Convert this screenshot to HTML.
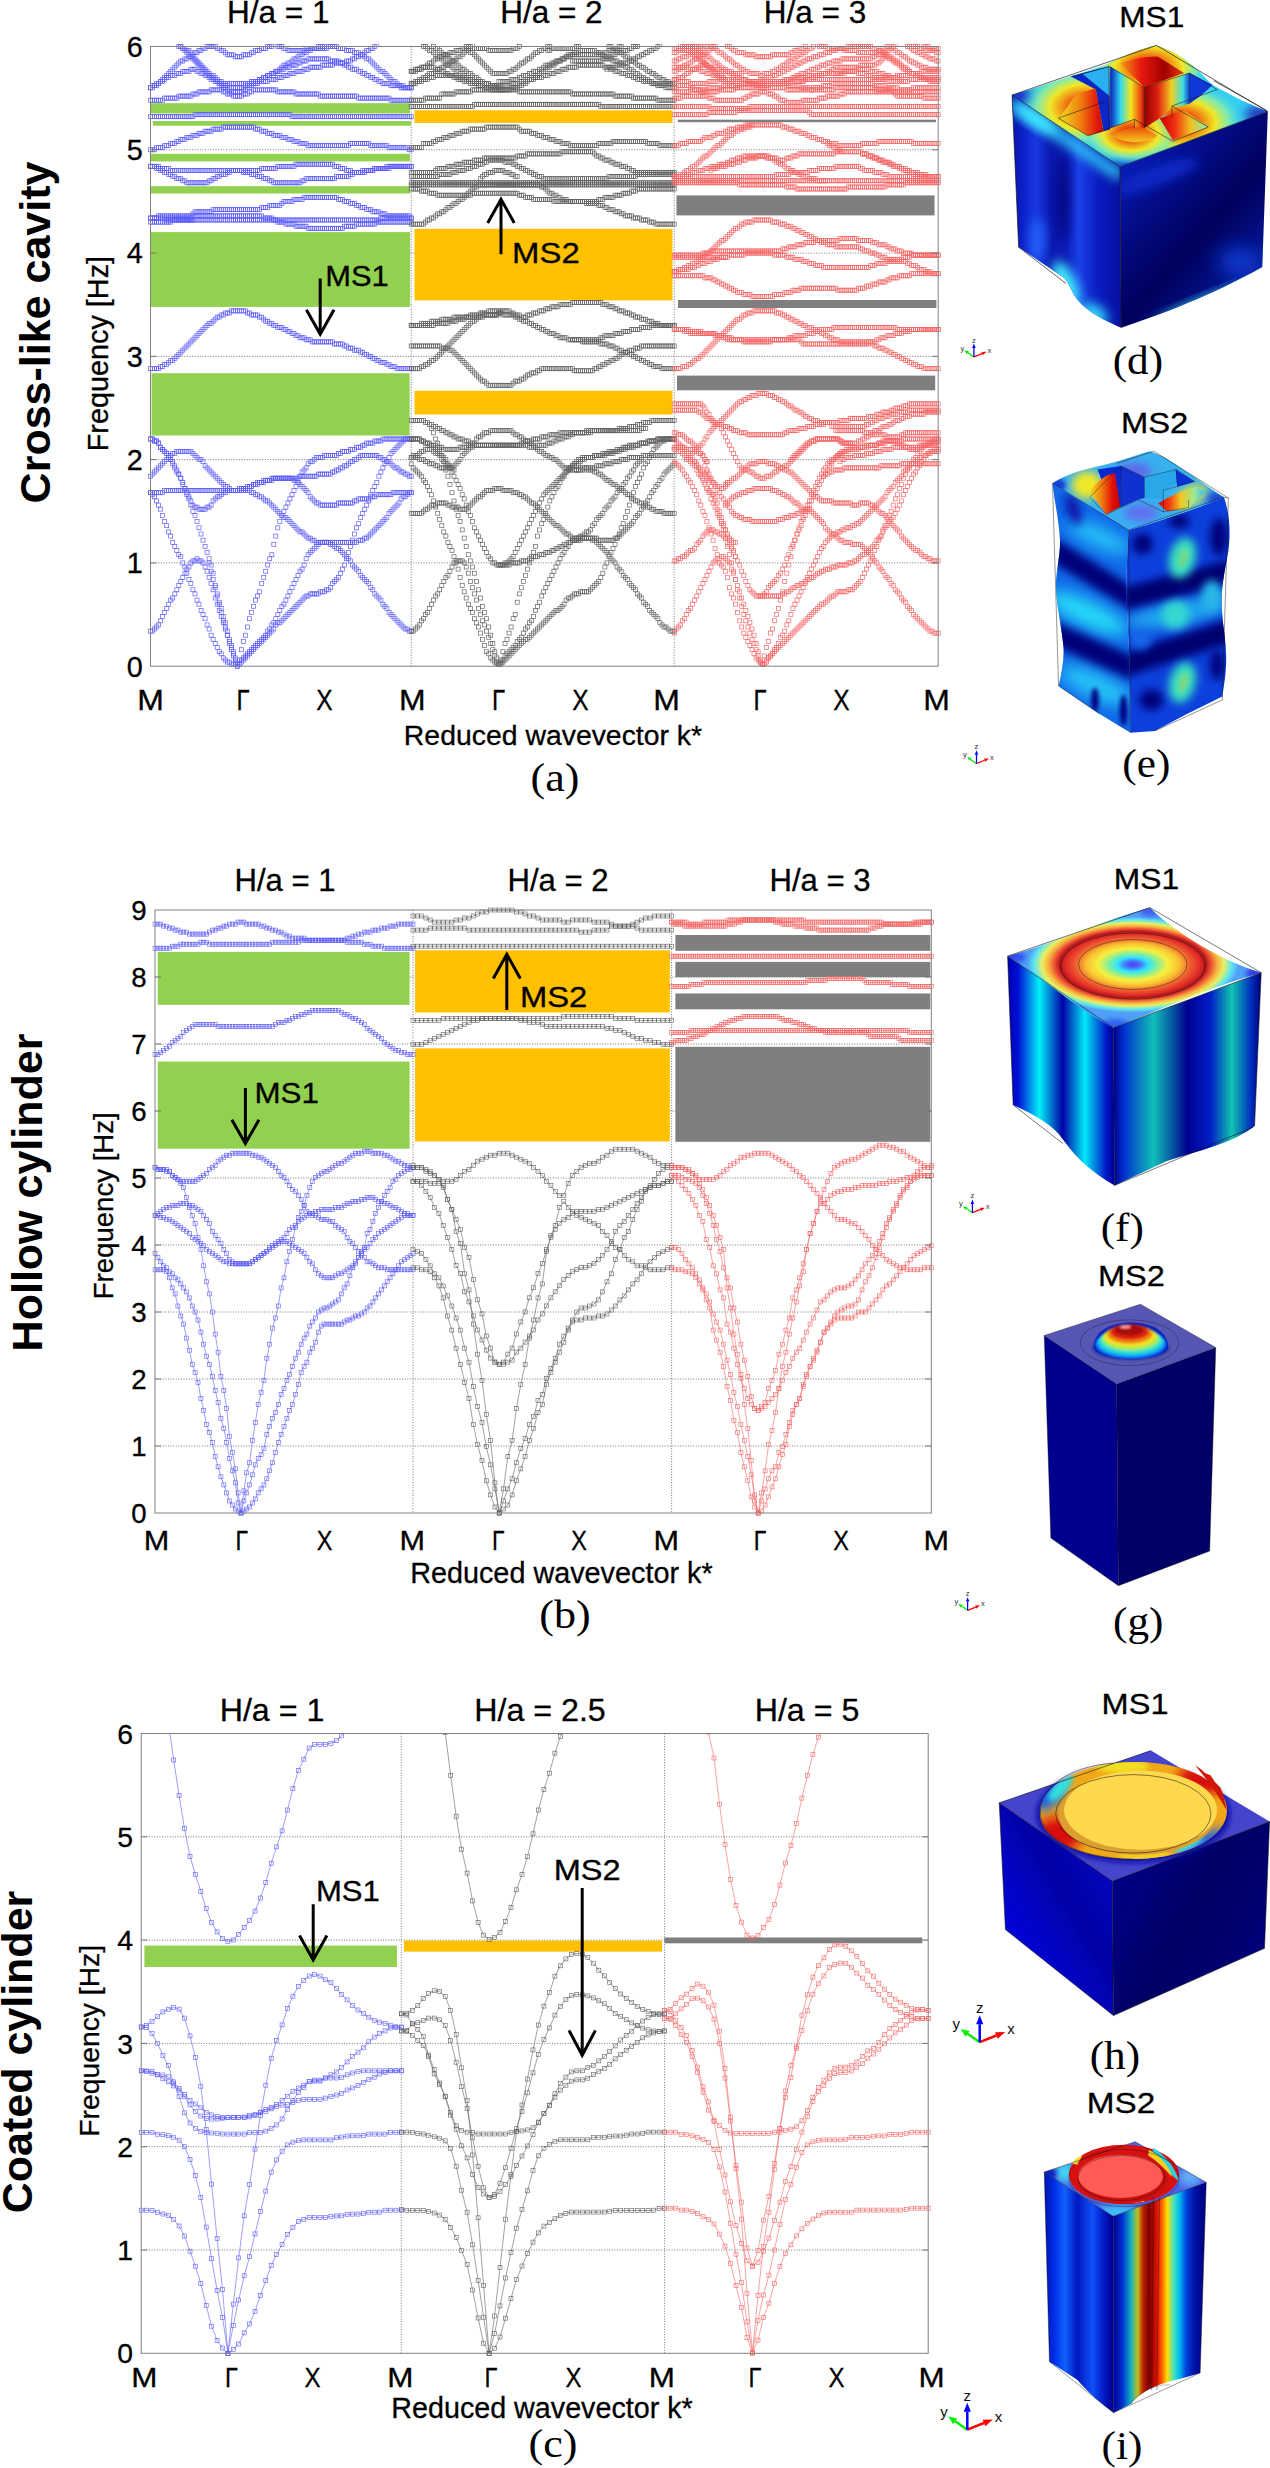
<!DOCTYPE html>
<html lang="en"><head><meta charset="utf-8"><title>Band structures and mode shapes</title>
<style>
html,body{margin:0;padding:0;background:#fff}
body{width:1270px;height:2468px;overflow:hidden}
svg{display:block}
text{font-family:"Liberation Sans", sans-serif;fill:#000}
.tta,.ttb,.ttc,.tka,.tkb,.tkc,.an{stroke:#000;stroke-width:0.3px}
.tka{font-size:28.8px}
.tkb{font-size:27.6px}
.tkc{font-size:28.3px}
.tta{font-size:31.5px}
.ttb{font-size:31.1px}
.ttc{font-size:32.2px}
.an{font-size:30px}
.nm{font-size:43px;font-weight:bold}
.tg{font-family:"Liberation Serif", serif;font-size:40px}
.ax{font-size:7.6px;fill:#333}
.ax2{font-size:15px;fill:#111}
.grid{stroke:#555;stroke-width:0.8;stroke-dasharray:1 1.6;fill:none}
.box{fill:none;stroke:#808080;stroke-width:1}
path.m0,path.m1,path.m2,path.l0,path.l1,path.l2{fill:none}
path.m0{stroke:none;marker-start:url(#s0);marker-mid:url(#s0);marker-end:url(#s0)}
path.l0{stroke:#5c5cfa;stroke-width:0.6;marker-start:url(#t0);marker-mid:url(#t0);marker-end:url(#t0)}
path.m1{stroke:none;marker-start:url(#s1);marker-mid:url(#s1);marker-end:url(#s1)}
path.l1{stroke:#626262;stroke-width:0.6;marker-start:url(#t1);marker-mid:url(#t1);marker-end:url(#t1)}
path.m2{stroke:none;marker-start:url(#s2);marker-mid:url(#s2);marker-end:url(#s2)}
path.l2{stroke:#f56666;stroke-width:0.6;marker-start:url(#t2);marker-mid:url(#t2);marker-end:url(#t2)}
.arr{stroke:#000;stroke-width:2.6;fill:none;stroke-linecap:butt;stroke-linejoin:miter}
</style></head><body>
<svg width="1270" height="2468" viewBox="0 0 1270 2468">
<defs>
<marker id="s0" markerUnits="userSpaceOnUse" markerWidth="6" markerHeight="6" refX="3" refY="3" orient="0"><rect x="1.0" y="1.0" width="4" height="4" fill="none" stroke="#5c5cfa" stroke-width="0.68"/></marker>
<marker id="t0" markerUnits="userSpaceOnUse" markerWidth="6" markerHeight="6" refX="3" refY="3" orient="0"><rect x="1.0" y="1.0" width="4" height="4" fill="none" stroke="#5c5cfa" stroke-width="0.6"/></marker>
<marker id="s1" markerUnits="userSpaceOnUse" markerWidth="6" markerHeight="6" refX="3" refY="3" orient="0"><rect x="1.0" y="1.0" width="4" height="4" fill="none" stroke="#626262" stroke-width="0.68"/></marker>
<marker id="t1" markerUnits="userSpaceOnUse" markerWidth="6" markerHeight="6" refX="3" refY="3" orient="0"><rect x="1.0" y="1.0" width="4" height="4" fill="none" stroke="#626262" stroke-width="0.6"/></marker>
<marker id="s2" markerUnits="userSpaceOnUse" markerWidth="6" markerHeight="6" refX="3" refY="3" orient="0"><rect x="1.0" y="1.0" width="4" height="4" fill="none" stroke="#f56666" stroke-width="0.68"/></marker>
<marker id="t2" markerUnits="userSpaceOnUse" markerWidth="6" markerHeight="6" refX="3" refY="3" orient="0"><rect x="1.0" y="1.0" width="4" height="4" fill="none" stroke="#f56666" stroke-width="0.6"/></marker>
<clipPath id="cpa"><rect x="147.8" y="43.7" width="793.1" height="626.0"/></clipPath>
<clipPath id="cpb"><rect x="152.3" y="907.2" width="781.7" height="609.3"/></clipPath>
<clipPath id="cpc"><rect x="138.5" y="1733.0" width="792.4" height="623.8"/></clipPath>
<filter id="f6" x="-50%" y="-50%" width="200%" height="200%"><feGaussianBlur stdDeviation="6"/></filter>
<filter id="f12" x="-50%" y="-50%" width="200%" height="200%"><feGaussianBlur stdDeviation="12"/></filter>
<filter id="f25" x="-50%" y="-50%" width="200%" height="200%"><feGaussianBlur stdDeviation="25"/></filter>
<filter id="f45" x="-60%" y="-60%" width="220%" height="220%"><feGaussianBlur stdDeviation="45"/></filter>
<clipPath id="dcl"><path d="M100,295 L590,620 L595,1350 C480,1300 400,1250 370,1180 C350,1140 340,1125 330,1120 L130,985 Z"/></clipPath>
<clipPath id="dcr"><path d="M590,620 L1260,370 L1235,1075 C1100,1150 900,1250 595,1350 Z"/></clipPath>
<clipPath id="dct"><path d="M100,295 C250,250 400,200 520,160 C620,110 700,80 755,70 C900,120 960,200 1010,250 C1100,300 1180,340 1260,370 L590,620 Z"/></clipPath>
<linearGradient id="dgl" gradientUnits="userSpaceOnUse" x1="100" y1="0" x2="590" y2="0"><stop offset="0" stop-color="#0a14b0"/><stop offset="0.1" stop-color="#0c20c8"/><stop offset="0.22" stop-color="#1838e0"/><stop offset="0.36" stop-color="#0a18b0"/><stop offset="0.5" stop-color="#0c1cb8"/><stop offset="0.62" stop-color="#1a40e8"/><stop offset="0.8" stop-color="#0a1cc0"/><stop offset="1" stop-color="#0610a0"/></linearGradient>
<linearGradient id="dgr" gradientUnits="userSpaceOnUse" x1="590" y1="620" x2="1240" y2="1200"><stop offset="0" stop-color="#0a1cb8"/><stop offset="0.25" stop-color="#040c88"/><stop offset="0.55" stop-color="#00005c"/><stop offset="0.8" stop-color="#041088"/><stop offset="1" stop-color="#0c30c0"/></linearGradient>
<radialGradient id="dh1" gradientUnits="userSpaceOnUse" cx="440" cy="350" r="340" gradientTransform="translate(0,350) scale(1,0.62) translate(0,-350)"><stop offset="0" stop-color="#e01008" stop-opacity="1"/><stop offset="0.22" stop-color="#f05010" stop-opacity="1"/><stop offset="0.36" stop-color="#f0a018" stop-opacity="1"/><stop offset="0.5" stop-color="#f0e828" stop-opacity="1"/><stop offset="0.68" stop-color="#90f0a0" stop-opacity="0.8"/><stop offset="0.9" stop-color="#34d0f0" stop-opacity="0"/></radialGradient>
<radialGradient id="dh2" gradientUnits="userSpaceOnUse" cx="720" cy="170" r="310" gradientTransform="translate(0,170) scale(1,0.62) translate(0,-170)"><stop offset="0" stop-color="#e01008" stop-opacity="1"/><stop offset="0.22" stop-color="#f05010" stop-opacity="1"/><stop offset="0.36" stop-color="#f0a018" stop-opacity="1"/><stop offset="0.5" stop-color="#f0e828" stop-opacity="1"/><stop offset="0.68" stop-color="#90f0a0" stop-opacity="0.8"/><stop offset="0.9" stop-color="#34d0f0" stop-opacity="0"/></radialGradient>
<radialGradient id="dh3" gradientUnits="userSpaceOnUse" cx="860" cy="420" r="330" gradientTransform="translate(0,420) scale(1,0.62) translate(0,-420)"><stop offset="0" stop-color="#e01008" stop-opacity="1"/><stop offset="0.22" stop-color="#f05010" stop-opacity="1"/><stop offset="0.36" stop-color="#f0a018" stop-opacity="1"/><stop offset="0.5" stop-color="#f0e828" stop-opacity="1"/><stop offset="0.68" stop-color="#90f0a0" stop-opacity="0.8"/><stop offset="0.9" stop-color="#34d0f0" stop-opacity="0"/></radialGradient>
<radialGradient id="dh4" gradientUnits="userSpaceOnUse" cx="640" cy="470" r="250" gradientTransform="translate(0,470) scale(1,0.62) translate(0,-470)"><stop offset="0" stop-color="#e01008" stop-opacity="1"/><stop offset="0.22" stop-color="#f05010" stop-opacity="1"/><stop offset="0.36" stop-color="#f0a018" stop-opacity="1"/><stop offset="0.5" stop-color="#f0e828" stop-opacity="1"/><stop offset="0.68" stop-color="#90f0a0" stop-opacity="0.8"/><stop offset="0.9" stop-color="#34d0f0" stop-opacity="0"/></radialGradient>
<linearGradient id="dgw" gradientUnits="userSpaceOnUse" x1="545" y1="0" x2="700" y2="0"><stop offset="0" stop-color="#0820c0"/><stop offset="0.3" stop-color="#30d8f0"/><stop offset="0.6" stop-color="#f0e820"/><stop offset="0.85" stop-color="#f06010"/><stop offset="1" stop-color="#c01008"/></linearGradient>
<linearGradient id="dgw2" gradientUnits="userSpaceOnUse" x1="700" y1="0" x2="905" y2="0"><stop offset="0" stop-color="#900000"/><stop offset="0.3" stop-color="#e02010"/><stop offset="0.6" stop-color="#f0d020"/><stop offset="0.85" stop-color="#40e0e0"/><stop offset="1" stop-color="#1040e0"/></linearGradient>
<linearGradient id="dgw3" gradientUnits="userSpaceOnUse" x1="590" y1="0" x2="860" y2="0"><stop offset="0" stop-color="#f0a010"/><stop offset="0.35" stop-color="#e81810"/><stop offset="0.75" stop-color="#a00000"/><stop offset="1" stop-color="#d83010"/></linearGradient>
<linearGradient id="dgw4" gradientUnits="userSpaceOnUse" x1="310" y1="0" x2="530" y2="0"><stop offset="0" stop-color="#f0e020"/><stop offset="0.45" stop-color="#f08010"/><stop offset="0.8" stop-color="#e01808"/><stop offset="1" stop-color="#b80000"/></linearGradient>
<linearGradient id="dgw5" gradientUnits="userSpaceOnUse" x1="770" y1="0" x2="1000" y2="0"><stop offset="0" stop-color="#c80000"/><stop offset="0.3" stop-color="#f03010"/><stop offset="0.6" stop-color="#f0c020"/><stop offset="1" stop-color="#80f0c0"/></linearGradient>
<linearGradient id="dgw6" gradientUnits="userSpaceOnUse" x1="0" y1="400" x2="0" y2="520"><stop offset="0" stop-color="#d81008"/><stop offset="0.5" stop-color="#f07010"/><stop offset="1" stop-color="#f0e020"/></linearGradient>
<clipPath id="ecl"><path d="M130,250 C250,330 420,420 570,520 C555,700 555,900 565,1100 C580,1300 578,1500 580,1690 L400,1580 L165,1420 C185,1340 200,1250 192,1180 C180,1060 150,950 150,830 C152,740 180,650 172,560 C165,450 140,350 130,250 Z"/></clipPath>
<clipPath id="ecr"><path d="M570,520 C750,470 950,400 1120,330 C1150,420 1160,520 1145,640 C1125,760 1100,850 1108,980 C1115,1100 1140,1200 1130,1320 C1125,1400 1115,1440 1110,1480 L900,1585 L720,1680 L580,1690 C578,1500 580,1300 565,1100 C555,900 555,700 570,520 Z"/></clipPath>
<clipPath id="ect"><path d="M130,250 C220,190 320,170 400,150 C500,130 600,90 690,65 C780,90 850,150 900,180 C980,230 1050,290 1120,330 C950,400 750,470 570,520 C420,420 250,330 130,250 Z"/></clipPath>
<linearGradient id="egw1" gradientUnits="userSpaceOnUse" x1="340" y1="0" x2="520" y2="0"><stop offset="0" stop-color="#f0e020"/><stop offset="0.4" stop-color="#f08010"/><stop offset="0.75" stop-color="#e01008"/><stop offset="1" stop-color="#c00000"/></linearGradient>
<linearGradient id="egw2" gradientUnits="userSpaceOnUse" x1="740" y1="0" x2="1000" y2="0"><stop offset="0" stop-color="#e00000"/><stop offset="0.25" stop-color="#f04010"/><stop offset="0.5" stop-color="#f0c820"/><stop offset="0.8" stop-color="#a0e890"/><stop offset="1" stop-color="#40c8f0"/></linearGradient>
<clipPath id="fct"><path d="M80,300 C300,240 500,140 725,80 C850,200 1050,320 1230,375 C1000,440 780,540 560,625 C400,540 240,400 80,300 Z"/></clipPath>
<linearGradient id="fgl" gradientUnits="userSpaceOnUse" x1="80" y1="0" x2="560" y2="0"><stop offset="0" stop-color="#0000b0"/><stop offset="0.1" stop-color="#0010d8"/><stop offset="0.3" stop-color="#00f0f8"/><stop offset="0.52" stop-color="#0000a8"/><stop offset="0.73" stop-color="#00e8f8"/><stop offset="0.93" stop-color="#0018c8"/><stop offset="1" stop-color="#000098"/></linearGradient>
<linearGradient id="fgr" gradientUnits="userSpaceOnUse" x1="560" y1="0" x2="1230" y2="0"><stop offset="0" stop-color="#000088"/><stop offset="0.07" stop-color="#0030d0"/><stop offset="0.27" stop-color="#10c0b8"/><stop offset="0.5" stop-color="#000090"/><stop offset="0.66" stop-color="#0020c8"/><stop offset="0.8" stop-color="#10c4b0"/><stop offset="0.93" stop-color="#0030c0"/><stop offset="1" stop-color="#000078"/></linearGradient>
<radialGradient id="fgt" gradientUnits="userSpaceOnUse" cx="648" cy="338" r="480" gradientTransform="translate(0,338) scale(1,0.455) translate(0,-338)"><stop offset="0" stop-color="#5040e8"/><stop offset="0.07" stop-color="#4870ff"/><stop offset="0.15" stop-color="#30e8f8"/><stop offset="0.24" stop-color="#90f090"/><stop offset="0.33" stop-color="#f8f040"/><stop offset="0.44" stop-color="#f8c030"/><stop offset="0.54" stop-color="#f06030"/><stop offset="0.64" stop-color="#e02828"/><stop offset="0.69" stop-color="#b01818"/><stop offset="0.73" stop-color="#e84030"/><stop offset="0.8" stop-color="#f8b040"/><stop offset="0.86" stop-color="#e8f060"/><stop offset="0.93" stop-color="#60e8f0"/><stop offset="1" stop-color="#50a0f8"/></radialGradient>
<clipPath id="gcd"><path d="M425,385 C425,300 520,245 640,245 C760,245 855,300 855,385 C855,425 760,458 640,458 C520,458 425,425 425,385 Z"/></clipPath>
<linearGradient id="hgl" gradientUnits="userSpaceOnUse" x1="42" y1="900" x2="560" y2="600"><stop offset="0" stop-color="#0000e0"/><stop offset="0.45" stop-color="#0404b8"/><stop offset="0.6" stop-color="#0000a4"/><stop offset="1" stop-color="#0606c0"/></linearGradient>
<linearGradient id="hgr" gradientUnits="userSpaceOnUse" x1="555" y1="640" x2="1260" y2="1000"><stop offset="0" stop-color="#000088"/><stop offset="0.5" stop-color="#000064"/><stop offset="1" stop-color="#00007c"/></linearGradient>
<clipPath id="hcr"><path d="M225,330 C225,210 410,100 660,100 C900,100 1075,200 1075,320 C1075,440 890,540 650,540 C410,540 225,450 225,330 Z"/></clipPath>
<linearGradient id="igl" gradientUnits="userSpaceOnUse" x1="140" y1="0" x2="538" y2="0"><stop offset="0" stop-color="#0010b0"/><stop offset="0.15" stop-color="#0030e8"/><stop offset="0.3" stop-color="#1060ff"/><stop offset="0.48" stop-color="#0018c0"/><stop offset="0.7" stop-color="#1050f8"/><stop offset="0.9" stop-color="#0010b8"/><stop offset="1" stop-color="#000090"/></linearGradient>
<linearGradient id="igr" gradientUnits="userSpaceOnUse" x1="538" y1="0" x2="1075" y2="0"><stop offset="0" stop-color="#000090"/><stop offset="0.1" stop-color="#0030d0"/><stop offset="0.19" stop-color="#10b0c0"/><stop offset="0.265" stop-color="#c0c020"/><stop offset="0.32" stop-color="#c02000"/><stop offset="0.385" stop-color="#780000"/><stop offset="0.47" stop-color="#e01000"/><stop offset="0.525" stop-color="#ff6000"/><stop offset="0.58" stop-color="#ffe000"/><stop offset="0.655" stop-color="#40e0c0"/><stop offset="0.71" stop-color="#00c0f0"/><stop offset="0.785" stop-color="#0040e0"/><stop offset="0.88" stop-color="#0010a0"/><stop offset="1" stop-color="#000080"/></linearGradient>
<clipPath id="ict"><path d="M140,300 C300,250 500,180 665,125 C800,200 950,290 1075,360 L538,555 Z"/></clipPath>
</defs>
<rect width="1270" height="2468" fill="#fff"/>
<g id="panel-a">
<line class="grid" x1="150.5" x2="938.2" y1="562.9" y2="562.9"/>
<line class="grid" x1="150.5" x2="938.2" y1="459.6" y2="459.6"/>
<line class="grid" x1="150.5" x2="938.2" y1="356.4" y2="356.4"/>
<line class="grid" x1="150.5" x2="938.2" y1="253.1" y2="253.1"/>
<line class="grid" x1="150.5" x2="938.2" y1="149.8" y2="149.8"/>
<line class="grid" x1="411.2" x2="411.2" y1="46.5" y2="666.2"/>
<line class="grid" x1="674.2" x2="674.2" y1="46.5" y2="666.2"/>
<rect x="151.0" y="103.2" width="259.0" height="10.2" fill="#92d050"/>
<rect x="152.8" y="121.0" width="258.2" height="4.7" fill="#92d050"/>
<rect x="151.0" y="153.8" width="259.0" height="7.6" fill="#92d050"/>
<rect x="151.0" y="186.2" width="259.0" height="7.3" fill="#92d050"/>
<rect x="151.0" y="232.1" width="259.0" height="74.8" fill="#92d050"/>
<rect x="151.6" y="373.2" width="258.0" height="62.3" fill="#92d050"/>
<rect x="414.5" y="110.3" width="258.0" height="12.6" fill="#ffc000"/>
<rect x="414.5" y="228.8" width="258.0" height="71.6" fill="#ffc000"/>
<rect x="414.5" y="390.8" width="258.0" height="23.7" fill="#ffc000"/>
<rect x="677.8" y="119.7" width="258.2" height="2.5" fill="#7f7f7f"/>
<rect x="676.5" y="195.4" width="258.0" height="20.0" fill="#7f7f7f"/>
<rect x="678.0" y="300.0" width="258.4" height="8.0" fill="#7f7f7f"/>
<rect x="677.0" y="375.6" width="258.2" height="14.7" fill="#7f7f7f"/>
<g class="m0" clip-path="url(#cpa)">
<path class="m0" d="M178.8,46.5l2,0l2,2.1l2.1,0l2,2l2,0l2,2.1l2,4.1l2.1,2.1l2,2.1l2,2l2,2.1l2,2.1l2.1,2l2,2.1l2,2.1l2,2l2,0l2.1,2.1l2,2.1l2,2l2,0l2.1,2.1l2,0l2,0l2,0l2,0l2.1,0l2,0l2,0l2,0l2,0l2.1,0l2,0l2,0l2,0l2,-2.1l2.1,0l2,0l2,0l2,-2l2.1,0l2,-2.1l2,0l2,-2.1l2,0l2.1,-2l2,0l2,-2.1l2,0l2,-2.1l2.1,-2l2,-2.1l2,0l2,-2.1l2,0l2.1,-2l2,-2.1l2,0l2,-2.1l2,-2l2.1,0l2,-2.1l2,0l2,-2.1l2.1,0l2,-2l2,0l2,0l2,0l2.1,0l2,0l2,0l2,0l2,-2.1l2.1,0l2,0l2,0l2,0l2,2.1l2.1,0l2,0l2,0l2,2l2.1,0l2,0l2,0l2,2.1l2,0l2.1,0l2,2.1l2,0l2,2l2,2.1l2.1,0l2,2.1l2,2l2,2.1l2,2.1l2.1,2l2,2.1l2,0l2,2.1l2,2l2.1,2.1l2,2.1l2,2l2,0l2.1,2.1l2,2l2,0l2,0l2,2.1l2.1,0l2,0l2,0"/>
<path class="m0" d="M150.5,87.8l2,0l2,-2.1l2.1,0l2,-2l2,-2.1l2,-2l2,-2.1l2.1,-2.1l2,-2l2,-2.1l2,-2.1l2.1,-2l2,-2.1l2,-2.1l2,-2l2,0l2.1,-2.1l2,0l2,-2.1l2,0l2,-2l2.1,-2.1l2,0l2,-2.1l2,0l2,-2l2.1,0l2,-2.1l2,0l2,0l2,0l2.1,0l2,2.1l2,0l2,2l2.1,0l2,2.1l2,2.1l2,0l2,0l2.1,0l2,2l2,0l2,0l2,0l2.1,-2l2,0l2,0l2,0l2,-2.1l2.1,0l2,-2.1l2,0l2,0l2.1,-2l2,0l2,0l2,-2.1l2,0l2.1,0"/>
<path class="m0" d="M277.8,46.5l2,0l2.1,0l2,2.1l2,0l2,2l2,0l2.1,0l2,0l2,0l2,0l2,0l2.1,0l2,0l2,-2l2,0l2.1,0l2,0l2,0l2,0l2,-2.1l2.1,0l2,0l2,0"/>
<path class="m0" d="M150.5,87.8l2,-2.1l2,0l2.1,-2l2,0l2,-2.1l2,0l2,-2l2.1,-2.1l2,0l2,-2.1l2,0l2.1,0l2,-2l2,0l2,0l2,-2.1l2.1,0l2,0l2,0l2,-2.1l2,0l2.1,0l2,2.1l2,0l2,2.1l2,0l2.1,2l2,0l2,2.1l2,2.1l2,0l2.1,2l2,0l2,2.1l2,0l2.1,2l2,0l2,0l2,2.1l2,0l2.1,0l2,0l2,0l2,0l2,0l2.1,0l2,-2.1l2,0l2,0l2,-2l2.1,0l2,-2.1l2,0l2,-2l2.1,0l2,-2.1l2,0l2,-2.1l2,0l2.1,-2l2,0l2,-2.1l2,0l2,0l2.1,-2.1l2,0l2,-2l2,0l2,0l2.1,-2.1l2,0l2,0l2,-2.1l2,0l2.1,-2l2,0l2,0l2,-2.1l2.1,0l2,0l2,0l2,0l2,0l2.1,0l2,0l2,0l2,0l2,0l2.1,2.1l2,0l2,0l2,0l2,0l2.1,2l2,0l2,2.1l2,0l2.1,2.1l2,0l2,2l2,0l2,0l2.1,2.1l2,0l2,2.1l2,0l2,2l2.1,0l2,2.1l2,0l2,2.1l2,0l2.1,2l2,0l2,2.1l2,0l2,0l2.1,0l2,2l2,0l2,0l2.1,0l2,0l2,2.1l2,0l2,0l2.1,0l2,0l2,0"/>
<path class="m0" d="M180.8,46.5l2,2.1l2.1,2l2,2.1l2,2.1l2,2l2,2.1l2.1,2.1l2,2l2,2.1l2,2.1l2,2l2.1,2.1l2,2.1l2,2l2,2.1l2,0l2.1,2.1l2,2l2,2.1l2,2l2.1,2.1l2,0l2,2.1l2,2l2,0l2.1,0l2,0l2,0l2,0l2,0l2.1,-2l2,0l2,-2.1l2,-2.1l2,0l2.1,-2l2,0l2,0l2,-2.1l2.1,0l2,0l2,0l2,0l2,-2l2.1,0l2,0l2,0l2,-2.1l2,0l2.1,0l2,-2.1l2,0l2,0l2,-2l2.1,0l2,0l2,-2.1l2,0l2,0l2.1,0l2,-2.1l2,0l2,0l2.1,-2l2,0l2,0l2,0l2,0l2.1,0l2,-2.1l2,0l2,0l2,0l2.1,0l2,0l2,-2.1l2,0l2,0l2.1,0l2,0l2,0l2,-2l2.1,0l2,0l2,-2.1l2,0l2,-2.1l2.1,0l2,-2l2,0l2,-2.1l2,-2.1l2.1,0l2,-2l2,0l2,-2.1l2,-2.1"/>
<path class="m0" d="M150.5,100.2l2,0l2,0l2.1,0l2,0l2,0l2,0l2,-2.1l2.1,0l2,0l2,0l2,0l2.1,0l2,0l2,-2l2,0l2,0l2.1,0l2,0l2,0l2,0l2,-2.1l2.1,0l2,0l2,-2.1l2,0l2,0l2.1,0l2,0l2,0l2,-2l2,0l2.1,0l2,0l2,0l2,0l2.1,2l2,0l2,2.1l2,0l2,0l2.1,2.1l2,0l2,0l2,0l2,0l2.1,-2.1l2,0l2,0l2,-2.1l2,0l2.1,-2l2,0l2,0l2,0l2.1,0l2,0l2,0l2,0l2,0l2.1,0l2,0l2,0l2,2l2,0l2.1,0l2,0l2,0l2,0l2,0l2.1,0l2,0l2,2.1l2,0l2,0l2.1,0l2,0l2,0l2,0l2.1,0l2,0l2,0l2,0l2,0l2.1,2.1l2,0l2,0l2,0l2,0l2.1,0l2,0l2,0l2,0l2,0l2.1,0l2,0l2,0l2,0l2.1,0l2,0l2,0l2,0l2,0l2.1,2l2,0l2,0l2,0l2,0l2.1,0l2,0l2,0l2,0l2,0l2.1,0l2,0l2,0l2,0l2,0l2.1,0l2,2.1l2,0l2,0l2.1,0l2,0l2,0l2,0l2,0l2.1,0l2,0l2,0"/>
<path class="m0" d="M150.5,116.7l2,0l2,0l2.1,0l2,0l2,0l2,0l2,0l2.1,0l2,0l2,0l2,0l2.1,0l2,0l2,0l2,0l2,0l2.1,0l2,0l2,0l2,0l2,0l2.1,-2l2,0l2,0l2,0l2,0l2.1,0l2,0l2,0l2,0l2,0l2.1,0l2,0l2,0l2,0l2.1,0l2,0l2,0l2,0l2,0l2.1,0l2,0l2,0l2,0l2,0l2.1,0l2,0l2,0l2,0l2,0l2.1,0l2,0l2,0l2,0l2.1,0l2,0l2,0l2,0l2,0l2.1,0l2,0l2,0l2,0l2,0l2.1,0l2,0l2,0l2,0l2,0l2.1,2l2,0l2,0l2,0l2,0l2.1,0l2,0l2,0l2,0l2.1,0l2,0l2,0l2,0l2,0l2.1,0l2,0l2,0l2,0l2,0l2.1,0l2,0l2,0l2,0l2,0l2.1,0l2,0l2,0l2,0l2.1,0l2,0l2,0l2,0l2,0l2.1,0l2,0l2,0l2,0l2,0l2.1,0l2,0l2,0l2,0l2,0l2.1,0l2,0l2,0l2,0l2,0l2.1,0l2,0l2,0l2,0l2.1,0l2,0l2,0l2,0l2,0l2.1,0l2,0l2,0"/>
<path class="m0" d="M150.5,149.8l2,0l2,0l2.1,-2.1l2,0l2,0l2,0l2,-2l2.1,0l2,0l2,-2.1l2,0l2.1,0l2,-2.1l2,0l2,-2l2,0l2.1,0l2,-2.1l2,0l2,0l2,-2.1l2.1,0l2,0l2,-2l2,0l2,0l2.1,-2.1l2,0l2,0l2,0l2,-2.1l2.1,0l2,0l2,0l2,0l2.1,-2l2,0l2,0l2,0l2,0l2.1,0l2,0l2,0l2,0l2,0l2.1,0l2,0l2,0l2,0l2,0l2.1,0l2,2l2,0l2,0l2.1,2.1l2,0l2,0l2,2.1l2,0l2.1,0l2,2l2,0l2,0l2,0l2.1,2.1l2,0l2,0l2,2.1l2,0l2.1,0l2,2l2,0l2,0l2,2.1l2.1,0l2,0l2,0l2,2.1l2.1,0l2,0l2,0l2,0l2,0l2.1,0l2,0l2,0l2,0l2,0l2.1,0l2,0l2,0l2,0l2,0l2.1,0l2,0l2,0l2,0l2.1,0l2,-2.1l2,0l2,0l2,0l2.1,0l2,0l2,0l2,0l2,0l2.1,0l2,2.1l2,0l2,0l2,0l2.1,0l2,0l2,0l2,0l2,0l2.1,2l2,0l2,0l2,0l2.1,0l2,0l2,0l2,0l2,0l2.1,0l2,2.1l2,0"/>
<path class="m0" d="M150.5,166.3l2,0l2,0l2.1,0l2,0l2,2.1l2,0l2,0l2.1,0l2,0l2,2l2,0l2.1,0l2,0l2,0l2,0l2,0l2.1,0l2,0l2,0l2,0l2,0l2.1,0l2,0l2,0l2,0l2,0l2.1,0l2,0l2,0l2,0l2,0l2.1,0l2,0l2,0l2,0l2.1,0l2,0l2,0l2,0l2,0l2.1,0l2,0l2,0l2,0l2,0l2.1,0l2,0l2,0l2,0l2,0l2.1,0l2,0l2,0l2,0l2.1,-2l2,0l2,0l2,0l2,0l2.1,0l2,0l2,0l2,-2.1l2,0l2.1,0l2,0l2,0l2,0l2,0l2.1,0l2,0l2,-2.1l2,0l2,0l2.1,0l2,0l2,0l2,0l2.1,0l2,0l2,0l2,0l2,0l2.1,0l2,0l2,0l2,0l2,0l2.1,0l2,0l2,2.1l2,0l2,0l2.1,2.1l2,0l2,0l2,2l2.1,0l2,0l2,2.1l2,0l2,0l2.1,0l2,0l2,0l2,0l2,-2.1l2.1,0l2,0l2,0l2,-2l2,0l2.1,0l2,0l2,0l2,0l2,-2.1l2.1,0l2,0l2,0l2,0l2.1,0l2,0l2,0l2,0l2,0l2.1,0l2,0l2,0"/>
<path class="m0" d="M150.5,166.3l2,0l2,0l2.1,2.1l2,0l2,2l2,0l2,2.1l2.1,0l2,2.1l2,0l2,2l2.1,0l2,2.1l2,0l2,0l2,2.1l2.1,0l2,2l2,0l2,0l2,0l2.1,0l2,0l2,0l2,0l2,0l2.1,0l2,0l2,-2l2,0l2,-2.1l2.1,0l2,-2.1l2,0l2,-2l2.1,0l2,0l2,-2.1l2,0l2,-2.1l2.1,0l2,0l2,0l2,0l2,0l2.1,2.1l2,0l2,0l2,0l2,2.1l2.1,0l2,0l2,2l2,0l2.1,0l2,2.1l2,0l2,0l2,2.1l2.1,0l2,2l2,0l2,0l2,0l2.1,0l2,0l2,0l2,0l2,0l2.1,0l2,0l2,0l2,0l2,0l2.1,-2l2,0l2,-2.1l2,0l2.1,0l2,0l2,0l2,0l2,0l2.1,0l2,0l2,0l2,0l2,0l2.1,0l2,0l2,0l2,-2.1l2,0l2.1,0l2,0l2,0l2,0l2.1,0l2,-2l2,0l2,-2.1l2,0l2.1,0l2,0l2,-2.1l2,0l2,0l2.1,0l2,0l2,0l2,-2l2,0l2.1,0l2,0l2,0l2,0l2,0l2.1,0l2,-2.1l2,0l2,0l2.1,0l2,0l2,0l2,0l2,0l2.1,0l2,0l2,0"/>
<path class="m0" d="M150.5,218.0l2,0l2,0l2.1,0l2,-2.1l2,0l2,0l2,0l2.1,0l2,0l2,0l2,0l2.1,0l2,0l2,0l2,0l2,0l2.1,0l2,0l2,0l2,0l2,-2.1l2.1,-2l2,0l2,0l2,0l2,0l2.1,0l2,0l2,0l2,0l2,-2.1l2.1,0l2,0l2,0l2,0l2.1,0l2,0l2,0l2,0l2,0l2.1,0l2,0l2,0l2,0l2,0l2.1,0l2,0l2,0l2,0l2,0l2.1,0l2,0l2,0l2,0l2.1,-2.1l2,0l2,0l2,0l2,-2l2.1,0l2,0l2,0l2,0l2,0l2.1,-2.1l2,-2.1l2,0l2,0l2,0l2.1,0l2,-2l2,0l2,0l2,0l2.1,0l2,-2.1l2,0l2,0l2.1,0l2,0l2,0l2,0l2,0l2.1,0l2,0l2,0l2,0l2,0l2.1,0l2,0l2,0l2,0l2,2.1l2.1,0l2,0l2,2l2,0l2.1,0l2,2.1l2,0l2,0l2,2.1l2.1,0l2,2l2,0l2,0l2,2.1l2.1,0l2,0l2,2.1l2,0l2,0l2.1,0l2,2l2,0l2,0l2,2.1l2.1,0l2,0l2,0l2,0l2.1,0l2,0l2,0l2,0l2,0l2.1,0l2,0l2,2.1"/>
<path class="m0" d="M150.5,218.0l2,0l2,0l2.1,0l2,0l2,0l2,0l2,0l2.1,0l2,0l2,0l2,0l2.1,0l2,0l2,0l2,0l2,0l2.1,0l2,0l2,0l2,0l2,-2.1l2.1,0l2,0l2,0l2,0l2,0l2.1,0l2,0l2,0l2,0l2,0l2.1,0l2,0l2,0l2,0l2.1,0l2,0l2,0l2,0l2,0l2.1,0l2,0l2,0l2,0l2,0l2.1,0l2,0l2,0l2,0l2,0l2.1,0l2,0l2,0l2,0l2.1,0l2,2.1l2,0l2,0l2,0l2.1,0l2,2l2,0l2,0l2,0l2.1,0l2,0l2,0l2,0l2,0l2.1,0l2,0l2,0l2,0l2,0l2.1,0l2,0l2,0l2,0l2.1,0l2,0l2,0l2,0l2,0l2.1,0l2,0l2,0l2,0l2,0l2.1,0l2,0l2,0l2,0l2,0l2.1,0l2,0l2,0l2,0l2.1,0l2,0l2,0l2,0l2,0l2.1,0l2,0l2,0l2,0l2,0l2.1,0l2,0l2,0l2,0l2,0l2.1,0l2,-2l2,0l2,0l2,0l2.1,0l2,0l2,0l2,0l2.1,0l2,0l2,0l2,0l2,0l2.1,0l2,0l2,0"/>
<path class="m0" d="M150.5,222.1l2,0l2,0l2.1,0l2,0l2,0l2,0l2,0l2.1,0l2,0l2,0l2,-2.1l2.1,0l2,0l2,0l2,0l2,0l2.1,0l2,0l2,0l2,0l2,0l2.1,0l2,0l2,0l2,0l2,0l2.1,0l2,0l2,0l2,0l2,0l2.1,0l2,0l2,0l2,0l2.1,0l2,0l2,0l2,0l2,0l2.1,0l2,0l2,0l2,0l2,0l2.1,0l2,0l2,0l2,0l2,0l2.1,0l2,0l2,0l2,0l2.1,0l2,0l2,0l2,0l2,0l2.1,0l2,0l2,0l2,2.1l2,0l2.1,0l2,0l2,2l2,0l2,0l2.1,0l2,0l2,2.1l2,0l2,0l2.1,0l2,0l2,0l2,2.1l2.1,0l2,0l2,0l2,0l2,0l2.1,0l2,0l2,0l2,0l2,0l2.1,0l2,0l2,0l2,0l2,0l2.1,0l2,0l2,-2.1l2,0l2.1,0l2,0l2,0l2,0l2,-2.1l2.1,0l2,0l2,0l2,0l2,0l2.1,0l2,0l2,0l2,0l2,-2l2.1,0l2,0l2,0l2,0l2,0l2.1,0l2,0l2,0l2,0l2.1,0l2,0l2,0l2,0l2,0l2.1,0l2,0l2,0"/>
<path class="m0" d="M164.6,220.0l2.1,0l2,0l2,0l2,0l2.1,0l2,0l2,0l2,0l2,0l2.1,0l2,0l2,0l2,0l2,0"/>
<path class="m0" d="M150.5,368.7l2,0l2,0l2.1,0l2,0l2,-2l2,0l2,-2.1l2.1,0l2,-2.1l2,-2l2,0l2.1,-2.1l2,-2l2,-2.1l2,-2.1l2,-2l2.1,-2.1l2,-2.1l2,-2l2,-2.1l2,-2.1l2.1,-2l2,-2.1l2,-2.1l2,-2l2,-2.1l2.1,-2.1l2,-2l2,-2.1l2,0l2,-2.1l2.1,-2l2,-2.1l2,0l2,-2.1l2.1,0l2,-2l2,0l2,0l2,-2.1l2.1,0l2,0l2,0l2,0l2,0l2.1,0l2,0l2,2.1l2,0l2,2l2.1,0l2,0l2,0l2,2.1l2.1,0l2,2.1l2,2l2,0l2,2.1l2.1,0l2,2.1l2,0l2,2l2,0l2.1,0l2,2.1l2,0l2,2.1l2,0l2.1,2l2,0l2,2.1l2,0l2,2.1l2.1,0l2,0l2,2l2,0l2.1,0l2,2.1l2,0l2,0l2,0l2.1,0l2,0l2,0l2,0l2,0l2.1,0l2,0l2,2.1l2,0l2,0l2.1,0l2,0l2,2l2,0l2.1,2.1l2,0l2,0l2,2.1l2,0l2.1,0l2,2l2,0l2,2.1l2,0l2.1,2.1l2,0l2,2l2,0l2,2.1l2.1,0l2,2l2,0l2,0l2,2.1l2.1,0l2,2.1l2,0l2,0l2.1,2l2,0l2,0l2,0l2,0l2.1,0l2,0l2,0"/>
<path class="m0" d="M150.5,631.1l2,0l2,-2.1l2.1,-2l2,-2.1l2,-4.1l2,-4.2l2,-4.1l2.1,-4.1l2,-4.2l2,-4.1l2,-2.1l2.1,-4.1l2,-4.1l2,-4.2l2,-4.1l2,-4.1l2.1,-4.2l2,-4.1l2,-2.1l2,-4.1l2,-2l2.1,0l2,-2.1l2,2.1l2,0l2,2l2.1,4.1l2,4.2l2,6.2l2,6.2l2,6.2l2.1,8.2l2,6.2l2,6.2l2,6.2l2.1,6.2l2,6.2l2,6.2l2,8.3l2,6.2l2.1,6.2l2,6.2l2,4.1l2,-2.1l2,-4.1l2.1,-2.1l2,-2l2,-2.1l2,-2.1l2,-2l2.1,-2.1l2,-2.1l2,-2l2,-2.1l2.1,-2.1l2,-2l2,-2.1l2,-4.1l2,-2.1l2.1,-4.1l2,-2.1l2,-4.1l2,-4.1l2,-4.2l2.1,-4.1l2,-2.1l2,-4.1l2,-4.1l2,-4.2l2.1,-4.1l2,-4.1l2,-4.2l2,-4.1l2,-4.1l2.1,-2.1l2,-4.1l2,-6.2l2,-4.1l2.1,-2.1l2,-2.1l2,-2l2,-2.1l2,-2.1l2.1,-2l2,0l2,0l2,0l2,0l2.1,0l2,0l2,0l2,0l2,0l2.1,0l2,0l2,0l2,0l2.1,0l2,0l2,0l2,0l2,0l2.1,-2.1l2,0l2,0l2,-2.1l2,0l2.1,-2l2,-2.1l2,-2.1l2,-2l2,-2.1l2.1,-2.1l2,-2l2,-2.1l2,-2.1l2,-2l2.1,-4.2l2,-2l2,-2.1l2,-2.1l2.1,-2l2,-2.1l2,-4.1l2,-2.1l2,0l2.1,-2.1l2,-2l2,0"/>
<path class="m0" d="M150.5,492.7l2,2l2,2.1l2.1,4.1l2,4.2l2,4.1l2,6.2l2,6.2l2.1,4.1l2,6.2l2,4.2l2,6.2l2.1,4.1l2,4.1l2,4.2l2,2l2,6.2l2.1,4.1l2,6.2l2,6.2l2,4.2l2,6.2l2.1,4.1l2,6.2l2,4.1l2,6.2l2,4.2l2.1,4.1l2,6.2l2,4.1l2,6.2l2,4.1l2.1,4.2l2,4.1l2,4.1l2,2.1l2.1,4.1l2,2.1l2,2.1l2,0l2,2l2.1,0l2,0l2,2.1l2,-2.1l2,-2l2.1,-2.1l2,-2.1l2,-2l2,-2.1l2,-2.1l2.1,-2l2,-2.1l2,-2.1l2,-2l2.1,-2.1l2,-2.1l2,-2l2,-2.1l2,-2.1l2.1,-2l2,-2.1l2,-4.1l2,-2.1l2,0l2.1,-2l2,-2.1l2,-2.1l2,-2l2,-2.1l2.1,-2.1l2,-2l2,-2.1l2,-2.1l2,-2l2.1,-2.1l2,-2.1l2,-2l2,0l2.1,-2.1l2,0l2,0l2,0l2,0l2.1,-2.1l2,0l2,0l2,-2l2,0l2.1,-2.1l2,-4.1l2,-2.1l2,-2.1l2,-2l2.1,-4.2l2,-4.1l2,-4.1l2,-6.2l2.1,-6.2l2,-6.2l2,-6.2l2,-6.2l2,-6.2l2.1,-4.1l2,-6.2l2,-4.2l2,-4.1l2,-4.1l2.1,-4.2l2,-6.2l2,-4.1l2,-4.1l2,-4.1l2.1,-6.2l2,-4.2l2,-4.1l2,-4.1l2,-2.1l2.1,-4.1l2,-4.2l2,-2l2,-2.1l2.1,-2.1l2,-2l2,-2.1l2,-2.1l2,-2l2.1,0l2,0l2,0"/>
<path class="m0" d="M150.5,439.0l2,0l2,2l2.1,0l2,2.1l2,4.1l2,2.1l2,2.1l2.1,2l2,4.2l2,2l2,4.2l2.1,4.1l2,4.1l2,2.1l2,4.1l2,6.2l2.1,4.2l2,6.1l2,4.2l2,6.2l2,6.2l2.1,4.1l2,6.2l2,6.2l2,6.2l2,6.2l2.1,6.2l2,6.2l2,6.2l2,6.2l2,8.2l2.1,12.4l2,8.3l2,8.3l2,6.2l2.1,8.2l2,6.2l2,8.3l2,8.2l2,6.2l2.1,6.2l2,6.2l2,6.2l2,-4.1l2,-10.3l2.1,-8.3l2,-6.2l2,-8.2l2,-8.3l2,-6.2l2.1,-6.2l2,-6.2l2,-4.1l2,-4.2l2.1,-8.2l2,-6.2l2,-6.2l2,-6.2l2,-6.2l2.1,-4.1l2,-10.4l2,-8.2l2,-8.3l2,-6.2l2.1,-6.2l2,-4.1l2,-4.2l2,-4.1l2,-4.1l2.1,-4.2l2,-4.1l2,-4.1l2,-4.1l2,-6.2l2.1,-4.2l2,-2l2,-2.1l2,-4.1l2.1,-2.1l2,0l2,-2.1l2,-2l2,0l2.1,0l2,0l2,-2.1l2,0l2,0l2.1,0l2,0l2,0l2,0l2,-2.1l2.1,0l2,-2l2,0l2,0l2.1,0l2,-2.1l2,0l2,0l2,-2.1l2.1,0l2,0l2,-2l2,0l2,-2.1l2.1,0l2,0l2,0l2,-2.1l2,0l2.1,0l2,0l2,-2l2,0l2,0l2.1,0l2,0l2,0l2,0l2.1,0l2,0l2,0l2,0l2,0l2.1,0l2,0l2,0"/>
<path class="m0" d="M209.1,562.9l2,8.3l2,8.2l2.1,8.3l2,8.3l2,8.2l2,8.3l2.1,8.3l2,6.2l2,8.2l2,6.2l2,6.2l2.1,6.2l2,6.2l2,4.1"/>
<path class="m0" d="M324.3,542.3l2,0l2,0l2.1,2l2,0l2,2.1l2,2.1l2,0l2.1,2l2,2.1l2,2.1l2,2l2.1,2.1l2,2.1l2,4.1l2,2l2,2.1l2.1,2.1l2,4.1l2,2.1l2,2l2,2.1l2.1,2.1l2,4.1l2,2.1l2,4.1l2,2.1l2.1,2l2,2.1l2,4.1l2,2.1l2,2.1l2.1,4.1l2,2.1l2,2l2,2.1l2.1,2.1l2,2l2,2.1l2,2.1l2,2l2.1,0l2,2.1l2,0"/>
<path class="m0" d="M150.5,492.7l2,0l2,0l2.1,0l2,0l2,0l2,0l2,-2.1l2.1,0l2,0l2,0l2,0l2.1,0l2,0l2,0l2,0l2,0l2.1,0l2,0l2,0l2,0l2,0l2.1,0l2,0l2,0l2,0l2,0l2.1,0l2,0l2,0l2,0l2,0l2.1,0l2,0l2,0l2,0l2.1,0l2,0l2,0l2,0l2,0l2.1,0l2,0l2,0l2,0l2,0l2.1,0l2,0l2,0l2,0l2,2.1l2.1,0l2,2l2,0l2,2.1l2.1,0l2,2.1l2,2l2,0l2,2.1l2.1,2.1l2,2l2,2.1l2,2.1l2,2l2.1,2.1l2,2.1l2,0l2,2l2,2.1l2.1,2.1l2,2l2,2.1l2,2.1l2,2l2.1,0l2,2.1l2,2.1l2,2l2.1,0l2,2.1l2,0l2,2.1l2,0l2.1,0l2,0l2,0l2,0"/>
<path class="m0" d="M150.5,476.2l2,-2.1l2,-2.1l2.1,-2l2,-2.1l2,-2.1l2,-2l2,-2.1l2.1,-2.1l2,-2l2,-2.1l2,-2.1l2.1,0l2,-2l2,0l2,0l2,0l2.1,0l2,0l2,0l2,0l2,2l2.1,2.1l2,2.1l2,2l2,0l2,2.1l2.1,4.1l2,2.1l2,2.1l2,2l2,2.1l2.1,2.1l2,2l2,2.1l2,2.1l2.1,2l2,2.1l2,0l2,2.1l2,2l2.1,0l2,0l2,0l2,0l2,-2l2.1,0l2,0l2,0l2,-2.1l2,0l2.1,-2.1l2,0l2,0l2,-2l2.1,0l2,0l2,-2.1l2,0l2,0l2.1,-2.1l2,0l2,0l2,0l2,0l2.1,0l2,0l2,0l2,0l2,0l2.1,0l2,2.1l2,0l2,2.1l2,2l2.1,2.1l2,2.1l2,2l2,2.1l2.1,4.1l2,2.1l2,2l2,2.1l2,0l2.1,2.1l2,0l2,0l2,0l2,0l2.1,0l2,0l2,0l2,0l2,-2.1l2.1,0l2,0l2,0l2,0l2.1,0l2,0l2,0l2,-2.1l2,0l2.1,-2l2,0l2,0l2,0l2,0l2.1,0l2,-2.1l2,0l2,0l2,-2.1l2.1,0l2,0l2,0l2,0l2,0l2.1,0l2,0l2,-2l2,0l2.1,0l2,0l2,0l2,0l2,0l2.1,0l2,0l2,0"/>
<path class="m0" d="M150.5,439.0l2,0l2,2l2.1,0l2,2.1l2,4.1l2,2.1l2,2.1l2.1,2l2,2.1l2,4.1l2,2.1l2.1,4.1l2,4.2l2,4.1l2,4.1l2,4.2l2.1,6.2l2,4.1l2,4.1l2,4.1l2,4.2l2.1,2l2,0l2,2.1l2,0l2,0l2.1,0l2,-2.1l2,0l2,-2l2,-4.2l2.1,-2l2,-2.1l2,0l2,-2.1l2.1,-2l2,0l2,-2.1l2,0l2,0l2.1,0l2,0l2,0l2,-2l2,0l2.1,0l2,0l2,-2.1l2,0l2,0l2.1,-2.1l2,0l2,-2l2,0l2.1,0l2,-2.1l2,0l2,0l2,0l2.1,0l2,-2.1l2,0l2,0l2,0l2.1,0l2,0l2,0l2,0l2,0l2.1,0l2,0l2,0l2,0l2,-2l2.1,0l2,0l2,0l2,0l2.1,0l2,0l2,0l2,0l2,-2.1l2.1,0l2,0l2,0l2,0l2,0l2.1,0l2,-2.1l2,0l2,-2l2,0l2.1,-2.1l2,0l2,-2.1l2,0l2.1,-2l2,-2.1l2,0l2,-2.1l2,0l2.1,-2l2,-2.1l2,0l2,0l2,0l2.1,0l2,0l2,0l2,0l2,0l2.1,2.1l2,0l2,2l2,0l2,2.1l2.1,0l2,2.1l2,2l2,2.1l2.1,0l2,2.1l2,2l2,0l2,2.1l2.1,0l2,2.1l2,0"/>
</g>
<g class="m1" clip-path="url(#cpa)">
<path class="m1" d="M423.4,46.5l2.1,0l2,2.1l2,2l2.1,0l2,2.1l2.1,2.1l2,2l2,0l2.1,2.1l2,2.1l2.1,2l2,2.1l2,0l2.1,2.1l2,2l2.1,2.1l2,0l2,2.1l2.1,2l2,0l2,2.1l2.1,2.1l2,0l2.1,2l2,0l2,2.1l2.1,0l2,2l2.1,0l2,2.1l2,0l2.1,0l2,2.1l2.1,0l2,0l2,0l2.1,0l2,0l2,0l2.1,0l2,0l2.1,0l2,-2.1l2,0l2.1,0l2,0l2.1,-2.1l2,0l2,-2l2.1,0l2,-2.1l2,-2l2.1,0l2,-2.1l2.1,0l2,-2.1l2,-2l2.1,-2.1l2,0l2.1,-2.1l2,-2l2,0l2.1,-2.1l2,0l2.1,-2.1l2,-2l2,0l2.1,-2.1l2,0l2,-2.1l2.1,-2l2,0l2.1,0l2,-2.1l2,0l2.1,0l2,-2.1l2.1,0l2,0l2,0l2.1,0l2,0l2,0l2.1,0l2,2.1l2.1,0l2,0l2,2.1l2.1,2l2,0l2.1,2.1l2,0l2,2.1l2.1,0l2,0l2.1,2l2,0l2,2.1l2.1,2.1l2,0l2,2l2.1,0l2,2.1l2.1,2.1l2,0l2,2l2.1,2.1l2,0l2.1,2.1l2,0l2,2l2.1,2.1l2,0l2.1,0l2,2l2,0l2.1,0l2,0l2,2.1l2.1,0l2,0l2.1,0l2,0"/>
<path class="m1" d="M433.6,46.5l2.1,2.1l2,0l2,2l2.1,2.1l2,2.1l2.1,0l2,2l2,2.1l2.1,2.1l2,0l2.1,2l2,2.1l2,2.1l2.1,2l2,0l2,2.1l2.1,2.1l2,0l2.1,2l2,2.1l2,0l2.1,2.1l2,2l2.1,0l2,2.1l2,0l2.1,0l2,2l2.1,0l2,0l2,0l2.1,0l2,0l2,0l2.1,0l2,0l2.1,0l2,-2l2,0l2.1,0l2,0l2.1,0l2,-2.1l2,0l2.1,0l2,-2l2,0l2.1,0l2,0l2.1,-2.1l2,0l2,0l2.1,0l2,-2.1l2.1,0l2,0l2,-2l2.1,0l2,0l2.1,-2.1l2,0l2,0l2.1,-2.1l2,0l2,0l2.1,-2l2,0l2.1,0l2,0l2,0l2.1,-2.1l2,0l2.1,0l2,0l2,0l2.1,0l2,0l2,0l2.1,0l2,0l2.1,0l2,0l2,0l2.1,2.1l2,0l2.1,0l2,2l2,0l2.1,2.1l2,0l2.1,0l2,2.1l2,0l2.1,0l2,2l2,0l2.1,0l2,2.1l2.1,0l2,2.1l2,0l2.1,0l2,2l2.1,0l2,0l2,0l2.1,0l2,2.1l2.1,0l2,0l2,0l2.1,0l2,0l2,0l2.1,0l2,0l2.1,0l2,0"/>
<path class="m1" d="M466.2,48.6l2.1,2l2,2.1l2.1,0l2,2.1l2,2l2.1,2.1l2,2.1l2.1,2l2,2.1l2,2.1l2.1,2l2,2.1l2.1,2.1l2,0l2,0l2.1,0l2,0l2,0l2.1,0l2,0l2.1,-2.1l2,0l2,-2.1l2.1,0l2,-2l2.1,-2.1l2,-2.1l2,0l2.1,-2l2,-2.1l2,0l2.1,-2.1l2,-2l2.1,-2.1l2,0l2,-2.1l2.1,0l2,-2l2.1,0l2,-2.1l2,0"/>
<path class="m1" d="M411.2,71.3l2,0l2.1,0l2,-2.1l2.1,0l2,0l2,-2l2.1,0l2,-2.1l2,-2.1l2.1,0l2,-2l2.1,-2.1l2,0l2,-2.1l2.1,0l2,-2l2.1,0l2,0l2,-2.1l2.1,0l2,0l2.1,-2.1l2,0l2,0l2.1,-2l2,0l2,-2.1l2.1,0l2,2.1l2.1,0l2,0l2,0l2.1,0l2,0l2.1,0l2,0l2,0l2.1,2l2,0l2.1,0l2,0l2,0l2.1,0l2,0l2,0l2.1,0l2,0l2.1,0l2,0l2,-2l2.1,0l2,0l2.1,-2.1"/>
<path class="m1" d="M411.2,83.7l2,0l2.1,-2.1l2,0l2.1,-2l2,0l2,-2.1l2.1,0l2,-2.1l2,-2l2.1,0l2,0l2.1,-2.1l2,-2.1l2,0l2.1,-2l2,0l2.1,-2.1l2,0l2,-2.1l2.1,-2l2,0l2.1,-2.1l2,-2.1l2,0l2.1,-2l2,-2.1l2,-2.1l2.1,-2l2,-2.1l2.1,-2.1"/>
<path class="m1" d="M411.2,71.3l2,0l2.1,-2.1l2,0l2.1,0l2,-2l2,0l2.1,0l2,0l2,0l2.1,0l2,0l2.1,2l2,0l2,0l2.1,2.1l2,0l2.1,2.1l2,0l2,2l2.1,0l2,2.1l2.1,0l2,2.1l2,0l2.1,0l2,2l2,0l2.1,0l2,2.1l2.1,0l2,0l2,0l2.1,2l2,0l2.1,0l2,2.1l2,0l2.1,0l2,0l2.1,0l2,0l2,0l2.1,0l2,2.1"/>
<path class="m1" d="M411.2,83.7l2,0l2.1,0l2,-2.1l2.1,0l2,0l2,-2l2.1,0l2,0l2,-2.1l2.1,0l2,0l2.1,-2.1l2,0l2,0l2.1,0l2,0l2.1,0l2,0l2,0l2.1,0l2,0l2.1,0l2,2.1l2,0l2.1,0l2,0l2,2.1l2.1,0l2,0l2.1,0l2,2l2,0l2.1,0l2,0l2.1,2.1l2,0l2,0l2.1,0l2,2l2.1,0l2,0l2,0l2.1,0l2,0"/>
<path class="m1" d="M498.9,81.6l2,0l2,0l2.1,0l2,0l2.1,0l2,-2l2,0l2.1,0l2,0l2.1,-2.1l2,0l2,-2.1l2.1,0l2,0l2,-2l2.1,0l2,-2.1l2.1,0l2,0l2,-2.1l2.1,0l2,-2l2.1,-2.1l2,0l2,0l2.1,-2.1l2,0l2.1,-2l2,0l2,0l2.1,-2.1l2,0l2,-2.1l2.1,0l2,0l2.1,-2l2,0l2,0l2.1,0l2,0l2.1,0l2,0l2,0l2.1,0l2,0l2,0l2.1,0l2,0l2.1,0l2,0l2,0l2.1,-2.1l2,0l2.1,-2.1l2,0l2,0l2.1,-2l2,0l2.1,-2.1l2,0"/>
<path class="m1" d="M547.8,50.6l2,0l2.1,-2l2,0l2.1,0l2,0l2,0l2.1,0l2,0l2,0l2.1,0l2,0l2.1,0l2,0l2,-2.1l2.1,0"/>
<path class="m1" d="M572.3,61.0l2,0l2,0l2.1,0l2,0l2.1,0l2,0l2,0l2.1,0l2,0l2,0l2.1,0l2,0l2.1,0l2,0l2,-2.1l2.1,0l2,0l2.1,-2.1l2,0l2,-2l2.1,0l2,-2.1l2.1,0l2,0l2,-2.1l2.1,0l2,0l2,-2l2.1,0l2,-2.1l2.1,0l2,0"/>
<path class="m1" d="M609.0,46.5l2,0l2,2.1l2.1,0l2,2l2.1,0l2,2.1l2,2.1l2.1,2l2,0l2,2.1l2.1,2.1l2,0l2.1,2l2,2.1l2,0l2.1,2.1l2,0l2.1,2l2,2.1l2,0l2.1,2.1l2,0l2.1,2l2,2.1l2,0l2.1,2.1l2,0l2,2l2.1,0l2,2.1l2.1,0l2,0"/>
<path class="m1" d="M606.9,69.2l2.1,-2l2,0l2,0l2.1,0l2,-2.1l2.1,0l2,0l2,-2.1l2.1,0l2,0l2,-2l2.1,0l2,-2.1l2.1,0l2,-2.1l2,0l2.1,-2l2,0l2.1,-2.1l2,0l2,-2.1l2.1,0l2,-2l2.1,0l2,-2.1l2,-2.1"/>
<path class="m1" d="M411.2,100.2l2,0l2.1,0l2,0l2.1,0l2,0l2,0l2.1,-2.1l2,0l2,0l2.1,0l2,0l2.1,0l2,0l2,0l2.1,-4.1l2,0l2.1,0l2,0l2,0l2.1,0l2,0l2.1,-2.1l2,0l2,0l2.1,0l2,0l2,0l2.1,0l2,0l2.1,-2l2,0l2,0l2.1,0l2,0l2.1,0l2,0l2,0l2.1,0l2,0l2.1,0l2,0l2,0l2.1,0l2,0l2,0l2.1,0l2,0l2.1,0l2,0l2,0l2.1,0l2,0l2.1,2l2,0l2,0l2.1,0l2,0l2,0l2.1,0l2,0l2.1,0l2,0l2,0l2.1,0l2,0l2.1,0l2,0l2,0l2.1,0l2,0l2.1,0l2,0l2,0l2.1,0l2,0l2,0l2.1,0l2,0l2.1,2.1l2,0l2,0l2.1,0l2,0l2.1,0l2,0l2,0l2.1,0l2,0l2,0l2.1,0l2,0l2.1,0l2,0l2,0l2.1,0l2,0l2.1,0l2,0l2,0l2.1,2.1l2,0l2.1,0l2,0l2,0l2.1,0l2,0l2,0l2.1,0l2,2l2.1,0l2,0l2,0l2.1,0l2,0l2.1,0l2,0l2,0l2.1,0l2,0l2.1,0l2,2.1l2,0l2.1,0l2,0l2,0l2.1,0l2,0l2.1,0l2,0"/>
<path class="m1" d="M411.2,106.4l2,0l2.1,0l2,0l2.1,0l2,0l2,0l2.1,0l2,0l2,0l2.1,0l2,0l2.1,0l2,0l2,0l2.1,0l2,0l2.1,0l2,0l2,0l2.1,0l2,0l2.1,0l2,0l2,0l2.1,0l2,0l2,0l2.1,0l2,0l2.1,0l2,-2.1l2,0l2.1,0l2,0l2.1,0l2,0l2,0l2.1,0l2,0l2.1,0l2,0l2,0l2.1,0l2,0l2,0l2.1,0l2,0l2.1,0l2,0l2,0l2.1,0l2,0l2.1,0l2,0l2,0l2.1,0l2,0l2,0l2.1,0l2,0l2.1,0l2,0l2,0l2.1,0l2,0l2.1,0l2,0l2,0l2.1,0l2,0l2.1,0l2,0l2,0l2.1,0l2,0l2,0l2.1,0l2,0l2.1,0l2,0l2,0l2.1,0l2,0l2.1,0l2,0l2,0l2.1,0l2,0l2,0l2.1,0l2,0l2.1,0l2,2.1l2,0l2.1,0l2,0l2.1,0l2,0l2,0l2.1,0l2,0l2.1,0l2,0l2,0l2.1,0l2,0l2,0l2.1,0l2,0l2.1,0l2,0l2,0l2.1,0l2,0l2.1,0l2,0l2,0l2.1,0l2,0l2.1,0l2,0l2,0l2.1,0l2,0l2,0l2.1,0l2,0l2.1,0l2,0"/>
<path class="m1" d="M411.2,147.7l2,0l2.1,0l2,0l2.1,0l2,0l2,-4.1l2.1,0l2,0l2,0l2.1,0l2,-2.1l2.1,0l2,-2l2,0l2.1,0l2,-2.1l2.1,0l2,0l2,-2.1l2.1,0l2,0l2.1,-2l2,0l2,0l2.1,-2.1l2,0l2,0l2.1,0l2,-2.1l2.1,0l2,0l2,0l2.1,0l2,0l2.1,0l2,0l2,-2l2.1,0l2,0l2.1,0l2,0l2,0l2.1,0l2,0l2,0l2.1,0l2,0l2.1,0l2,0l2,0l2.1,0l2,0l2.1,2l2,2.1l2,0l2.1,0l2,0l2,0l2.1,2.1l2,0l2.1,0l2,2l2,0l2.1,0l2,2.1l2.1,0l2,0l2,2.1l2.1,0l2,0l2.1,2l2,0l2,0l2.1,2.1l2,0l2,0l2.1,0l2,2.1l2.1,0l2,0l2,0l2.1,0l2,0l2.1,0l2,0l2,0l2.1,0l2,0l2,0l2.1,0l2,0l2.1,-2.1l2,0l2,0l2.1,0l2,0l2.1,0l2,0l2,-2.1l2.1,0l2,0l2.1,0l2,0l2,0l2.1,0l2,0l2,0l2.1,0l2,0l2.1,0l2,0l2,0l2.1,0l2,0l2.1,0l2,2.1l2,0l2.1,0l2,0l2.1,0l2,0l2,2.1l2.1,0l2,0l2,0l2.1,0l2,0l2.1,0l2,0"/>
<path class="m1" d="M411.2,172.5l2,0l2.1,0l2,0l2.1,0l2,0l2,0l2.1,0l2,0l2,0l2.1,0l2,0l2.1,-2.1l2,-2l2,0l2.1,0l2,0l2.1,0l2,-2.1l2,0l2.1,0l2,0l2.1,-2.1l2,0l2,0l2.1,0l2,-2l2,0l2.1,0l2,0l2.1,0l2,-2.1l2,0l2.1,0l2,0l2.1,0l2,-2.1l2,0l2.1,0l2,0l2.1,0l2,0l2,0l2.1,0l2,0l2,0l2.1,0l2,0l2.1,0l2,0l2,0l2.1,0l2,-2l2.1,0l2,0l2,0l2.1,0l2,-2.1l2,0l2.1,0l2,0l2.1,0l2,0l2,0l2.1,0l2,0l2.1,0l2,0l2,0l2.1,0l2,0l2.1,0l2,0l2,0l2.1,-2.1l2,0l2,0l2.1,0l2,0l2.1,0l2,0l2,0l2.1,0l2,0l2.1,0l2,0l2,0l2.1,0l2,0l2,0l2.1,2.1l2,2.1l2.1,0l2,2l2,0l2.1,2.1l2,0l2.1,0l2,2.1l2,0l2.1,2l2,0l2.1,0l2,2.1l2,0l2.1,0l2,2.1l2,0l2.1,2l2,0l2.1,2.1l2,0l2,0l2.1,0l2,0l2.1,0l2,0l2,0l2.1,0l2,0l2.1,0l2,0l2,0l2.1,0l2,0l2,0l2.1,0l2,0l2.1,0l2,0"/>
<path class="m1" d="M411.2,176.6l2,0l2.1,0l2,0l2.1,0l2,0l2,0l2.1,0l2,0l2,0l2.1,0l2,0l2.1,0l2,0l2,-2l2.1,0l2,0l2.1,0l2,0l2,0l2.1,-2.1l2,0l2.1,0l2,-2.1l2,0l2.1,0l2,0l2,-2l2.1,0l2,0l2.1,-2.1l2,0l2,0l2.1,-2.1l2,0l2.1,0l2,-2l2,0l2.1,-2.1l2,0l2.1,0l2,0l2,0l2.1,0l2,0l2,0l2.1,2.1l2,0l2.1,0l2,0l2,2l2.1,0l2,2.1l2.1,0l2,2.1l2,0l2.1,2l2,0l2,2.1l2.1,0l2,2.1l2.1,0l2,2l2,0l2.1,0l2,2.1l2.1,0l2,0l2,0l2.1,0l2,0l2.1,0l2,0l2,0l2.1,0l2,0l2,0l2.1,0l2,0l2.1,0l2,0l2,0l2.1,0l2,0l2.1,0l2,0l2,0l2.1,0l2,0l2,0l2.1,0l2,0l2.1,0l2,0l2,0l2.1,0l2,0l2.1,-2.1l2,0l2,0l2.1,0l2,0l2.1,0l2,0l2,0l2.1,0l2,0l2,0l2.1,0l2,0l2.1,0l2,-2l2,0l2.1,0l2,0l2.1,0l2,0l2,0l2.1,0l2,0l2.1,0l2,0l2,0l2.1,0l2,0l2,0l2.1,0l2,0l2.1,0l2,0"/>
<path class="m1" d="M480.5,178.7l2.1,-2.1l2,-2l2,0l2.1,-2.1l2,0l2.1,0l2,-2.1l2,0l2.1,0l2,0l2,0l2.1,2.1l2,0l2.1,0l2,2.1l2,0l2.1,2l2,0"/>
<path class="m1" d="M411.2,182.8l2,0l2.1,0l2,0l2.1,0l2,0l2,0l2.1,0l2,0l2,0l2.1,0l2,0l2.1,0l2,0l2,0l2.1,0l2,0l2.1,0l2,0l2,0l2.1,0l2,0l2.1,0l2,0l2,0l2.1,0l2,0l2,0l2.1,0l2,0l2.1,0l2,0l2,0l2.1,0l2,0l2.1,0l2,0l2,0l2.1,0l2,0l2.1,0l2,0l2,0l2.1,0l2,0l2,0l2.1,0l2,0l2.1,0l2,0l2,0l2.1,0l2,0l2.1,0l2,0l2,0l2.1,0l2,0l2,0l2.1,0l2,0l2.1,0l2,0l2,0l2.1,0l2,0l2.1,0l2,0l2,0l2.1,0l2,0l2.1,0l2,0l2,0l2.1,0l2,0l2,0l2.1,0l2,0l2.1,0l2,0l2,0l2.1,0l2,0l2.1,0l2,0l2,0l2.1,0l2,0l2,0l2.1,0l2,0l2.1,0l2,0l2,0l2.1,0l2,0l2.1,0l2,0l2,0l2.1,0l2,0l2.1,0l2,0l2,0l2.1,0l2,0l2,0l2.1,0l2,0l2.1,0l2,0l2,0l2.1,0l2,0l2.1,0l2,0l2,0l2.1,0l2,0l2.1,0l2,0l2,0l2.1,0l2,0l2,0l2.1,0l2,0l2.1,0l2,0"/>
<path class="m1" d="M411.2,184.9l2,0l2.1,0l2,0l2.1,0l2,0l2,0l2.1,0l2,0l2,0l2.1,0l2,0l2.1,0l2,0l2,0l2.1,0l2,0l2.1,0l2,0l2,0l2.1,0l2,0l2.1,0l2,0l2,0l2.1,0l2,0l2,0l2.1,0l2,0l2.1,0l2,0l2,0l2.1,0l2,0l2.1,0l2,0l2,0l2.1,0l2,0l2.1,0l2,0l2,0l2.1,0l2,0l2,0l2.1,0l2,0l2.1,0l2,0l2,0l2.1,0l2,0l2.1,0l2,0l2,0l2.1,0l2,0l2,0l2.1,0l2,0l2.1,0l2,0l2,0l2.1,0l2,0l2.1,0l2,0l2,0l2.1,0l2,0l2.1,0l2,0l2,0l2.1,0l2,0l2,0l2.1,0l2,0l2.1,0l2,0l2,0l2.1,0l2,0l2.1,0l2,0l2,0l2.1,0l2,0l2,0l2.1,0l2,0l2.1,0l2,0l2,0l2.1,0l2,0l2.1,0l2,0l2,0l2.1,0l2,0l2.1,0l2,0l2,0l2.1,0l2,0l2,0l2.1,0l2,0l2.1,0l2,0l2,0l2.1,0l2,0l2.1,0l2,0l2,0l2.1,0l2,0l2.1,0l2,0l2,0l2.1,0l2,0l2,0l2.1,0l2,0l2.1,0l2,0"/>
<path class="m1" d="M411.2,189.0l2,0l2.1,0l2,0l2.1,0l2,2.1l2,0l2.1,0l2,0l2,2.1l2.1,0l2,0l2.1,0l2,2l2,0l2.1,0l2,0l2.1,0l2,0l2,0l2.1,0l2,0l2.1,0l2,0l2,0l2.1,0l2,0l2,0l2.1,0l2,0l2.1,-2l2,0l2,0l2.1,0l2,0l2.1,0l2,0l2,0l2.1,0l2,0l2.1,0l2,0l2,0l2.1,0l2,0l2,0l2.1,0l2,0l2.1,0l2,0l2,0l2.1,0l2,0l2.1,2l2,0l2,0l2.1,2.1l2,0l2,0l2.1,0l2,2.1l2.1,0l2,0l2,0l2.1,0l2,0l2.1,0l2,0l2,0l2.1,0l2,2l2.1,0l2,0l2,0l2.1,0l2,0l2,0l2.1,0l2,0l2.1,0l2,0l2,0l2.1,0l2,0l2.1,0l2,0l2,0l2.1,0l2,0l2,0l2.1,0l2,0l2.1,-2l2,0l2,0l2.1,-2.1l2,0l2.1,0l2,0l2,0l2.1,-2.1l2,0l2.1,0l2,0l2,-2l2.1,0l2,0l2,0l2.1,-2.1l2,0l2.1,0l2,-2.1l2,0l2.1,0l2,0l2.1,0l2,0l2,0l2.1,0l2,0l2.1,0l2,0l2,0l2.1,0l2,0l2,0l2.1,0l2,0l2.1,0l2,0"/>
<path class="m1" d="M411.2,224.1l2,0l2.1,0l2,0l2.1,0l2,0l2,0l2.1,-2l2,-2.1l2,0l2.1,-2l2,0l2.1,-2.1l2,-2.1l2,0l2.1,-2l2,0l2.1,-2.1l2,-2.1l2,0l2.1,-2l2,-2.1l2.1,0l2,-2.1l2,-2l2.1,0l2,-2.1l2,-2.1l2.1,-2l2,-2.1l2.1,-2.1l2,-2l2,0l2.1,-2.1l2,0l2.1,0l2,0l2,0l2.1,0l2,0l2.1,0l2,0l2,0l2.1,0l2,0l2,0l2.1,0l2,0l2.1,0l2,0l2,0l2.1,0l2,0l2.1,0l2,0l2,0l2.1,0l2,0l2,0l2.1,0l2,0l2.1,0l2,0l2,0l2.1,2.1l2,0l2.1,2l2,2.1l2,2.1l2.1,0l2,2l2.1,0l2,2.1l2,0l2.1,2.1l2,0l2,0l2.1,2l2,0l2.1,0l2,0l2,0l2.1,0l2,0l2.1,0l2,0l2,2.1l2.1,0l2,0l2,0l2.1,0l2,0l2.1,2.1l2,0l2,0l2.1,2l2,0l2.1,2.1l2,0l2,0l2.1,2.1l2,0l2.1,0l2,2l2,0l2.1,2.1l2,0l2,0l2.1,0l2,2.1l2.1,0l2,0l2,0l2.1,2l2,0l2.1,0l2,0l2,2.1l2.1,0l2,0l2.1,2l2,0l2,0l2.1,0l2,0l2,0l2.1,0l2,0l2.1,0l2,0"/>
<path class="m1" d="M411.2,325.4l2,0l2.1,0l2,0l2.1,0l2,-2.1l2,0l2.1,0l2,0l2,0l2.1,-2.1l2,0l2.1,0l2,0l2,0l2.1,-2l2,0l2.1,0l2,0l2,0l2.1,0l2,-2.1l2.1,0l2,0l2,0l2.1,0l2,0l2,0l2.1,0l2,-2.1l2.1,0l2,0l2,0l2.1,0l2,-2l2.1,0l2,0l2,0l2.1,-2.1l2,0l2.1,0l2,0l2,0l2.1,0l2,0l2,0l2.1,0l2,0l2.1,0l2,2.1l2,0l2.1,2l2,0l2.1,0l2,2.1l2,0l2.1,0l2,-2.1l2,0l2.1,0l2,-2l2.1,0l2,0l2,-2.1l2.1,0l2,0l2.1,-2.1l2,0l2,0l2.1,-2l2,0l2.1,0l2,0l2,-2.1l2.1,0l2,0l2,0l2.1,0l2,0l2.1,-2.1l2,0l2,0l2.1,0l2,0l2.1,0l2,0l2,0l2.1,0l2,0l2,0l2.1,0l2,0l2.1,0l2,0l2,2.1l2.1,0l2,0l2.1,2.1l2,0l2,0l2.1,2l2,0l2.1,2.1l2,0l2,0l2.1,2.1l2,0l2,0l2.1,2l2,0l2.1,2.1l2,0l2,0l2.1,2.1l2,0l2.1,0l2,2l2,0l2.1,0l2,2.1l2.1,0l2,0l2,2.1l2.1,0l2,0l2,0l2.1,0l2,0l2.1,0l2,0"/>
<path class="m1" d="M411.2,325.4l2,0l2.1,0l2,0l2.1,0l2,0l2,0l2.1,0l2,0l2,0l2.1,0l2,0l2.1,-2.1l2,0l2,0l2.1,0l2,0l2.1,0l2,0l2,-2.1l2.1,0l2,0l2.1,0l2,-2l2,0l2.1,0l2,0l2,-2.1l2.1,0l2,0l2.1,0l2,0l2,0l2.1,0l2,-2.1l2.1,0l2,0l2,0l2.1,0l2,0l2.1,0l2,0l2,0l2.1,-2l2,0l2,2l2.1,0l2,0l2.1,0l2,0l2,0l2.1,2.1l2,0l2.1,2.1l2,0l2,2l2.1,0l2,0l2,2.1l2.1,0l2,2.1l2.1,0l2,2l2,0l2.1,2.1l2,0l2.1,2.1l2,0l2,2l2.1,0l2,0l2.1,2.1l2,0l2,2.1l2.1,0l2,0l2,0l2.1,2l2,0l2.1,0l2,0l2,0l2.1,0l2,0l2.1,0l2,0l2,0l2.1,0l2,0l2,0l2.1,0l2,0l2.1,0l2,-2l2,0l2.1,-2.1l2,0l2.1,0l2,0l2,0l2.1,-2.1l2,0l2.1,0l2,0l2,-2l2.1,0l2,0l2,0l2.1,-2.1l2,0l2.1,0l2,0l2,0l2.1,-2.1l2,0l2.1,0l2,0l2,0l2.1,-2l2,0l2.1,0l2,0l2,0l2.1,0l2,0l2,0l2.1,0l2,0l2.1,0l2,0"/>
<path class="m1" d="M411.2,346.0l2,0l2.1,0l2,0l2.1,0l2,0l2,0l2.1,0l2,0l2,0l2.1,0l2,0l2.1,0l2,0l2,0l2.1,2.1l2,0l2.1,0l2,0l2,2.1l2.1,0l2,2l2.1,2.1l2,2.1l2,2l2.1,2.1l2,2l2,2.1l2.1,2.1l2,2l2.1,2.1l2,2.1l2,2l2.1,2.1l2,2.1l2.1,2l2,0l2,2.1l2.1,2.1l2,0l2.1,0l2,0l2,0l2.1,0l2,0l2,0l2.1,0l2,0l2.1,0l2,0l2,-2.1l2.1,-2.1l2,0l2.1,0l2,-2l2,0l2.1,-2.1l2,-2.1l2,0l2.1,-2l2,0l2.1,0l2,-2.1l2,0l2.1,-2.1l2,0l2.1,0l2,0l2,0l2.1,0l2,0l2.1,0l2,0l2,0l2.1,0l2,0l2,0l2.1,0l2,0l2.1,0l2,2.1l2,0l2.1,0l2,0l2.1,0l2,0l2,0l2.1,0l2,0l2,0l2.1,-2.1l2,0l2.1,-2l2,0l2,-2.1l2.1,0l2,-2.1l2.1,0l2,-2l2,0l2.1,-2.1l2,0l2.1,-2l2,-2.1l2,0l2.1,-2.1l2,0l2,-2l2.1,0l2,0l2.1,-2.1l2,0l2,0l2.1,-2.1l2,0l2.1,0l2,0l2,0l2.1,0l2,0l2.1,0l2,0l2,0l2.1,0l2,0l2,0l2.1,0l2,0l2.1,0l2,0"/>
<path class="m1" d="M411.2,368.7l2,0l2.1,0l2,0l2.1,0l2,-2l2,0l2.1,-2.1l2,0l2,-2.1l2.1,-2l2,0l2.1,-2.1l2,-2l2,-2.1l2.1,-2.1l2,-2l2.1,-2.1l2,-2.1l2,-2l2.1,-2.1l2,-2.1l2.1,-2l2,-2.1l2,-2.1l2.1,-2l2,-2.1l2,-2.1l2.1,-2l2,-2.1l2.1,-2.1l2,0l2,-2l2.1,-2.1l2,0l2.1,0l2,-2.1l2,0l2.1,0l2,0l2.1,0l2,0l2,0l2.1,-2l2,0"/>
<path class="m1" d="M572.3,339.8l2,0l2,0l2.1,0l2,0l2.1,2.1l2,0l2,0l2.1,0l2,0l2,0l2.1,0l2,0l2.1,0l2,2.1l2,0l2.1,0l2,0l2.1,2l2,0l2,0l2.1,2.1l2,0l2.1,2.1l2,0l2,2l2.1,0l2,0l2,2.1l2.1,0l2,2.1l2.1,0l2,2l2,0l2.1,2.1l2,0l2.1,2l2,0l2,2.1l2.1,0l2,2.1l2.1,0l2,0l2,0l2.1,2l2,0l2,0l2.1,0l2,0l2.1,0l2,0"/>
<path class="m1" d="M411.2,420.4l2,0l2.1,0l2,0l2.1,0l2,0l2,0l2.1,2.1l2,0l2,2l2.1,0l2,2.1l2.1,0l2,2l2,0l2.1,2.1l2,0l2.1,2.1l2,0l2,2l2.1,0l2,2.1l2.1,0l2,2.1l2,0l2.1,0l2,2l2,0l2.1,0l2,2.1l2.1,0l2,0l2,2.1l2.1,0l2,0l2.1,0l2,0l2,0l2.1,0l2,0l2.1,0l2,0l2,0l2.1,0l2,0l2,0l2.1,0l2,0l2.1,0l2,0l2,0l2.1,0l2,0l2.1,0l2,-2.1l2,0l2.1,-2.1l2,0l2,0l2.1,0l2,-2l2.1,0l2,0l2,0l2.1,-2.1l2,0l2.1,0l2,0l2,-2.1l2.1,0l2,0l2.1,0l2,0l2,-2l2.1,0l2,0l2,0l2.1,0l2,0l2.1,0l2,0l2,0l2.1,0l2,0l2.1,0l2,0l2,-2.1l2.1,0l2,0l2,0l2.1,0l2,0l2.1,0l2,0l2,0l2.1,0l2,0l2.1,0l2,0l2,0l2.1,0l2,0l2.1,-2.1l2,0l2,0l2.1,0l2,0l2,-2l2.1,0l2,0l2.1,0l2,-2.1l2,0l2.1,0l2,-2l2.1,0l2,0l2,0l2.1,-2.1l2,0l2.1,0l2,0l2,0l2.1,0l2,0l2,0l2.1,0l2,0l2.1,0l2,0"/>
<path class="m1" d="M476.4,439.0l2.1,-2.1l2,0l2.1,-2.1l2,-2l2,0l2.1,0l2,-2.1l2.1,0l2,0l2,0l2.1,0l2,0l2,0l2.1,0l2,0l2.1,0l2,0l2,2.1l2.1,2l2,0l2.1,2.1l2,0l2,2.1l2.1,2l2,0l2,2.1l2.1,0l2,2.1l2.1,2l2,2.1l2,2.1l2.1,0l2,2l2.1,2.1l2,0l2,2.1l2.1,0l2,2l2.1,0l2,2.1l2,2.1l2.1,2l2,2.1l2,0l2.1,0l2,2.1l2.1,0l2,0l2,0l2.1,0l2,-2.1l2.1,0l2,0l2,0l2.1,2.1l2,0l2,0l2.1,2l2,0l2.1,2.1l2,0l2,2.1l2.1,2l2,2.1l2.1,0l2,2.1l2,2l2.1,0l2,2.1l2.1,2.1l2,0l2,2l2.1,2.1l2,2l2,0l2.1,2.1l2,2.1l2.1,2l2,0l2,2.1l2.1,0l2,2.1l2.1,0l2,2l2,0l2.1,2.1l2,0l2.1,2.1l2,0l2,0l2.1,0l2,2l2,0l2.1,0l2,0l2.1,0l2,0"/>
<path class="m1" d="M411.2,439.0l2,0l2.1,0l2,0l2.1,0l2,2l2,0l2.1,2.1l2,0l2,0l2.1,2.1l2,0l2.1,0l2,2l2,0l2.1,0l2,2.1l2.1,0l2,0l2,0l2.1,0l2,0l2.1,0l2,0l2,-2.1l2.1,0l2,0l2,0l2.1,-2l2,0l2.1,0l2,0l2,0l2.1,0l2,0l2.1,0l2,0l2,0l2.1,0l2,0l2.1,0l2,0l2,0l2.1,0l2,0l2,0l2.1,0l2,0l2.1,0l2,0l2,0l2.1,0l2,0l2.1,0l2,0l2,0l2.1,0l2,0l2,2l2.1,0l2,0l2.1,0l2,-2l2,0l2.1,0l2,0l2.1,0l2,-2.1l2,0l2.1,0l2,-2.1l2.1,0l2,-2l2,0l2.1,0l2,-2.1l2,0l2.1,0l2,-2.1l2.1,0l2,-2l2,0l2.1,0l2,0l2.1,0l2,0l2,0l2.1,0l2,0l2,-2.1l2.1,0l2,0l2.1,0l2,0l2,0l2.1,0l2,0l2.1,0l2,0l2,0l2.1,0l2,0l2.1,0l2,0l2,0l2.1,0l2,0l2,0l2.1,0l2,0l2.1,0l2,0l2,0l2.1,-2.1l2,0l2.1,0"/>
<path class="m1" d="M411.2,457.6l2,-2.1l2.1,0l2,0l2.1,-2.1l2,-2l2,0l2.1,-2.1l2,0l2,0l2.1,0l2,2.1l2.1,2l2,0l2,2.1l2.1,4.1l2,2.1l2.1,2.1l2,2l2,0l2.1,2.1l2,2.1"/>
<path class="m1" d="M411.2,457.6l2,0l2.1,0l2,0l2.1,2l2,0l2,0l2.1,2.1l2,0l2,2.1l2.1,0l2,0l2.1,2l2,0l2,2.1l2.1,0l2,0l2.1,0l2,0l2,0l2.1,0l2,-2.1l2.1,-2l2,-2.1l2,-2.1l2.1,-4.1l2,-2.1l2,-2l2.1,-2.1l2,-2.1l2.1,0l2,-2"/>
<path class="m1" d="M568.2,470.0l2,-2.1l2.1,0l2,-2.1l2,0l2.1,-2l2,-2.1l2.1,-2.1l2,0l2,-2l2.1,0l2,0l2,0l2.1,-2.1l2,0l2.1,0l2,0l2,-2.1l2.1,0l2,0l2.1,-2l2,0l2,0l2.1,0l2,-2.1l2.1,0l2,0l2,-2.1l2.1,0l2,0l2,-2l2.1,0l2,0l2.1,0l2,0l2,-2.1l2.1,0l2,0l2.1,0l2,0l2,-2.1l2.1,0l2,0l2.1,0l2,-2l2,0l2.1,0l2,0l2,0l2.1,0l2,0l2.1,0l2,0"/>
<path class="m1" d="M576.3,470.0l2.1,0l2,0l2.1,0l2,0l2,-2.1l2.1,0l2,0l2,0l2.1,0l2,-2.1l2.1,0l2,0l2,0l2.1,-2l2,0l2.1,0l2,0l2,-2.1l2.1,0l2,0l2.1,0l2,-2.1l2,0l2.1,0l2,0l2,-2l2.1,0l2,0l2.1,0l2,0l2,0l2.1,0l2,-2.1l2.1,0l2,0l2,0l2.1,0l2,0l2.1,0l2,0l2,0l2.1,0l2,0l2,0l2.1,0l2,0l2.1,0l2,0"/>
<path class="m1" d="M411.2,631.1l2,0l2.1,-2.1l2,-2l2.1,-2.1l2,-4.1l2,-2.1l2.1,-4.1l2,-2.1l2,-4.1l2.1,-4.2l2,-4.1l2.1,-4.1l2,-2.1l2,-4.1l2.1,-4.2l2,-4.1l2.1,-4.1l2,-2.1l2,-4.1l2.1,-4.2l2,-4.1l2.1,-2l2,0l2,0l2.1,0l2,2l2,4.1l2.1,6.2l2,8.3l2.1,6.2l2,6.2l2,6.2l2.1,8.3l2,6.2l2.1,6.2l2,4.1l2,6.2l2.1,6.2l2,6.2l2.1,6.2l2,6.2l2,6.2l2.1,2l2,0l2,-2l2.1,-2.1l2,-2.1l2.1,-2l2,-2.1l2,-2.1l2.1,-2l2,-2.1l2.1,-2.1l2,-2l2,-2.1l2.1,-2.1l2,0l2,-2l2.1,-2.1l2,-2.1l2.1,-2l2,-2.1l2,-2l2.1,-2.1l2,-2.1l2.1,-2l2,-2.1l2,-2.1l2.1,-2l2,-2.1l2.1,-2.1l2,0l2,-2l2.1,-2.1l2,-2.1l2,-4.1l2.1,-2.1l2,0l2.1,-2l2,-2.1l2,0l2.1,0l2,-2.1l2.1,0l2,0l2,0l2.1,0l2,-2l2,-2.1l2.1,-2.1l2,-2l2.1,-2.1l2,-4.1l2,-4.2l2.1,-6.2l2,-4.1l2.1,-6.2l2,-4.1l2,-4.1l2.1,-4.2l2,-6.2l2.1,-4.1l2,-6.2l2,-4.1l2.1,-6.2l2,-6.2l2,-6.2l2.1,-6.2l2,-6.2l2.1,-6.2l2,-4.1l2,-4.2l2.1,-4.1l2,-6.2l2.1,-4.1l2,-2.1l2,-4.1l2.1,-4.2l2,-4.1l2.1,-2.1l2,-2l2,-2.1l2.1,-2.1l2,0l2,-2l2.1,0l2,0l2.1,0l2,0"/>
<path class="m1" d="M411.2,463.8l2,4.1l2.1,2.1l2,2l2.1,2.1l2,2.1l2,4.1l2.1,2.1l2,4.1l2,4.1l2.1,4.1l2,6.2l2.1,6.2l2,6.2l2,6.2l2.1,6.2l2,6.2l2.1,4.2l2,6.2l2,4.1l2.1,4.1l2,6.2l2.1,6.2l2,6.2l2,8.3l2.1,8.2l2,6.2l2,6.2l2.1,6.2l2,4.2l2.1,4.1l2,6.2l2,4.1l2.1,4.2l2,6.1l2.1,6.2l2,6.2l2,6.2l2.1,2.1l2,4.1l2.1,2.1l2,2.1l2,2l2.1,0l2,-2l2,-2.1l2.1,-4.1l2,-2.1l2.1,-2.1l2,-2l2,-2.1l2.1,-2.1l2,-4.1l2.1,-2.1l2,-2l2,-4.2l2.1,-4.1l2,-2l2,-4.2l2.1,-2l2,-4.2l2.1,-6.2l2,-4.1l2,-4.1l2.1,-6.2l2,-4.2l2.1,-4.1l2,-4.1l2,-4.2l2.1,-4.1l2,-4.1l2.1,-4.2l2,-4.1l2,-4.1l2.1,-4.1l2,-2.1l2,-4.1l2.1,-2.1l2,-4.1l2.1,-2.1l2,0l2,-2.1l2.1,0l2,0l2.1,0l2,0l2,0l2.1,0l2,0l2,0l2.1,0l2,0l2.1,2.1l2,0l2,0l2.1,0l2,0l2.1,0l2,0l2,0l2.1,-2.1l2,0l2.1,-2l2,-2.1l2,-2.1l2.1,-2l2,-2.1l2,-2.1l2.1,-2l2,-2.1l2.1,-4.1l2,-2.1l2,-2.1l2.1,-4.1l2,-2.1l2.1,-4.1l2,-2.1l2,-4.1l2.1,-4.1l2,-2.1l2.1,-4.1l2,-2.1l2,-4.1l2.1,-2.1l2,-4.1l2,-2.1l2.1,-2l2,-2.1l2.1,-2.1l2,-2"/>
<path class="m1" d="M431.6,428.6l2,4.2l2.1,6.2l2,4.1l2,6.2l2.1,6.2l2,6.2l2.1,8.3l2,6.2l2,8.2l2.1,8.3l2,8.2l2.1,8.3l2,6.2l2,6.2l2.1,8.3l2,8.2l2,8.3l2.1,8.3l2,6.2l2.1,6.1l2,6.2l2,8.3l2.1,8.3l2,8.2l2.1,8.3l2,6.2l2,6.2l2.1,8.3l2,8.2l2.1,8.3l2,8.2l2,6.2l2.1,6.2l2,-4.1l2,-8.3l2.1,-8.2l2,-4.2l2.1,-6.2l2,-6.1l2,-8.3l2.1,-4.1l2,-12.4l2.1,-8.3l2,-6.2l2,-6.2l2.1,-6.2l2,-6.2l2,-6.2l2.1,-6.2l2,-4.1l2.1,-6.2l2,-10.3l2,-6.2l2.1,-6.2l2,-4.2l2.1,-6.2l2,-6.2l2,-6.2l2.1,-4.1l2,-4.1l2.1,-4.1l2,-2.1l2,-4.1l2.1,-4.2l2,-2l2,-4.2l2.1,-2l2,-2.1l2.1,-2.1l2,-2"/>
<path class="m1" d="M411.2,439.0l2,0l2.1,0l2,0l2.1,0l2,2l2,0l2.1,2.1l2,0l2,2.1l2.1,0l2,2l2.1,2.1l2,2.1l2,2l2.1,2.1l2,2.1l2.1,2l2,4.2l2,4.1l2.1,4.1l2,4.2l2.1,4.1l2,4.1l2,4.2l2.1,6.1l2,4.2l2,6.2l2.1,6.2l2,4.1l2.1,6.2l2,6.2l2,4.1l2.1,4.2l2,4.1l2.1,4.1l2,4.2l2,4.1l2.1,4.1l2,2.1l2.1,4.1l2,0l2,2.1l2.1,0l2,0l2,0l2.1,-2.1l2,0l2.1,-2l2,-2.1l2,-2.1l2.1,-4.1l2,-4.1l2.1,-4.2l2,-4.1l2,-4.1l2.1,-4.2l2,-4.1l2,-4.1l2.1,-4.2l2,-4.1l2.1,-4.1l2,-4.2l2,-4.1l2.1,-4.1l2,-4.2l2.1,-2l2,-2.1l2,-2l2.1,-2.1l2,-2.1l2.1,-2l2,-2.1l2,-2.1l2.1,-2l2,-2.1l2,-2.1l2.1,-2l2,-2.1l2.1,-2.1l2,-2l2,-2.1l2.1,-2.1l2,0l2.1,-2l2,0l2,0l2.1,0l2,0l2,0l2.1,-2.1l2,0l2.1,0l2,0l2,0l2.1,0l2,-2.1l2.1,0l2,0l2,0l2.1,-2l2,0l2.1,0l2,-2.1l2,0l2.1,0l2,-2.1l2,0l2.1,0l2,0l2.1,-2l2,0l2,0l2.1,-2.1l2,0l2.1,0l2,-2.1l2,0l2.1,0l2,0l2.1,0l2,-2l2,0l2.1,0l2,0l2,0l2.1,0l2,0l2.1,0l2,0"/>
<path class="m1" d="M498.9,565.0l2,0l2,0l2.1,0l2,0l2.1,0l2,-2.1l2,0l2.1,0l2,0l2.1,0l2,-2l2,0l2.1,0l2,0l2,-2.1l2.1,0l2,-2.1l2.1,0l2,0l2,-2l2.1,0l2,0l2.1,-2.1l2,0l2,0l2.1,-2.1l2,0l2.1,-2l2,0l2,-2.1l2.1,0l2,-2.1l2,0l2.1,-2l2,0l2.1,-2.1l2,0l2,0l2.1,-2.1l2,0l2.1,0l2,0l2,0l2.1,0l2,0l2,2.1l2.1,0l2,2.1l2.1,2l2,2.1l2,2.1l2.1,2l2,2.1l2.1,2.1l2,4.1l2,2.1l2.1,2l2,4.1l2.1,2.1l2,2.1l2,4.1l2.1,2.1l2,2l2,4.2l2.1,2l2,2.1l2.1,2.1l2,4.1l2,2.1l2.1,2l2,4.2l2.1,2l2,2.1l2,4.1l2.1,2.1l2,2.1l2.1,2l2,2.1l2,4.1l2.1,2.1l2,2.1l2,0l2.1,2l2,2.1l2.1,0l2,0"/>
<path class="m1" d="M411.2,513.3l2,0l2.1,0l2,0l2.1,0l2,0l2,-2l2.1,-2.1l2,0l2,-2.1l2.1,-2l2,0l2.1,0l2,-2.1l2,0l2.1,0l2,0l2.1,0l2,2.1l2,0l2.1,2l2,0l2.1,0l2,0l2,2.1l2.1,0l2,0l2,0l2.1,-2.1l2,-2l2.1,-2.1l2,-2.1l2,-2l2.1,-2.1l2,0l2.1,-2.1l2,-2l2,-2.1l2.1,0l2,0l2.1,0l2,-2l2,0l2.1,0l2,0l2,2l2.1,0l2,0l2.1,0l2,0l2,2.1l2.1,0l2,0l2.1,2l2,0l2,2.1l2.1,0l2,2.1l2,2l2.1,2.1l2,0l2.1,2.1l2,2l2,2.1l2.1,2.1l2,2l2.1,2.1l2,2.1l2,2l2.1,2.1l2,2.1l2.1,2l2,0l2,2.1l2.1,2.1l2,2l2,2.1l2.1,0l2,2.1l2.1,2l2,0l2,2.1l2.1,0l2,0"/>
<path class="m1" d="M576.3,538.1l2.1,0l2,-2l2.1,0l2,-2.1l2,-2.1l2.1,0l2,-2l2,-4.2l2.1,-2l2,-4.2l2.1,-2l2,-2.1l2,-2.1l2.1,-4.1l2,-2.1l2.1,-2l2,-4.2l2,-2l2.1,-2.1l2,-4.1l2.1,-2.1l2,-2l2,-4.2l2.1,-2l2,-4.2l2,-2l2.1,-4.2l2,-2l2.1,-4.2l2,-2l2,-2.1l2.1,-2.1"/>
</g>
<g class="m2" clip-path="url(#cpa)">
<path class="m2" d="M674.2,114.7l2,0l2.1,0l2,0l2.1,0l2,0l2.1,0l2,0l2.1,0l2,0l2.1,0l2,0l2.1,0l2,0l2.1,0l2,0l2,0l2.1,-2.1l2,0l2.1,0l2,0l2.1,0l2,0l2.1,0l2,0l2.1,0l2,0l2.1,0l2,0l2,0l2.1,0l2,-2.1l2.1,0l2,0l2.1,0l2,0l2.1,0l2,0l2.1,0l2,0l2.1,0l2,0l2.1,0l2,0l2,0l2.1,0l2,0l2.1,0l2,0l2.1,0l2,0l2.1,0l2,0l2.1,0l2,0l2.1,0l2,0l2.1,0l2,0l2,0l2.1,0l2,0l2.1,0l2,0l2.1,0l2,0l2.1,2.1l2,2.1l2.1,0l2,0l2.1,0l2,0l2,0l2.1,0l2,0l2.1,0l2,0l2.1,0l2,0l2.1,0l2,0l2.1,0l2,0l2.1,0l2,0l2.1,0l2,0l2,0l2.1,0l2,0l2.1,0l2,0l2.1,0l2,0l2.1,0l2,0l2.1,0l2,0l2.1,0l2,0l2.1,0l2,0l2,0l2.1,0l2,0l2.1,0l2,0l2.1,0l2,0l2.1,0l2,0l2.1,0l2,0l2.1,0l2,0l2,0l2.1,0l2,0l2.1,0l2,0l2.1,0l2,0l2.1,0l2,0l2.1,0l2,0l2.1,0l2,0l2.1,0l2,0"/>
<path class="m2" d="M674.2,106.4l2,0l2.1,0l2,0l2.1,0l2,0l2.1,0l2,0l2.1,0l2,0l2.1,0l2,0l2.1,0l2,0l2.1,0l2,0l2,0l2.1,0l2,2.1l2.1,0l2,0l2.1,0l2,0l2.1,0l2,0l2.1,0l2,0l2.1,0l2,0l2,0l2.1,0l2,0l2.1,0l2,0l2.1,0l2,0l2.1,0l2,-2.1l2.1,0l2,0l2.1,0l2,0l2.1,0l2,0l2,0l2.1,0l2,0l2.1,0l2,0l2.1,0l2,0l2.1,0l2,0l2.1,0l2,0l2.1,0l2,0l2.1,0l2,0l2,0l2.1,0l2,0l2.1,0l2,0l2.1,0l2,0l2.1,0l2,0l2.1,0l2,0l2.1,0l2,0l2,0l2.1,0l2,0l2.1,0l2,0l2.1,0l2,0l2.1,0l2,0l2.1,0l2,0l2.1,0l2,0l2.1,0l2,0l2,0l2.1,0l2,0l2.1,0l2,0l2.1,0l2,0l2.1,0l2,0l2.1,0l2,0l2.1,0l2,0l2.1,0l2,0l2,0l2.1,0l2,0l2.1,0l2,0l2.1,0l2,0l2.1,0l2,0l2.1,0l2,0l2.1,0l2,0l2,0l2.1,0l2,0l2.1,0l2,0l2.1,0l2,0l2.1,0l2,0l2.1,0l2,0l2.1,0l2,0l2.1,0l2,0"/>
<path class="m2" d="M674.2,98.1l2,0l2.1,0l2,0l2.1,-2l2,0l2.1,0l2,0l2.1,0l2,0l2.1,0l2,0l2.1,0l2,0l2.1,0l2,0l2,0l2.1,2l2,0l2.1,0l2,2.1l2.1,0l2,0l2.1,0l2,0l2.1,0l2,0l2.1,0l2,0l2,0l2.1,0l2,0l2.1,0l2,0l2.1,-2.1l2,0l2.1,-2l2,0l2.1,-2.1l2,0l2.1,0l2,0l2.1,-2.1l2,0l2,0l2.1,0l2,2.1l2.1,0l2,0l2.1,2.1l2,0l2.1,2l2,2.1l2.1,0l2,0l2.1,2.1l2,0l2.1,0l2,0l2,0l2.1,0l2,0l2.1,0l2,-2.1l2.1,0l2,0l2.1,0l2,0l2.1,0l2,0l2.1,0l2,-2.1l2,0l2.1,0l2,0l2.1,-2l2,0l2.1,0l2,0l2.1,0l2,0l2.1,-2.1l2,0l2.1,0l2,-2.1l2.1,0l2,0l2,0l2.1,0l2,0l2.1,0l2,0l2.1,0l2,0l2.1,0l2,0l2.1,0l2,0l2.1,0l2,0l2.1,0l2,0l2,0l2.1,0l2,0l2.1,0l2,0l2.1,0l2,2.1l2.1,2.1l2,0l2.1,0l2,0l2.1,0l2,0l2,0l2.1,0l2,0l2.1,0l2,0l2.1,0l2,0l2.1,2l2,0l2.1,0l2,0l2.1,0l2,0l2.1,0l2,0"/>
<path class="m2" d="M674.2,87.8l2,0l2.1,-2.1l2,0l2.1,0l2,0l2.1,0l2,0l2.1,2.1l2,0l2.1,2.1l2,0l2.1,0l2,2l2.1,0l2,0l2,0l2.1,0l2,0l2.1,0l2,0l2.1,0l2,-2l2.1,0l2,0l2.1,0l2,0l2.1,0l2,0l2,0l2.1,-2.1l2,0l2.1,0l2,0l2.1,0l2,0l2.1,0l2,0l2.1,0l2,0l2.1,0l2,0l2.1,0l2,0l2,0l2.1,0l2,0l2.1,0l2,0l2.1,0l2,0l2.1,0l2,0l2.1,0l2,0l2.1,2.1l2,0l2.1,0l2,0l2,0l2.1,0l2,0l2.1,0l2,0l2.1,0l2,0l2.1,0l2,0l2.1,-2.1l2,0l2.1,0l2,0l2,0l2.1,-2.1l2,0l2.1,0l2,0l2.1,-2l2,0l2.1,0l2,0l2.1,0l2,0l2.1,0l2,0l2.1,0l2,0l2,0l2.1,0l2,0l2.1,0l2,0l2.1,0l2,0l2.1,0l2,0l2.1,0l2,0l2.1,2l2,0l2.1,0l2,0l2,0l2.1,0l2,2.1l2.1,0l2,0l2.1,0l2,0l2.1,0l2,2.1l2.1,0l2,0l2.1,0l2,0l2,0l2.1,0l2,-2.1l2.1,0l2,0l2.1,0l2,0l2.1,0l2,0l2.1,0l2,0l2.1,0l2,0l2.1,0l2,0"/>
<path class="m2" d="M674.2,79.6l2,0l2.1,0l2,2l2.1,0l2,0l2.1,0l2,0l2.1,2.1l2,0l2.1,0l2,0l2.1,0l2,0l2.1,0l2,0l2,0l2.1,-2.1l2,0l2.1,0l2,0l2.1,0l2,-2l2.1,0l2,0l2.1,0l2,0l2.1,0l2,0l2,0l2.1,0l2,0l2.1,0l2,0l2.1,0l2,0l2.1,2l2,0l2.1,0l2,0l2.1,0l2,0l2.1,0l2,0l2,0l2.1,0l2,0l2.1,0l2,0l2.1,0l2,0l2.1,0l2,0l2.1,0l2,-2l2.1,0l2,0l2.1,0l2,0l2,-2.1l2.1,0l2,0l2.1,0l2,0l2.1,0l2,-2.1l2.1,0l2,0l2.1,0l2,0l2.1,0l2,-2l2,0l2.1,0l2,0l2.1,0l2,0l2.1,0l2,0l2.1,0l2,0l2.1,-2.1l2,0l2.1,0l2,0l2.1,0l2,0l2,0l2.1,0l2,0l2.1,2.1l2,0l2.1,0l2,0l2.1,2l2,0l2.1,0l2,2.1l2.1,0l2,0l2.1,2.1l2,0l2,0l2.1,0l2,2l2.1,0l2,0l2.1,0l2,0l2.1,0l2,0l2.1,0l2,0l2.1,0l2,0l2,-2l2.1,0l2,0l2.1,0l2,0l2.1,0l2,-2.1l2.1,0l2,0l2.1,0l2,0l2.1,0l2,0l2.1,0l2,0"/>
<path class="m2" d="M711.0,46.5l2.1,0l2,2.1l2.1,2l2,2.1l2.1,0l2,2.1l2.1,2l2,2.1l2.1,0l2,2.1l2,2l2.1,2.1l2,0l2.1,2.1l2,2l2.1,0l2,2.1l2.1,0l2,2.1l2.1,0l2,0l2.1,0l2,0l2.1,2l2,0l2,-2l2.1,0l2,0l2.1,0l2,-2.1l2.1,0l2,-2.1l2.1,0l2,-2l2.1,-2.1l2,0l2.1,-2.1l2,-2l2.1,0l2,-2.1l2,0l2.1,-2.1l2,-2l2.1,0l2,-2.1l2.1,0l2,-2.1l2.1,-2l2,0l2.1,-2.1"/>
<path class="m2" d="M727.4,46.5l2.1,0l2,2.1l2,2l2.1,0l2,2.1l2.1,0l2,0l2.1,0l2,2.1l2.1,0l2,0l2.1,0l2,0l2.1,2l2,0l2.1,0l2,0l2,0l2.1,0l2,0l2.1,0l2,-2l2.1,0l2,0l2.1,0l2,0l2.1,0l2,0l2.1,0l2,0l2.1,-2.1l2,0l2,-2.1l2.1,0l2,-2l2.1,0l2,0l2.1,-2.1"/>
<path class="m2" d="M674.2,71.3l2,0l2.1,-2.1l2,0l2.1,-2l2,-2.1l2.1,0l2,-2.1l2.1,0l2,-2l2.1,-2.1l2,0l2.1,-2.1l2,-2l2.1,0l2,-2.1l2,0l2.1,-2.1l2,-2l2.1,0l2,-2.1"/>
<path class="m2" d="M674.2,61.0l2,0l2.1,-2.1l2,0l2.1,-2.1l2,0l2.1,0l2,-2l2.1,-2.1l2,0l2.1,-2.1l2,0l2.1,0l2,-2l2.1,0l2,-2.1l2,0"/>
<path class="m2" d="M674.2,52.7l2,0l2.1,-2.1l2,0l2.1,0l2,0l2.1,0l2,0l2.1,0l2,0l2.1,0l2,2.1l2.1,0l2,0l2.1,2.1l2,0l2,2l2.1,0l2,2.1l2.1,2.1l2,2l2.1,0l2,2.1l2.1,2.1l2,2l2.1,0l2,2.1l2.1,2.1l2,0l2,2l2.1,0l2,2.1l2.1,0l2,2.1l2.1,0l2,0l2.1,2l2,0"/>
<path class="m2" d="M686.5,46.5l2,2.1l2.1,0l2,2l2.1,2.1l2,2.1l2.1,2l2,2.1l2.1,2.1l2,2l2,2.1l2.1,2.1l2,2l2.1,2.1l2,2.1l2.1,2l2,2.1l2.1,2.1l2,2l2.1,0l2,2.1l2.1,0l2,2l2,0l2.1,2.1l2,0"/>
<path class="m2" d="M674.2,79.6l2,0l2.1,-2.1l2,0l2.1,0l2,-2.1l2.1,-2l2,0l2.1,-2.1l2,-2.1l2.1,0l2,-2l2.1,0l2,-2.1l2.1,0l2,0l2,0l2.1,2.1l2,0l2.1,2l2,2.1l2.1,2.1l2,0l2.1,2l2,2.1"/>
<path class="m2" d="M760.2,79.6l2,0l2,0l2.1,0l2,-2.1l2.1,0l2,-2.1l2.1,0l2,0l2.1,-2l2,0l2.1,-2.1l2,0l2.1,-2.1l2,0l2.1,-2l2,0l2,-2.1l2.1,0l2,-2.1l2.1,0l2,-2l2.1,0l2,-2.1l2.1,0l2,0l2.1,-2.1l2,0l2.1,0l2,-2l2,0l2.1,0l2,-2.1l2.1,0l2,0l2.1,-2.1l2,0l2.1,0l2,-2l2.1,0l2,0l2.1,0l2,0l2.1,-2.1l2,0l2,0l2.1,0l2,0l2.1,0l2,0l2.1,0l2,0l2.1,0l2,0l2.1,0l2,2.1l2.1,0l2,0l2.1,2l2,0l2,2.1l2.1,2.1l2,0l2.1,2l2,0l2.1,2.1l2,2.1l2.1,0l2,2l2.1,2.1l2,2.1l2.1,0l2,2l2,2.1l2.1,2.1l2,0l2.1,2l2,0l2.1,2.1l2,0l2.1,2.1l2,0l2.1,0l2,2l2.1,0l2,0l2.1,0l2,0"/>
<path class="m2" d="M782.7,81.6l2,0l2.1,-2l2,0l2.1,0l2,-2.1l2,0l2.1,-2.1l2,0l2.1,-2l2,0l2.1,0l2,-2.1l2.1,0l2,-2.1l2.1,0l2,0l2.1,-2l2,0l2,-2.1l2.1,0l2,0l2.1,-2.1l2,0l2.1,0l2,-2l2.1,0l2,0l2.1,0l2,-2.1l2.1,0l2,0l2.1,0l2,0l2,0l2.1,0l2,0l2.1,0l2,0l2.1,0l2,0l2.1,0l2,0l2.1,0l2,-2.1l2.1,0l2,-2l2.1,0l2,0l2,-2.1l2.1,0l2,-2.1l2.1,0l2,-2l2.1,-2.1l2,-2.1"/>
<path class="m2" d="M799.0,81.6l2.1,0l2,0l2.1,-2l2,0l2.1,0l2,-2.1l2.1,0l2,0l2.1,-2.1l2,0l2,0l2.1,-2l2,0l2.1,-2.1l2,0l2.1,-2.1l2,0l2.1,-2l2,0l2.1,0l2,0l2.1,0l2,0l2.1,0l2,0l2,0l2.1,0l2,0l2.1,0l2,-2.1l2.1,0l2,0l2.1,0l2,0l2.1,0l2,0l2.1,0l2,-2.1l2.1,0l2,-2l2,-2.1l2.1,-2.1"/>
<path class="m2" d="M913.6,46.5l2.1,0l2,0l2.1,2.1l2,0l2.1,0l2,2l2.1,0l2,0l2.1,0l2,0l2.1,2.1l2,0"/>
<path class="m2" d="M907.5,46.5l2,0l2.1,2.1l2,2l2.1,0l2,2.1l2.1,0l2,2.1l2.1,0l2,2l2.1,0l2,2.1l2.1,0l2,0l2.1,2.1l2,0"/>
<path class="m2" d="M882.9,54.8l2.1,0l2,2l2.1,2.1l2,0l2.1,2.1l2,2l2.1,0l2,2.1l2.1,2.1l2,2l2.1,0l2,2.1l2,0l2.1,2.1l2,0l2.1,2l2,0l2.1,2.1l2,0l2.1,0l2,2.1l2.1,0l2,0l2.1,0l2,0l2.1,0l2,0"/>
<path class="m2" d="M891.1,48.6l2.1,0l2,2l2.1,2.1l2,0l2.1,2.1l2,2l2.1,0l2,2.1l2,2.1l2.1,0l2,2l2.1,0l2,2.1l2.1,0l2,2.1l2.1,0l2,0l2.1,2l2,0l2.1,0l2,2.1l2.1,0l2,0"/>
<path class="m2" d="M819.5,46.5l2,0l2.1,0l2,0l2.1,2.1l2,0l2.1,0l2,0l2.1,0l2,0l2.1,0l2,0l2.1,2l2,0l2.1,0l2,0l2,0l2.1,0l2,0l2.1,2.1l2,0l2.1,0l2,0l2.1,0l2,0l2.1,0l2,0l2.1,0l2,0l2.1,-2.1l2,0l2,-2l2.1,0l2,-2.1l2.1,0"/>
<path class="m2" d="M674.2,67.2l2,0l2.1,0l2,0l2.1,0l2,0l2.1,0l2,2l2.1,0l2,0l2.1,0l2,0l2.1,0l2,2.1l2.1,0l2,0l2,2.1l2.1,0l2,0l2.1,2l2,0l2.1,0l2,2.1l2.1,0l2,0l2.1,2.1l2,0l2.1,0l2,2l2,0l2.1,0l2,0l2.1,0l2,2.1l2.1,0l2,0l2.1,0l2,0l2.1,0l2,0l2.1,2l2,0l2.1,0l2,0l2,0l2.1,0l2,0l2.1,-2l2,0l2.1,0l2,0l2.1,0l2,0l2.1,0l2,0l2.1,0l2,0l2.1,-2.1l2,0l2,0l2.1,0l2,0l2.1,0l2,0l2.1,-2l2,0l2.1,0l2,0l2.1,0l2,0l2.1,0l2,0l2,0l2.1,0l2,0l2.1,0l2,0l2.1,0l2,0l2.1,0l2,0l2.1,0l2,0l2.1,0l2,0l2.1,0l2,0l2,0l2.1,0l2,0l2.1,0l2,0l2.1,0l2,0l2.1,0l2,0l2.1,0l2,0l2.1,0l2,0l2.1,0l2,-2.1l2,0l2.1,0l2,0l2.1,0l2,0l2.1,0l2,0l2.1,-2.1l2,0l2.1,0l2,0l2.1,0l2,0l2,-2l2.1,0l2,0l2.1,0l2,0l2.1,0l2,-2.1l2.1,0l2,0l2.1,0l2,0l2.1,0l2,-2.1l2.1,0l2,0"/>
<path class="m2" d="M674.2,91.9l2,0l2.1,0l2,0l2.1,0l2,0l2.1,0l2,0l2.1,-2l2,0l2.1,0l2,0l2.1,0l2,0l2.1,0l2,0l2,0l2.1,-2.1l2,0l2.1,0l2,0l2.1,0l2,0l2.1,0l2,-2.1l2.1,0l2,0l2.1,0l2,0l2,0l2.1,0l2,0l2.1,0l2,-2l2.1,0l2,0l2.1,0l2,0l2.1,0l2,0l2.1,0l2,0l2.1,0l2,0l2,0l2.1,0l2,0l2.1,0l2,0l2.1,0l2,0l2.1,0l2,0l2.1,0l2,0l2.1,0l2,2l2.1,0l2,0l2,0l2.1,0l2,0l2.1,2.1l2,0l2.1,0l2,0l2.1,0l2,2.1l2.1,0l2,0l2.1,0l2,0l2,0l2.1,0l2,0l2.1,0l2,0l2.1,0l2,0l2.1,-2.1l2,0l2.1,0l2,0l2.1,0l2,0l2.1,0l2,0l2,0l2.1,0l2,0l2.1,0l2,0l2.1,0l2,0l2.1,0l2,0l2.1,0l2,0l2.1,0l2,2.1l2.1,0l2,0l2,0l2.1,0l2,0l2.1,0l2,0l2.1,2l2,0l2.1,0l2,0l2.1,0l2,0l2.1,0l2,0l2,0l2.1,0l2,0l2.1,0l2,0l2.1,0l2,0l2.1,0l2,0l2.1,0l2,0l2.1,0l2,0l2.1,0l2,0"/>
<path class="m2" d="M680.3,44.4l2.1,2.1l2,2.1l2.1,2l2,0l2.1,2.1l2,2.1l2.1,2l2,2.1l2.1,0l2,2.1l2.1,2l2,0l2,2.1l2.1,2.1l2,0l2.1,2l2,0l2.1,0l2,0l2.1,2.1l2,0l2.1,0l2,0l2.1,0l2,0l2,2.1l2.1,0l2,0l2.1,0l2,2"/>
<path class="m2" d="M835.9,73.4l2,0l2.1,0l2,0l2.1,0l2,-2.1l2.1,0l2,0l2,0l2.1,0l2,-2.1l2.1,0l2,0l2.1,0l2,0l2.1,0l2,0l2.1,2.1l2,0l2.1,0l2,0l2.1,2.1l2,0l2,0l2.1,2l2,0l2.1,0l2,2.1l2.1,0l2,0l2.1,0l2,2.1l2.1,0"/>
<path class="m2" d="M674.2,48.6l2,0l2.1,0l2,0l2.1,0l2,-2.1l2.1,0l2,0l2.1,0l2,0l2.1,0l2,0l2.1,0l2,0"/>
<path class="m2" d="M923.9,46.5l2,0l2.1,0l2,2.1l2.1,0l2,0l2.1,0l2,0"/>
<path class="m2" d="M674.2,145.7l2,0l2.1,0l2,-2.1l2.1,0l2,0l2.1,0l2,-2.1l2.1,0l2,0l2.1,0l2,0l2.1,0l2,0l2.1,-2l2,-2.1l2,0l2.1,0l2,0l2.1,-2.1l2,0l2.1,-2l2,0l2.1,0l2,0l2.1,-2.1l2,0l2.1,-2.1l2,0l2,0l2.1,0l2,-2l2.1,0l2,0l2.1,0l2,-2.1l2.1,0l2,0l2.1,0l2,0l2.1,0l2,0l2.1,0l2,0l2,0l2.1,0l2,0l2.1,0l2,0l2.1,0l2,0l2.1,0l2,0l2.1,2.1l2,0l2.1,0l2,2l2.1,0l2,0l2,2.1l2.1,0l2,0l2.1,2.1l2,0l2.1,0l2,2l2.1,0l2,2.1l2.1,0l2,0l2.1,2.1l2,0l2,0l2.1,2l2,0l2.1,0l2,2.1l2.1,0l2,0l2.1,0l2,2.1l2.1,0l2,0l2.1,0l2,0l2.1,0l2,0l2,0l2.1,0l2,0l2.1,0l2,0l2.1,-2.1l2,0l2.1,0l2,0l2.1,0l2,0l2.1,0l2,0l2.1,-2.1l2,0l2,0l2.1,0l2,0l2.1,0l2,0l2.1,0l2,0l2.1,0l2,0l2.1,0l2,0l2.1,0l2,0l2,0l2.1,0l2,2.1l2.1,0l2,0l2.1,0l2,0l2.1,0l2,0l2.1,0l2,0l2.1,0l2,0l2.1,0l2,0"/>
<path class="m2" d="M674.2,176.6l2,0l2.1,0l2,-2l2.1,0l2,-2.1l2.1,-2.1l2,0l2.1,-2l2,-2.1l2.1,0l2,-2.1l2.1,-2l2,-2.1l2.1,-2.1l2,-2l2,0l2.1,-2.1l2,-2.1l2.1,-2l2,-2.1l2.1,-2l2,0l2.1,-2.1l2,-2.1l2.1,-2l2,-2.1l2.1,-2.1l2,0l2,-2l2.1,-2.1l2,0l2.1,-2.1l2,0l2.1,0l2,-2l2.1,0l2,0l2.1,-2.1"/>
<path class="m2" d="M827.7,143.6l2,2.1l2.1,0l2,2l2.1,0l2,2.1l2.1,0l2,2l2.1,0l2,0l2.1,0l2,0l2,0l2.1,0l2,0l2.1,0l2,0l2.1,2.1l2,0l2.1,0l2,2.1l2.1,0l2,0l2.1,2l2,0l2.1,2.1l2,0l2,0l2.1,2.1l2,0l2.1,0l2,2l2.1,0l2,2.1l2.1,0l2,0l2.1,2.1l2,0l2.1,0l2,2l2,0l2.1,2.1l2,0l2.1,0l2,0l2.1,2.1l2,0l2.1,0l2,0l2.1,2l2,0l2.1,0l2,0l2.1,0l2,0"/>
<path class="m2" d="M674.2,176.6l2,0l2.1,0l2,0l2.1,0l2,0l2.1,-2l2,0l2.1,0l2,-2.1l2.1,0l2,0l2.1,-2.1l2,0l2.1,0l2,-2l2,0l2.1,0l2,-2.1l2.1,0l2,0l2.1,0l2,-2.1l2.1,0l2,0l2.1,0l2,-2l2.1,0l2,-2.1l2,0l2.1,0l2,-2.1l2.1,0l2,0l2.1,-2l2,0l2.1,0l2,0l2.1,0l2,0l2.1,0l2,0l2.1,0l2,0l2,0l2.1,0l2,0l2.1,2l2,0l2.1,0l2,0l2.1,2.1l2,0l2.1,0l2,0l2.1,-2.1l2,0l2.1,0l2,-2l2,0l2.1,0l2,-2.1l2.1,0l2,0l2.1,0l2,0l2.1,0l2,0l2.1,0l2,0l2.1,0l2,0l2,0l2.1,0l2,0l2.1,0l2,0l2.1,0l2,0l2.1,-2.1l2,0l2.1,0l2,0"/>
<path class="m2" d="M711.0,170.4l2.1,-2l2,0l2.1,0l2,-2.1l2.1,0l2,0l2.1,0l2,-2.1l2.1,0l2,0l2,0l2.1,-2l2,0l2.1,0l2,-2.1l2.1,0l2,0l2.1,-2.1l2,0l2.1,0l2,0l2.1,0l2,-2l2.1,0l2,0l2,0l2.1,2l2,0l2.1,0l2,0l2.1,2.1l2,2.1l2.1,0l2,2l2.1,0l2,2.1l2.1,2.1l2,0l2.1,2l2,0l2,2.1l2.1,0l2,2.1l2.1,0l2,2l2.1,0l2,0l2.1,2.1l2,0l2.1,0l2,0l2.1,2.1l2,0l2,0l2.1,0l2,0"/>
<path class="m2" d="M674.2,176.6l2,0l2.1,0l2,0l2.1,0l2,0l2.1,0l2,0l2.1,0l2,0l2.1,0l2,0l2.1,0l2,0l2.1,0l2,0l2,0l2.1,0l2,0l2.1,0l2,0l2.1,0l2,0l2.1,0l2,0l2.1,0l2,0l2.1,0l2,0l2,0l2.1,0l2,0l2.1,0l2,0l2.1,0l2,0l2.1,0l2,0l2.1,0l2,0l2.1,0l2,0l2.1,0l2,0l2,0l2.1,0l2,0l2.1,0l2,0l2.1,0l2,-2l2.1,0l2,0l2.1,0l2,0l2.1,0l2,0l2.1,-2.1l2,0l2,0l2.1,0l2,0l2.1,0l2,0l2.1,0l2,0l2.1,-2.1l2,0l2.1,0l2,0l2.1,0l2,-2l2,0l2.1,0l2,0l2.1,0l2,0l2.1,0l2,0l2.1,-2.1l2,0l2.1,0l2,0l2.1,0l2,0l2.1,0l2,0l2,0l2.1,0l2,0l2.1,0l2,2.1l2.1,0l2,2l2.1,0l2,0l2.1,0l2,0l2.1,2.1l2,0l2.1,0l2,0l2,2.1l2.1,0l2,0l2.1,2l2,0l2.1,0l2,0l2.1,0l2,0l2.1,0l2,0l2.1,0l2,0l2,0l2.1,0l2,0l2.1,0l2,0l2.1,0l2,0l2.1,0l2,0l2.1,0l2,0l2.1,0l2,0l2.1,0l2,0"/>
<path class="m2" d="M674.2,180.8l2,0l2.1,0l2,0l2.1,0l2,0l2.1,0l2,0l2.1,0l2,0l2.1,0l2,0l2.1,0l2,0l2.1,0l2,0l2,0l2.1,0l2,0l2.1,0l2,0l2.1,0l2,0l2.1,0l2,0l2.1,0l2,0l2.1,0l2,0l2,0l2.1,0l2,0l2.1,0l2,0l2.1,0l2,0l2.1,0l2,0l2.1,0l2,0l2.1,0l2,0l2.1,0l2,0l2,0l2.1,0l2,0l2.1,0l2,0l2.1,0l2,0l2.1,0l2,0l2.1,0l2,0l2.1,0l2,0l2.1,0l2,0l2,0l2.1,0l2,0l2.1,0l2,0l2.1,0l2,0l2.1,0l2,0l2.1,0l2,0l2.1,0l2,0l2,0l2.1,0l2,0l2.1,0l2,0l2.1,0l2,0l2.1,0l2,0l2.1,0l2,0l2.1,0l2,0l2.1,0l2,0l2,0l2.1,0l2,0l2.1,0l2,0l2.1,0l2,0l2.1,0l2,0l2.1,0l2,0l2.1,0l2,0l2.1,0l2,0l2,0l2.1,0l2,0l2.1,0l2,0l2.1,0l2,0l2.1,0l2,0l2.1,0l2,0l2.1,0l2,0l2,0l2.1,0l2,0l2.1,0l2,0l2.1,0l2,0l2.1,0l2,0l2.1,0l2,0l2.1,0l2,0l2.1,0l2,0"/>
<path class="m2" d="M674.2,182.8l2,0l2.1,0l2,0l2.1,0l2,0l2.1,0l2,0l2.1,0l2,0l2.1,0l2,0l2.1,0l2,0l2.1,0l2,0l2,0l2.1,0l2,0l2.1,0l2,0l2.1,0l2,0l2.1,0l2,0l2.1,0l2,0l2.1,0l2,0l2,0l2.1,0l2,0l2.1,2.1l2,0l2.1,0l2,0l2.1,0l2,0l2.1,0l2,0l2.1,0l2,0l2.1,0l2,0l2,0l2.1,0l2,0l2.1,0l2,0l2.1,0l2,0l2.1,0l2,0l2.1,0l2,0l2.1,2.1l2,0l2.1,0l2,0l2,0l2.1,2l2,0l2.1,0l2,0l2.1,0l2,0l2.1,0l2,0l2.1,0l2,0l2.1,0l2,0l2,0l2.1,0l2,0l2.1,0l2,0l2.1,0l2,0l2.1,0l2,0l2.1,0l2,0l2.1,0l2,0l2.1,-2l2,0l2,0l2.1,0l2,0l2.1,0l2,0l2.1,0l2,0l2.1,0l2,0l2.1,0l2,0l2.1,0l2,0l2.1,0l2,0l2,0l2.1,0l2,-2.1l2.1,0l2,0l2.1,0l2,0l2.1,0l2,0l2.1,0l2,0l2.1,-2.1l2,0l2,0l2.1,0l2,0l2.1,0l2,0l2.1,0l2,0l2.1,0l2,0l2.1,0l2,0l2.1,0l2,0l2.1,0l2,0"/>
<path class="m2" d="M862.5,153.9l2,0l2.1,0l2,2.1l2.1,0l2,2l2.1,0l2,0l2.1,2.1l2,0l2,2.1l2.1,0l2,0l2.1,2l2,0l2.1,2.1l2,0l2.1,0l2,2.1l2.1,0l2,2l2.1,0l2,0l2,2.1l2.1,0l2,2.1l2.1,0l2,0l2.1,2l2,0l2.1,0l2,0"/>
<path class="m2" d="M674.2,271.7l2,0l2.1,-2.1l2,0l2.1,0l2,-2.1l2.1,0l2,-2l2.1,0l2,-2.1l2.1,0l2,-2.1l2.1,-2l2,0l2.1,-2.1l2,-2.1l2,-2l2.1,0l2,-2.1l2.1,-2.1l2,-2l2.1,-2.1l2,-2.1l2.1,-2l2,0l2.1,-2.1l2,-2.1l2.1,-2l2,-2.1l2,-2.1l2.1,-2l2,0l2.1,-2.1l2,-2.1l2.1,0l2,-2l2.1,0l2,0l2.1,0l2,-2.1l2.1,0l2,0l2.1,0l2,0l2,0l2.1,0l2,0l2.1,0l2,2.1l2.1,0l2,0l2.1,0l2,2l2.1,0l2,0l2.1,2.1l2,0l2.1,0l2,2.1l2,0l2.1,2l2,0l2.1,2.1l2,0l2.1,2.1l2,0l2.1,2l2,0l2.1,2.1l2,0l2.1,2.1l2,0l2,2l2.1,0l2,0l2.1,2.1l2,0l2.1,0l2,0l2.1,2.1l2,0l2.1,0l2,0l2.1,0l2,0l2.1,0l2,0l2,0l2.1,0l2,0l2.1,0l2,2l2.1,0l2,2.1l2.1,0l2,0l2.1,2.1l2,0l2.1,0l2,2l2.1,0l2,2.1l2,0l2.1,0l2,2.1l2.1,0l2,0l2.1,0l2,2l2.1,0l2,0l2.1,0l2,0l2.1,0l2,2.1l2,0l2.1,2.1l2,0l2.1,0l2,2l2.1,2.1l2,0l2.1,0l2,2.1l2.1,0l2,0l2.1,2l2,0l2.1,0l2,0"/>
<path class="m2" d="M674.2,255.1l2,0l2.1,0l2,0l2.1,0l2,0l2.1,0l2,0l2.1,0l2,0l2.1,0l2,0l2.1,0l2,0l2.1,-2l2,0l2,0l2.1,0l2,-2.1l2.1,0l2,0l2.1,0l2,0l2.1,0l2,0l2.1,0l2,0l2.1,0l2,0l2,0l2.1,0l2,0l2.1,0l2,0l2.1,0l2,0l2.1,0l2,0l2.1,0l2,0l2.1,0l2,0l2.1,0l2,0l2,0l2.1,0l2,0l2.1,0l2,0l2.1,0l2,0l2.1,0l2,0l2.1,-2.1l2,0l2.1,0l2,-2l2.1,0l2,0l2,0l2.1,-2.1l2,0l2.1,0l2,0l2.1,-2.1l2,0l2.1,0l2,0l2.1,0l2,-2l2.1,0l2,0l2,0l2.1,0l2,0l2.1,0l2,0l2.1,0l2,0l2.1,0l2,0l2.1,-2.1l2,0l2.1,0l2,0l2.1,0l2,0l2,0l2.1,0l2,0l2.1,2.1l2,0l2.1,0l2,0l2.1,0l2,0l2.1,0l2,2l2.1,0l2,0l2.1,2.1l2,0l2,0l2.1,0l2,2.1l2.1,0l2,2l2.1,0l2,0l2.1,2.1l2,0l2.1,0l2,2.1l2.1,0l2,0l2,0l2.1,0l2,2l2.1,0l2,0l2.1,0l2,0l2.1,0l2,0l2.1,0l2,0l2.1,0l2,0l2.1,0l2,0"/>
<path class="m2" d="M674.2,257.2l2,0l2.1,0l2,0l2.1,0l2,0l2.1,0l2,0l2.1,0l2,0l2.1,0l2,0l2.1,0l2,0l2.1,0l2,0l2,0l2.1,0l2,0l2.1,0l2,0l2.1,0l2,0l2.1,0l2,0l2.1,0l2,0l2.1,-2.1l2,0l2,0l2.1,0l2,0l2.1,0l2,0l2.1,0l2,-2l2.1,0l2,0l2.1,0l2,0l2.1,0l2,0l2.1,0l2,0l2,0l2.1,0l2,0l2.1,0l2,0l2.1,2l2,0l2.1,0l2,0l2.1,0l2,0l2.1,2.1l2,0l2.1,0l2,0l2,2.1l2.1,0l2,0l2.1,0l2,2l2.1,0l2,0l2.1,2.1l2,0l2.1,0l2,2.1l2.1,0l2,0l2,0l2.1,2l2,0l2.1,0l2,0l2.1,0l2,0l2.1,0l2,0l2.1,0l2,0l2.1,0l2,0l2.1,0l2,0l2,0l2.1,0l2,0l2.1,0l2,0l2.1,0l2,0l2.1,0l2,0l2.1,-2l2,0l2.1,0l2,-2.1l2.1,0l2,0l2,0l2.1,0l2,-2.1l2.1,0l2,0l2.1,0l2,-2l2.1,0l2,0l2.1,0l2,-2.1l2.1,0l2,0l2,0l2.1,-2.1l2,0l2.1,0l2,0l2.1,0l2,0l2.1,0l2,0l2.1,0l2,0l2.1,0l2,0l2.1,0l2,0"/>
<path class="m2" d="M674.2,275.8l2,0l2.1,0l2,0l2.1,0l2,0l2.1,0l2,0l2.1,0l2,0l2.1,0l2,0l2.1,0l2,0l2.1,0l2,2.1l2,0l2.1,0l2,0l2.1,2l2,0l2.1,2.1l2,0l2.1,2.1l2,0l2.1,2l2,0l2.1,2.1l2,0l2,2l2.1,0l2,2.1l2.1,0l2,0l2.1,2.1l2,0l2.1,0l2,0l2.1,2l2,0l2.1,0l2,0l2.1,0l2,0l2,0l2.1,0l2,0l2.1,0l2,0l2.1,-2l2,0l2.1,0l2,0l2.1,0l2,-2.1l2.1,0l2,0l2.1,0l2,-2.1l2,0l2.1,0l2,0l2.1,-2l2,0l2.1,0l2,0l2.1,0l2,0l2.1,0l2,0l2.1,0l2,0l2,0l2.1,0l2,0l2.1,0l2,0l2.1,0l2,0l2.1,0l2,2l2.1,0l2,0l2.1,0l2,0l2.1,0l2,0l2,0l2.1,0l2,0l2.1,-2l2,0l2.1,0l2,0l2.1,-2.1l2,0l2.1,0l2,-2l2.1,0l2,0l2.1,-2.1l2,0l2,0l2.1,0l2,-2.1l2.1,0l2,-2l2.1,0l2,0l2.1,0l2,-2.1l2.1,0l2,0l2.1,0l2,0l2,0l2.1,-2.1l2,0l2.1,0l2,0l2.1,0l2,0l2.1,0l2,0l2.1,0l2,0l2.1,0l2,0l2.1,0l2,0"/>
<path class="m2" d="M674.2,271.7l2,0l2.1,0l2,-2.1l2.1,0l2,0l2.1,0l2,0l2.1,-2.1l2,0l2.1,0l2,-2l2.1,0l2,-2.1l2.1,0l2,0l2,-2.1l2.1,0l2,0l2.1,-2l2,0l2.1,0l2,-2.1l2.1,0l2,0l2.1,0"/>
<path class="m2" d="M674.2,368.7l2,0l2.1,0l2,0l2.1,-2l2,0l2.1,0l2,-2.1l2.1,0l2,-2.1l2.1,-2l2,-2.1l2.1,0l2,-2l2.1,-2.1l2,-2.1l2,-2l2.1,-2.1l2,-2.1l2.1,-2l2,-2.1l2.1,-2.1l2,-2l2.1,-2.1l2,-2.1l2.1,-2l2,-2.1l2.1,-2.1l2,-2l2,-2.1l2.1,-2.1l2,-2l2.1,0l2,-2.1l2.1,-2.1l2,0l2.1,-2l2,0l2.1,0l2,-2.1l2.1,0l2,0l2.1,0l2,0l2,0l2.1,0l2,0l2.1,0l2,0l2.1,0l2,2.1l2.1,0l2,0l2.1,2l2,0l2.1,2.1l2,0l2.1,2.1l2,0l2,2l2.1,0l2,2.1l2.1,0l2,2.1l2.1,0l2,2l2.1,0l2,0l2.1,2.1l2,0l2.1,2.1l2,0l2,2l2.1,0l2,2.1l2.1,0l2,2.1l2.1,0l2,2l2.1,0l2,0l2.1,2.1l2,0l2.1,0l2,0l2.1,0l2,0l2,0l2.1,0l2,0l2.1,0l2,0l2.1,0l2,0l2.1,0l2,0l2.1,0l2,2.1l2.1,2l2,0l2.1,2.1l2,0l2,0l2.1,2.1l2,0l2.1,2l2,0l2.1,2.1l2,0l2.1,2.1l2,0l2.1,2l2,0l2.1,2.1l2,0l2,2l2.1,0l2,2.1l2.1,0l2,2.1l2.1,0l2,0l2.1,2l2,0l2.1,0l2,0l2.1,0l2,0l2.1,0l2,0"/>
<path class="m2" d="M674.2,329.5l2,0l2.1,0l2,0l2.1,0l2,0l2.1,0l2,0l2.1,2.1l2,0l2.1,0l2,0l2.1,0l2,0l2.1,2l2,0l2,0l2.1,0l2,0l2.1,0l2,2.1l2.1,0l2,0l2.1,0l2,0l2.1,2.1l2,0l2.1,0l2,0l2,2l2.1,0l2,0l2.1,0l2,0l2.1,2.1l2,0l2.1,0l2,0l2.1,0l2,0l2.1,0l2,0l2.1,0l2,0l2,0l2.1,0l2,0l2.1,0l2,-2.1l2.1,0l2,0l2.1,0l2,0l2.1,0l2,0l2.1,0l2,-2l2.1,0l2,0l2,-2.1l2.1,0l2,0l2.1,0l2,0l2.1,0l2,-2.1l2.1,0l2,0l2.1,0l2,-2l2.1,0l2,-2.1l2,0l2.1,0l2,0l2.1,0l2,0l2.1,0l2,-2.1l2.1,0l2,0l2.1,0l2,0l2.1,0l2,0l2.1,0l2,0l2,0l2.1,0l2,0l2.1,0l2,0l2.1,0l2,0l2.1,0l2,0l2.1,0l2,0l2.1,0l2,0l2.1,0l2,0l2,0l2.1,0l2,0l2.1,0l2,0l2.1,0l2,0l2.1,2.1l2,0l2.1,0l2,0l2.1,0l2,0l2,0l2.1,0l2,0l2.1,0l2,0l2.1,0l2,0l2.1,0l2,0l2.1,0l2,0l2.1,0l2,0l2.1,0l2,0"/>
<path class="m2" d="M674.2,329.5l2,0l2.1,0l2,0l2.1,0l2,2.1l2.1,0l2,0l2.1,2l2,0l2.1,0l2,0l2.1,0l2,0l2.1,0l2,0l2,0l2.1,0l2,0l2.1,0l2,0l2.1,2.1l2,0l2.1,0l2,2.1l2.1,0l2,2l2.1,0l2,0l2,0l2.1,0l2,0l2.1,0l2,0l2.1,0l2,0l2.1,0l2,0l2.1,0l2,0l2.1,0l2,0l2.1,0l2,0l2,0l2.1,0l2,0l2.1,0l2,0l2.1,0l2,0l2.1,0l2,0l2.1,0l2,0l2.1,0l2,0l2.1,0l2,0l2,0l2.1,0l2,0l2.1,2.1l2,2.1l2.1,0l2,0l2.1,0l2,0l2.1,0l2,0l2.1,0l2,0l2,0l2.1,0l2,0l2.1,0l2,0l2.1,0l2,0l2.1,0l2,0l2.1,0l2,0l2.1,0l2,0l2.1,0l2,0l2,0l2.1,0l2,0l2.1,0l2,0l2.1,0l2,0l2.1,0l2,0l2.1,-2.1l2,0l2.1,0l2,-2.1l2.1,0l2,-2l2,0l2.1,0l2,-2.1l2.1,0l2,0l2.1,0l2,-2.1l2.1,0l2,0l2.1,0l2,-2l2.1,0l2,0l2,0l2.1,-2.1l2,0l2.1,0l2,0l2.1,0l2,0l2.1,0l2,0l2.1,0l2,0l2.1,0l2,0l2.1,0l2,0"/>
<path class="m2" d="M686.5,459.6l2,-2l2.1,-2.1l2,-2.1l2.1,-2l2,-2.1l2.1,-2.1l2,-2l2.1,-2.1l2,-4.1l2,-2.1l2.1,-4.1l2,-2.1l2.1,-2.1l2,-2l2.1,-2.1l2,-2l2.1,-2.1l2,-2.1l2.1,-2l2,-2.1l2.1,-2.1l2,-2l2,-2.1l2.1,-2.1l2,-2l2.1,-2.1l2,0l2.1,-2.1l2,0l2.1,-2l2,0l2.1,-2.1l2,0l2.1,0l2,-2.1l2.1,0l2,0l2,0l2.1,0l2,2.1l2.1,0l2,0l2.1,2.1l2,0l2.1,2l2,0l2.1,2.1l2,0l2.1,2.1l2,2l2.1,0l2,2.1l2,2.1l2.1,0l2,2l2.1,0l2,2.1l2.1,2.1l2,0l2.1,2l2,0l2.1,2.1l2,0l2.1,0l2,2.1l2,0l2.1,0l2,0l2.1,0l2,0l2.1,0l2,0l2.1,0l2,0l2.1,-2.1l2,0l2.1,0l2,0l2.1,0l2,-2.1l2,0l2.1,0l2,0l2.1,0l2,0l2.1,0l2,0l2.1,0l2,-2l2.1,0l2,0l2.1,0l2,-2.1l2.1,0l2,0l2,-2.1l2.1,0l2,0l2.1,0l2,-2l2.1,0l2,-2.1l2.1,0l2,0l2.1,0l2,-2.1l2.1,0l2,0l2,-2l2.1,0l2,0l2.1,0l2,0l2.1,0l2,0l2.1,0l2,0l2.1,0l2,0l2.1,0l2,0l2.1,0l2,0"/>
<path class="m2" d="M674.2,403.9l2,0l2.1,0l2,0l2.1,0l2,0l2.1,0l2,0l2.1,0l2,0l2.1,0l2,0l2.1,0l2,0l2.1,2l2,2.1l2,4.1l2.1,2.1l2,4.1l2.1,2.1l2,2.1l2.1,2l2,0l2.1,0l2,2.1l2.1,0l2,0l2.1,2l2,0l2,2.1l2.1,0l2,0l2.1,2.1l2,0l2.1,0l2,0l2.1,2l2,0l2.1,0l2,0l2.1,0l2,0l2.1,0l2,0l2,0l2.1,0l2,0l2.1,0l2,0l2.1,0l2,0l2.1,0l2,0l2.1,0l2,-2l2.1,0l2,-2.1l2.1,0l2,0l2,0l2.1,0l2,-2.1l2.1,0l2,0l2.1,0l2,-2l2.1,0l2,0l2.1,0l2,-2.1l2.1,0l2,0l2,0l2.1,0l2,-2l2.1,0l2,0"/>
<path class="m2" d="M674.2,410.1l2,0l2.1,0l2,0l2.1,0l2,0l2.1,0l2,0l2.1,0l2,0l2.1,0l2,0l2.1,2l2,0l2.1,2.1l2,2.1l2,2l2.1,0l2,2.1l2.1,2.1l2,2l2.1,0"/>
<path class="m2" d="M831.8,426.6l2,0l2.1,0l2,0l2.1,0l2,0l2.1,0l2,0l2.1,0l2,0l2,0l2.1,0l2,0l2.1,0l2,0l2.1,0l2,0l2.1,-2.1l2,0l2.1,-2l2,0l2.1,-2.1l2,0l2.1,-2.1l2,0l2,0l2.1,-2l2,0l2.1,0l2,-2.1l2.1,0l2,0l2.1,0l2,-2.1l2.1,0l2,0l2.1,0l2,0l2,-2l2.1,0l2,0l2.1,0l2,0l2.1,0l2,0l2.1,0l2,0l2.1,0l2,0l2.1,0l2,0l2.1,0l2,0"/>
<path class="m2" d="M835.9,430.7l2,0l2.1,0l2,0l2.1,0l2,0l2.1,0l2,0l2,0l2.1,0l2,0l2.1,0l2,0l2.1,0l2,2.1l2.1,0l2,0l2.1,0l2,0l2.1,-2.1l2,0l2.1,0l2,-2.1l2,-2l2.1,0l2,0l2.1,-2.1l2,0l2.1,-2l2,-2.1l2.1,0l2,0l2.1,-2.1l2,0l2.1,-2l2,0l2,0l2.1,-2.1l2,0l2.1,0l2,0l2.1,0l2,0l2.1,0l2,-2.1l2.1,0l2,0l2.1,0l2,0l2.1,0l2,0"/>
<path class="m2" d="M790.9,459.6l2,-2l2,-2.1l2.1,-2.1l2,-2l2.1,-2.1l2,-2.1l2.1,-2l2,-2.1l2.1,0l2,-2.1l2.1,0l2,0l2.1,-2l2,0l2,0l2.1,0l2,0l2.1,0l2,0l2.1,0l2,0l2.1,0l2,0l2.1,2l2,2.1l2.1,0l2,0l2.1,0l2,0l2,0l2.1,0l2,0l2.1,-2.1l2,0l2.1,-2l2,0l2.1,-2.1l2,0l2.1,-2.1l2,0l2.1,0l2,0l2.1,-2l2,2l2,0l2.1,0l2,2.1l2.1,0l2,0l2.1,0l2,0l2.1,0l2,0l2.1,-2.1l2,0l2.1,-2l2,0l2,0l2.1,0l2,0l2.1,0l2,0l2.1,0l2,0l2.1,0l2,0l2.1,0l2,0l2.1,0l2,0l2.1,0l2,0"/>
<path class="m2" d="M831.8,461.7l2,-2.1l2.1,-2l2,-2.1l2.1,-2.1l2,-2l2.1,0l2,-2.1l2.1,0l2,-2.1l2,0l2.1,0l2,0l2.1,0l2,0l2.1,0l2,-2l2.1,0l2,0l2.1,0l2,0l2.1,0l2,0l2.1,-2.1l2,0l2,-2.1l2.1,0l2,0l2.1,0l2,0l2.1,0l2,0l2.1,2.1l2,0l2.1,2.1l2,0l2.1,2l2,0l2,2.1l2.1,0l2,0l2.1,0l2,0l2.1,-2.1l2,0l2.1,-2l2,0l2.1,0l2,-2.1l2.1,0l2,0l2.1,0l2,-2.1"/>
<path class="m2" d="M674.2,432.8l2,0l2.1,2l2,0l2.1,0l2,2.1l2.1,2.1l2,2l2.1,0l2,2.1l2.1,2.1l2,2l2.1,2.1l2,4.1l2.1,2.1l2,4.1l2,2.1"/>
<path class="m2" d="M674.2,447.2l2,0l2.1,0l2,0l2.1,0l2,0l2.1,2.1l2,0l2.1,0l2,0l2.1,0l2,2.1l2.1,2l2,0l2.1,2.1l2,4.1l2,2.1"/>
<path class="m2" d="M674.2,633.1l2,-4.1l2.1,-2l2,-2.1l2.1,-4.1l2,-2.1l2.1,-4.1l2,-4.2l2.1,-2l2,-4.2l2.1,-4.1l2,-4.1l2.1,-4.2l2,-4.1l2.1,-4.1l2,-4.2l2,-4.1l2.1,-4.1l2,-4.2l2.1,-4.1l2,-2l2.1,-2.1l2,0l2.1,-2.1l2,0l2.1,2.1l2,2.1l2.1,2l2,6.2l2,4.1l2.1,6.2l2,6.2l2.1,6.2l2,6.2l2.1,6.2l2,6.2l2.1,6.2l2,6.2l2.1,6.2l2,6.2l2.1,8.3l2,8.2l2.1,8.3l2,4.1l2,0l2.1,-2l2,-4.2l2.1,-2l2,-2.1l2.1,-2.1l2,-2l2.1,-2.1l2,-2.1l2.1,-2l2,-2.1l2.1,-2.1l2,-2l2.1,-2.1l2,-2.1l2,-2l2.1,-2.1l2,-2l2.1,-2.1l2,-2.1l2.1,-2l2,-2.1l2.1,-2.1l2,-2l2.1,-2.1l2,-2.1l2.1,-2l2,-2.1l2,-2.1l2.1,0l2,-2l2.1,-2.1l2,-2.1l2.1,-2l2,0l2.1,-2.1l2,-2.1l2.1,0l2,0l2.1,0l2,0l2.1,-2l2,0l2,0l2.1,-2.1l2,-2.1l2.1,-2l2,-2.1l2.1,-4.1l2,-4.2l2.1,-4.1l2,-4.1l2.1,-4.1l2,-4.2l2.1,-6.2l2,-4.1l2.1,-6.2l2,-4.1l2,-6.2l2.1,-4.2l2,-6.2l2.1,-4.1l2,-4.1l2.1,-6.2l2,-6.2l2.1,-4.2l2,-6.1l2.1,-4.2l2,-6.2l2.1,-4.1l2,-4.1l2,-2.1l2.1,-4.1l2,-4.2l2.1,-2l2,-4.2l2.1,-2l2,-2.1l2.1,-2.1l2,-2l2.1,-2.1l2,0l2.1,-2.1l2,0l2.1,-2l2,0"/>
<path class="m2" d="M674.2,461.7l2,2.1l2.1,2l2,2.1l2.1,2.1l2,4.1l2.1,2.1l2,4.1l2.1,2.1l2,4.1l2.1,4.1l2,4.1l2.1,6.2l2,4.2l2.1,6.2l2,4.1l2,6.2l2.1,6.2l2,6.2l2.1,6.2l2,8.3l2.1,6.2l2,8.2l2.1,2.1l2,2l2.1,4.2l2,6.2l2.1,10.3l2,6.2l2,4.1l2.1,6.2l2,8.3l2.1,8.3l2,6.2l2.1,6.1l2,4.2l2.1,4.1l2,4.1l2.1,4.2l2,4.1l2.1,4.1l2,2.1l2.1,2.1l2,2l2,0l2.1,-4.1l2,-2.1l2.1,-2l2,-2.1l2.1,-4.1l2,-2.1l2.1,-4.1l2,-6.2l2.1,-2.1l2,-4.1l2.1,-6.2l2,-4.1l2.1,-6.2l2,-6.2l2,-4.2l2.1,-4.1l2,-4.1l2.1,-4.2l2,-4.1l2.1,-4.1l2,-6.2l2.1,-4.2l2,-4.1l2.1,-4.1l2,-4.1l2.1,-4.2l2,-4.1l2,-4.1l2.1,-2.1l2,-4.1l2.1,-2.1l2,-2.1l2.1,-2l2,-2.1l2.1,0l2,-2.1l2.1,0l2,-2l2.1,0l2,-2.1l2.1,0l2,0l2,-2.1l2.1,0l2,-2l2.1,0l2,-2.1l2.1,-2.1l2,-2l2.1,-2.1l2,-2.1l2.1,-2l2,-2.1l2.1,-2.1l2,-2l2.1,-2.1l2,-2.1l2,-2l2.1,-2.1l2,-4.1l2.1,-2.1l2,-2l2.1,-2.1l2,-4.1l2.1,-2.1l2,-2.1l2.1,-2l2,-4.2l2.1,-2l2,-2.1l2,-2.1l2.1,-2l2,0l2.1,-2.1l2,-2.1l2.1,-2l2,0l2.1,-2.1l2,0l2.1,-2.1l2,0l2.1,-2l2,0l2.1,0l2,0"/>
<path class="m2" d="M694.7,461.7l2,2.1l2.1,4.1l2,6.2l2.1,4.1l2,4.2l2,6.2l2.1,4.1l2,6.2l2.1,4.1l2,4.1l2.1,6.2l2,4.2l2.1,4.1l2,4.1l2.1,4.2l2,6.2l2.1,4.1l2,6.2l2,4.1l2.1,6.2l2,4.2l2.1,4.1l2,6.2l2.1,4.1l2,6.2l2.1,4.1l2,4.2l2.1,2l2,2.1l2.1,2.1l2,0l2.1,0l2,0l2,-2.1l2.1,-2.1l2,-4.1l2.1,-2.1l2,-2l2.1,-2.1l2,-2.1l2.1,-4.1l2,-2.1l2.1,-4.1l2,-4.1l2.1,-6.2l2,-4.1l2.1,-6.2l2,-4.2l2,-4.1l2.1,-6.2l2,-4.1l2.1,-4.2l2,-6.2l2.1,-4.1l2,-4.1l2.1,-6.2l2,-4.2l2.1,-4.1l2,-4.1l2.1,-4.1l2,-4.2l2,-4.1l2.1,-4.1l2,-2.1l2.1,-4.1l2,-4.2l2.1,-2l2,-4.2l2.1,-2l2,-2.1l2.1,-2.1l2,0l2.1,-2l2,0l2.1,0l2,-2.1l2,0l2.1,0l2,0l2.1,0l2,-2.1l2.1,0l2,0l2.1,0l2,0l2.1,-2l2,0l2.1,0l2,0l2.1,-2.1l2,0l2,0l2.1,0l2,-2.1l2.1,0l2,0l2.1,0l2,0l2.1,0l2,0l2.1,0l2,-2l2.1,0l2,0l2,0l2.1,0l2,0l2.1,0l2,0l2.1,0l2,0l2.1,0l2,0l2.1,0l2,0l2.1,0l2,0l2.1,0l2,0"/>
<path class="m2" d="M760.2,596.0l2,0l2,0l2.1,0l2,0l2.1,0l2,0l2.1,0l2,0l2.1,0l2,0l2.1,-2.1l2,0l2.1,-2.1l2,0l2.1,-2l2,-2.1l2,0l2.1,-2.1l2,0l2.1,-2l2,0l2.1,-2.1l2,-2.1l2.1,0l2,-2l2.1,0l2,-2.1l2.1,-2.1l2,0l2,-2l2.1,0l2,-2.1l2.1,0l2,0l2.1,-2.1l2,0l2.1,0l2,-2l2.1,0l2,0l2.1,0l2,0l2.1,-2.1l2,0l2,0l2.1,-2l2,0l2.1,-2.1l2,-2.1l2.1,-2l2,0l2.1,-2.1l2,-2.1l2.1,-2l2,-2.1l2.1,-2.1l2,-4.1l2.1,-2.1l2,-2l2,-4.2l2.1,-4.1l2,-2.1l2.1,-4.1l2,-2.1l2.1,-2l2,-4.2l2.1,-4.1l2,-4.1l2.1,-4.2l2,-6.2l2.1,-4.1l2,-4.1l2,-4.1l2.1,-4.2l2,-4.1l2.1,-2.1l2,-4.1l2.1,-2.1l2,-4.1l2.1,-2.1l2,-4.1l2.1,-2.1l2,-2l2.1,0l2,-2.1l2.1,0l2,0"/>
<path class="m2" d="M704.9,465.8l2,6.2l2.1,8.3l2,6.2l2.1,8.2l2,6.2l2.1,8.3l2,6.2l2.1,8.3l2,6.2l2.1,8.2l2,8.3l2.1,8.3l2,8.2l2,8.3l2.1,8.2l2,10.4l2.1,8.2l2,8.3l2.1,8.3l2,6.2l2.1,6.2l2,6.1l2.1,6.2l2,4.2l2.1,6.2l2,6.2l2.1,6.2l2,2l2,-8.2l2.1,-8.3l2,-6.2l2.1,-8.3l2,-4.1l2.1,-8.2l2,-6.2l2.1,-6.2l2,-8.3l2.1,-8.3l2,-10.3l2.1,-8.3l2,-8.2l2.1,-8.3l2,-10.3l2,-6.2l2.1,-6.2l2,-6.2l2.1,-6.2l2,-4.1l2.1,-6.2l2,-6.2l2.1,-4.2l2,-6.2l2.1,-4.1l2,-4.1l2.1,-4.1l2,-4.2l2,-4.1l2.1,-4.1l2,-2.1l2.1,-4.1l2,-2.1l2.1,-2.1l2,0l2.1,-2l2,-2.1l2.1,0l2,0"/>
<path class="m2" d="M721.3,428.6l2,4.2l2.1,4.1l2,4.1l2.1,4.2l2,4.1l2,4.1l2.1,4.2l2,4.1l2.1,4.1l2,2.1l2.1,2.1l2,0l2.1,0l2,2l2.1,0l2,2.1l2.1,2.1l2,0l2.1,2l2,0l2,0l2.1,-2l2,0l2.1,0l2,-2.1l2.1,-2.1l2,0l2.1,-2l2,-2.1l2.1,0l2,-2.1l2.1,0l2,-2l2.1,-2.1l2,-2.1l2,-2l2.1,-2.1l2,-2.1l2.1,-2l2,-2.1l2.1,-2.1l2,-2l2.1,-2.1l2,-2.1l2.1,0l2,-2l2.1,0l2,0l2,0l2.1,0l2,0l2.1,0l2,0l2.1,0l2,0l2.1,0l2,0l2.1,2l2,0l2.1,2.1l2,0l2.1,0l2,0"/>
<path class="m2" d="M725.4,484.4l2,0l2.1,-2l2,-2.1l2,-2.1l2.1,0l2,-2l2.1,-2.1l2,-2.1l2.1,-2l2,-2.1l2.1,-2.1l2,-2l2.1,0l2,0l2.1,0l2,-2.1l2.1,0l2,0l2,0l2.1,0l2,2.1l2.1,0l2,0l2.1,0l2,2l2.1,0l2,2.1l2.1,0l2,2.1l2.1,0l2,2l2.1,0l2,2.1l2,2.1l2.1,2l2,2.1l2.1,2.1l2,2l2.1,2.1l2,2.1l2.1,2l2,2.1l2.1,2l2,2.1l2.1,0l2,2.1l2,2l2.1,0l2,0l2.1,0l2,0l2.1,0l2,2.1l2.1,0l2,0l2.1,0l2,0l2.1,0l2,0l2.1,0l2,0l2,2.1l2.1,0l2,0l2.1,0l2,-2.1l2.1,0l2,0l2.1,0l2,0l2.1,2.1l2,0l2.1,2l2,2.1l2.1,2.1l2,2l2,0l2.1,2.1l2,2.1l2.1,4.1l2,2.1l2.1,2l2,2.1l2.1,2.1l2,2l2.1,4.2l2,2l2.1,2.1l2,2.1l2,2l2.1,2.1l2,2.1l2.1,2l2,0l2.1,2.1l2,2.1l2.1,2l2,0l2.1,2.1l2,0l2.1,2.1l2,0l2.1,0l2,0"/>
<path class="m2" d="M725.4,505.1l2,-2.1l2.1,-2.1l2,-2l2,-2.1l2.1,0l2,-2.1l2.1,0l2,-2l2.1,0l2,0l2.1,-2.1l2,0l2.1,0l2,-2l2.1,0l2,0l2.1,0l2,0l2,0l2.1,0l2,0l2.1,0l2,2l2.1,0l2,0l2.1,2.1l2,0l2.1,2l2,0l2.1,2.1l2,0l2.1,2.1l2,2l2,2.1l2.1,0l2,2.1l2.1,2l2,2.1l2.1,0l2,0l2.1,0l2,2.1l2.1,2l2,2.1l2.1,2.1l2,2l2,2.1l2.1,2.1l2,4.1l2.1,2.1l2,2l2.1,2.1l2,0l2.1,2.1l2,2l2.1,2.1l2,0l2.1,2.1l2,0l2.1,0l2,0l2,2l2.1,0l2,0l2.1,0l2,0l2.1,2.1l2,2.1l2.1,2l2,2.1l2.1,2.1l2,4.1l2.1,2.1l2,2l2.1,4.1l2,2.1l2,2.1l2.1,4.1l2,2.1l2.1,2l2,4.2l2.1,2l2,4.2l2.1,2l2,2.1l2.1,4.1l2,2.1l2.1,2.1l2,4.1l2,2.1l2.1,2l2,4.2l2.1,2l2,2.1l2.1,2.1l2,2l2.1,2.1l2,2.1l2.1,2l2,2.1l2.1,0l2,2l2.1,0l2,0"/>
<path class="m2" d="M706.9,470.0l2.1,4.1l2,4.1l2.1,4.2l2,4.1l2.1,4.1l2,2.1l2.1,4.1l2,2.1l2.1,4.1l2,2.1l2.1,2l2,4.2l2,2l2.1,2.1l2,0l2.1,2.1l2,0l2.1,2l2,0l2.1,0l2,0l2.1,2.1l2,0l2.1,0l2,0l2.1,0l2,0l2,0l2.1,0l2,0l2.1,0l2,0l2.1,0l2,0l2.1,-2.1l2,0l2.1,0l2,-2l2.1,0l2,0l2.1,-2.1l2,0l2,0l2.1,-2.1l2,0l2.1,-2l2,0l2.1,0l2,-2.1l2.1,0"/>
<path class="m2" d="M674.2,560.9l2,0l2.1,-2.1l2,0l2.1,-2.1l2,0l2.1,-2l2,-2.1l2.1,-2.1l2,0l2.1,-2l2,-4.2l2.1,-2l2,-2.1l2.1,-4.1l2,-2.1l2,-2.1l2.1,-2l2,0l2.1,0l2,2l2.1,0l2,2.1l2.1,0l2,2.1l2.1,2l2,4.2l2.1,2l2,4.2l2,4.1l2.1,4.1"/>
<path class="m2" d="M674.2,439.0l2,2l2.1,2.1l2,2.1l2.1,2l2,2.1l2.1,2.1l2,2l2.1,4.2l2,2l2.1,2.1l2,4.1l2.1,2.1l2,2.1l2.1,2l2,2.1l2,2.1l2.1,2l2,2.1l2.1,2.1l2,2l2.1,2.1l2,0l2.1,2.1l2,0l2.1,-2.1l2,-4.1"/>
<path class="m2" d="M674.2,449.3l2,0l2.1,2.1l2,0l2.1,2l2,2.1l2.1,2.1l2,2l2.1,2.1l2,2.1l2.1,2l2,4.2l2.1,4.1l2,2.1l2.1,4.1l2,4.1l2,4.2l2.1,2l2,2.1l2.1,2l2,2.1l2.1,6.2l2,8.3l2.1,6.2l2,6.2l2.1,6.2l2,4.1l2.1,4.1l2,2.1l2,2.1l2.1,0"/>
<path class="m2" d="M840.0,461.7l2,-2.1l2.1,0l2,-2l2.1,0l2,0l2,0l2.1,-2.1l2,0l2.1,0l2,0l2.1,0l2,0l2.1,-2.1l2,0l2.1,0l2,0l2.1,-2l2,0l2.1,0l2,0l2,-2.1l2.1,0l2,0l2.1,0l2,0l2.1,-2.1l2,0l2.1,0l2,0l2.1,0l2,0l2.1,0l2,0l2,0l2.1,0l2,0l2.1,0l2,0l2.1,-2l2,0l2.1,0l2,0l2.1,0l2,0l2.1,0l2,0l2.1,0l2,0"/>
<path class="m2" d="M823.6,476.2l2,-2.1l2.1,0l2,-2.1l2.1,0l2,-2l2.1,0l2,0l2.1,0l2,0l2.1,-2.1l2,0l2.1,0l2,0l2,0l2.1,0l2,0l2.1,0l2,0l2.1,0l2,0l2.1,0l2,0l2.1,0l2,0l2.1,0l2,0l2.1,0l2,-2.1l2,0l2.1,0l2,0l2.1,0l2,0l2.1,0l2,0l2.1,0l2,0l2.1,-2l2,0l2.1,0l2,0l2,0l2.1,0l2,0l2.1,0l2,0l2.1,0l2,0l2.1,0l2,0l2.1,0l2,0l2.1,0l2,0l2.1,0l2,0"/>
</g>
<rect class="box" x="150.5" y="46.5" width="787.7" height="619.7"/>
<path d="M150.5,562.9h6M938.2,562.9h-6" stroke="#777" stroke-width="1" fill="none"/>
<path d="M150.5,459.6h6M938.2,459.6h-6" stroke="#777" stroke-width="1" fill="none"/>
<path d="M150.5,356.4h6M938.2,356.4h-6" stroke="#777" stroke-width="1" fill="none"/>
<path d="M150.5,253.1h6M938.2,253.1h-6" stroke="#777" stroke-width="1" fill="none"/>
<path d="M150.5,149.8h6M938.2,149.8h-6" stroke="#777" stroke-width="1" fill="none"/>
<text class="tka" text-anchor="end" x="142.7" y="676.5">0</text>
<text class="tka" text-anchor="end" x="142.7" y="573.2">1</text>
<text class="tka" text-anchor="end" x="142.7" y="469.9">2</text>
<text class="tka" text-anchor="end" x="142.7" y="366.7">3</text>
<text class="tka" text-anchor="end" x="142.7" y="263.4">4</text>
<text class="tka" text-anchor="end" x="142.7" y="160.1">5</text>
<text class="tka" text-anchor="end" x="142.7" y="56.8">6</text>
<text class="tka" text-anchor="middle" transform="translate(150.5,709.7) scale(1.11,1)">M</text>
<text class="tka" text-anchor="middle" transform="translate(243.0,709.7) scale(0.83,1)">Γ</text>
<text class="tka" text-anchor="middle" transform="translate(324.3,709.7) scale(0.85,1)">X</text>
<text class="tka" text-anchor="middle" transform="translate(412.2,709.7) scale(1.11,1)">M</text>
<text class="tka" text-anchor="middle" transform="translate(498.5,709.7) scale(0.83,1)">Γ</text>
<text class="tka" text-anchor="middle" transform="translate(580.5,709.7) scale(0.85,1)">X</text>
<text class="tka" text-anchor="middle" transform="translate(666.5,709.7) scale(1.11,1)">M</text>
<text class="tka" text-anchor="middle" transform="translate(760.2,709.7) scale(0.83,1)">Γ</text>
<text class="tka" text-anchor="middle" transform="translate(841.5,709.7) scale(0.85,1)">X</text>
<text class="tka" text-anchor="middle" transform="translate(936.6,709.7) scale(1.11,1)">M</text>
<text class="tta" text-anchor="middle" x="278.3" y="23.0">H/a = 1</text>
<text class="tta" text-anchor="middle" x="551.4" y="23.0">H/a = 2</text>
<text class="tta" text-anchor="middle" x="815.0" y="23.0">H/a = 3</text>
<text class="tka" style="font-size:28.4px" text-anchor="middle" x="553.0" y="744.5">Reduced wavevector k*</text>
<text class="tka" text-anchor="middle" transform="translate(108.2,353.6) rotate(-90)">Frequency [Hz]</text>
<text class="nm" text-anchor="middle" transform="translate(49.5,332.5) rotate(-90)">Cross-like cavity</text>
<text class="tg" text-anchor="middle" transform="translate(555.0,791.0) scale(1.1,1)">(a)</text>
<path class="arr" style="stroke-width:3" d="M320.2,278.4L320.2,333.3M306.4,309.7L320.2,334.2L334.0,309.7"/>
<text class="an" style="font-size:29.8px" x="325.2" y="286.4" textLength="63.5" lengthAdjust="spacingAndGlyphs">MS1</text>
<path class="arr" style="stroke-width:3" d="M501.0,254.3L501.0,200.2M487.7,222.9L501.0,199.3L514.3,222.9"/>
<text class="an" style="font-size:29.8px" x="512.1" y="262.6" textLength="67.6" lengthAdjust="spacingAndGlyphs">MS2</text>
</g>
<g id="panel-b">
<line class="grid" x1="155.0" x2="931.3" y1="1446.0" y2="1446.0"/>
<line class="grid" x1="155.0" x2="931.3" y1="1379.0" y2="1379.0"/>
<line class="grid" x1="155.0" x2="931.3" y1="1312.0" y2="1312.0"/>
<line class="grid" x1="155.0" x2="931.3" y1="1245.0" y2="1245.0"/>
<line class="grid" x1="155.0" x2="931.3" y1="1178.0" y2="1178.0"/>
<line class="grid" x1="155.0" x2="931.3" y1="1111.0" y2="1111.0"/>
<line class="grid" x1="155.0" x2="931.3" y1="1044.0" y2="1044.0"/>
<line class="grid" x1="155.0" x2="931.3" y1="977.0" y2="977.0"/>
<line class="grid" x1="413.0" x2="413.0" y1="910.0" y2="1513.0"/>
<line class="grid" x1="671.6" x2="671.6" y1="910.0" y2="1513.0"/>
<rect x="157.7" y="951.9" width="251.9" height="52.9" fill="#92d050"/>
<rect x="157.7" y="1061.6" width="251.9" height="87.1" fill="#92d050"/>
<rect x="415.1" y="950.3" width="254.7" height="62.2" fill="#ffc000"/>
<rect x="415.1" y="1048.4" width="254.7" height="93.1" fill="#ffc000"/>
<rect x="675.4" y="935.0" width="254.9" height="15.8" fill="#7f7f7f"/>
<rect x="675.4" y="961.9" width="254.9" height="15.3" fill="#7f7f7f"/>
<rect x="675.4" y="993.5" width="254.9" height="15.8" fill="#7f7f7f"/>
<rect x="675.4" y="1046.8" width="254.9" height="95.0" fill="#7f7f7f"/>
<g class="l0" clip-path="url(#cpb)">
<path class="l0" d="M155.0,924.1l2.9,0l2.8,0l2.9,2l2.9,0l2.8,2l2.9,0l2.9,2l2.8,0l2.9,2l2.9,0l2.8,0l2.9,2l2.9,0l2.8,0l2.9,0l2.9,0l2.8,0l2.9,0l2.9,-2l2.8,-2l2.9,0l2.9,-2l2.8,0l2.9,-2l2.9,0l2.8,-2l2.9,0l2.9,0l2.8,-2l2.9,0l2.9,0l2.8,2l2.9,0l2.9,0l2.8,0l2.9,0l2.9,2l2.8,0l2.9,2l2.9,0l2.8,2l2.9,0l2.9,2l2.8,0l2.9,2l2.9,2l2.8,0l2.9,2l2.9,0l2.8,0l2.9,0l2.9,0l2.8,2.1l2.9,0l2.9,0l2.8,0l2.9,0l2.9,0l2.8,0l2.9,0l2.9,0l2.8,0l2.9,0l2.9,0l2.8,0l2.9,0l2.9,-2.1l2.8,0l2.9,-2l2.9,0l2.8,-2l2.9,0l2.9,-2l2.8,0l2.9,0l2.9,-2l2.8,0l2.9,0l2.9,-2l2.8,0l2.9,0l2.9,-2l2.8,0l2.9,0l2.9,-2l2.8,0l2.9,0l2.9,0l2.8,0l2.9,0"/>
<path class="l0" d="M155.0,948.2l2.9,0l2.8,0l2.9,0l2.9,0l2.8,0l2.9,-2l2.9,0l2.8,0l2.9,-2l2.9,0l2.8,0l2.9,0l2.9,0l2.8,0l2.9,0l2.9,-2l2.8,0l2.9,0l2.9,2l2.8,0l2.9,0l2.9,0l2.8,0l2.9,0l2.9,0l2.8,0l2.9,0l2.9,0l2.8,0l2.9,0l2.9,0l2.8,0l2.9,0l2.9,0l2.8,0l2.9,0l2.9,0l2.8,0l2.9,0l2.9,0l2.8,-2l2.9,0l2.9,0l2.8,0l2.9,0l2.9,0l2.8,0l2.9,0l2.9,0l2.8,0l2.9,-2l2.9,0l2.8,0l2.9,0l2.9,0l2.8,0l2.9,0l2.9,0l2.8,0l2.9,0l2.9,0l2.8,0l2.9,0l2.9,0l2.8,0l2.9,0l2.9,2l2.8,0l2.9,0l2.9,0l2.8,0l2.9,0l2.9,2l2.8,0l2.9,0l2.9,2l2.8,0l2.9,0l2.9,0l2.8,2l2.9,0l2.9,0l2.8,0l2.9,0l2.9,0l2.8,0l2.9,0l2.9,0l2.8,0l2.9,0"/>
<path class="l0" d="M155.0,1054.7l2.9,0l2.8,-2l2.9,-2l2.9,-2l2.8,-2l2.9,-4l2.9,-2.1l2.8,-2l2.9,-2l2.9,-4l2.8,-2l2.9,-2l2.9,-2l2.8,-2l2.9,0l2.9,0l2.8,0l2.9,0l2.9,0l2.8,0l2.9,0l2.9,2l2.8,0l2.9,0l2.9,0l2.8,0l2.9,0l2.9,0l2.8,0l2.9,0l2.9,0l2.8,0l2.9,0l2.9,0l2.8,0l2.9,0l2.9,0l2.8,0l2.9,0l2.9,0l2.8,0l2.9,-2l2.9,-2l2.8,0l2.9,0l2.9,-2l2.8,0l2.9,-2.1l2.9,-2l2.8,0l2.9,-2l2.9,0l2.8,-2l2.9,0l2.9,-2l2.8,0l2.9,0l2.9,0l2.8,0l2.9,0l2.9,0l2.8,0l2.9,0l2.9,0l2.8,2l2.9,2l2.9,0l2.8,2l2.9,2l2.9,0l2.8,2.1l2.9,2l2.9,2l2.8,4l2.9,2l2.9,2l2.8,2l2.9,2l2.9,2l2.8,4.1l2.9,2l2.9,2l2.8,2l2.9,2l2.9,0l2.8,2l2.9,0l2.9,2l2.8,0l2.9,0"/>
<path class="l0" d="M155.0,1167.3l2.9,2l2.8,0l2.9,0l2.9,0l2.8,2l2.9,4l2.9,2l2.8,2l2.9,2.1l2.9,0l2.8,0l2.9,0l2.9,0l2.8,0l2.9,-2.1l2.9,-2l2.8,-2l2.9,-2l2.9,-4l2.8,-2l2.9,-2l2.9,-4.1l2.8,-2l2.9,-2l2.9,-2l2.8,0l2.9,-2l2.9,0l2.8,0l2.9,0l2.9,0l2.8,0l2.9,0l2.9,2l2.8,0l2.9,2l2.9,0l2.8,2l2.9,2l2.9,2.1l2.8,2l2.9,2l2.9,4l2.8,4l2.9,2l2.9,4.1l2.8,4l2.9,4l2.9,2l2.8,4l2.9,4l2.9,6.1l2.8,6l2.9,2l2.9,2l2.8,0l2.9,2l2.9,2l2.8,0l2.9,0l2.9,2.1l2.8,0l2.9,4l2.9,2l2.8,2l2.9,2l2.9,6l2.8,4l2.9,2.1l2.9,4l2.8,4l2.9,4l2.9,2l2.8,4.1l2.9,0l2.9,2l2.8,2l2.9,2l2.9,0l2.8,0l2.9,2l2.9,0l2.8,0l2.9,0l2.9,0l2.8,0l2.9,0l2.9,0l2.8,0l2.9,0"/>
<path class="l0" d="M155.0,1167.3l2.9,2l2.8,0l2.9,0l2.9,2l2.8,0l2.9,4l2.9,2l2.8,2l2.9,4.1l2.9,4l2.8,10l2.9,10.1l2.9,8l2.8,8.1l2.9,14l2.9,12.1l2.8,16.1l2.9,16l2.9,12.1l2.8,18.1l2.9,22.1l2.9,18.1l2.8,24.1l2.9,14.1l2.9,18.1l2.8,28.1l2.9,16.1l2.9,16.1l2.8,24.1l2.9,20.1l2.9,-22.1l2.8,-18.1l2.9,-10l2.9,-22.2l2.8,-18l2.9,-18.1l2.9,-12.1l2.8,-12.1l2.9,-22.1l2.9,-14l2.8,-16.1l2.9,-10.1l2.9,-12l2.8,-18.1l2.9,-10.1l2.9,-16l2.8,-10.1l2.9,-12.1l2.9,-12l2.8,-10.1l2.9,-6l2.9,-6l2.8,-10.1l2.9,-8l2.9,-6l2.8,-4.1l2.9,-2l2.9,-2l2.8,-2l2.9,0l2.9,-2l2.8,-2l2.9,-2l2.9,-2l2.8,0l2.9,-2.1l2.9,-2l2.8,-2l2.9,-2l2.9,-2l2.8,0l2.9,0l2.9,-2l2.8,0l2.9,0l2.9,2l2.8,0l2.9,0l2.9,0l2.8,2l2.9,0l2.9,2l2.8,2l2.9,2l2.9,0l2.8,2.1l2.9,2l2.9,0l2.8,2l2.9,0"/>
<path class="l0" d="M155.0,1253.7l2.9,4l2.8,4.1l2.9,4l2.9,2l2.8,4l2.9,2l2.9,4l2.8,2l2.9,4.1l2.9,4l2.8,4l2.9,6l2.9,8.1l2.8,6l2.9,8l2.9,12.1l2.8,12.1l2.9,12l2.9,8.1l2.8,12l2.9,14.1l2.9,12l2.8,16.1l2.9,10.1l2.9,14l2.8,16.1l2.9,12.1l2.9,12l2.8,20.2l2.9,10l2.9,-12.1l2.8,-8l2.9,-8l2.9,-10.1l2.8,-10l2.9,-6.1l2.9,-4l2.8,-6l2.9,-14.1l2.9,-8l2.8,-8.1l2.9,-6l2.9,-8l2.8,-10.1l2.9,-6l2.9,-8.1l2.8,-6l2.9,-8l2.9,-8.1l2.8,-6l2.9,-8l2.9,-6.1l2.8,-4l2.9,-8l2.9,-4.1l2.8,-4l2.9,-6l2.9,-2l2.8,-2l2.9,0l2.9,-2l2.8,-2l2.9,-2l2.9,-2.1l2.8,-6l2.9,-6l2.9,-4l2.8,-8.1l2.9,-8l2.9,-4l2.8,-6.1l2.9,-6l2.9,-4l2.8,-14.1l2.9,-4l2.9,-8l2.8,-8.1l2.9,-6l2.9,-6.1l2.8,-6l2.9,-4l2.9,-4l2.8,-6l2.9,-2.1l2.9,-4l2.8,-2l2.9,-2l2.9,-2l2.8,0l2.9,-2"/>
<path class="l0" d="M155.0,1269.8l2.9,0l2.8,0l2.9,0l2.9,2l2.8,6l2.9,10.1l2.9,6l2.8,12.1l2.9,10l2.9,8.1l2.8,14l2.9,12.1l2.9,14.1l2.8,8l2.9,10.1l2.9,16l2.8,12.1l2.9,14.1l2.9,8l2.8,10l2.9,14.1l2.9,10.1l2.8,10l2.9,8.1l2.9,8l2.8,8l2.9,4.1l2.9,4l2.8,2l2.9,2l2.9,-2l2.8,-2l2.9,-2l2.9,-4l2.8,-4.1l2.9,-6l2.9,-4l2.8,-4l2.9,-6.1l2.9,-8l2.8,-8l2.9,-10.1l2.9,-10.1l2.8,-8l2.9,-8l2.9,-8.1l2.8,-8l2.9,-6l2.9,-10.1l2.8,-10l2.9,-12.1l2.9,-6l2.8,-4.1l2.9,-10l2.9,-4l2.8,-6l2.9,-10.1l2.9,-6l2.8,-2l2.9,0l2.9,0l2.8,0l2.9,0l2.9,0l2.8,0l2.9,-2.1l2.9,-2l2.8,0l2.9,-2l2.9,-2l2.8,0l2.9,-2l2.9,-2l2.8,-4l2.9,-2l2.9,-4l2.8,-4.1l2.9,-4l2.9,-4l2.8,-4l2.9,-4.1l2.9,-4l2.8,-4l2.9,-4l2.9,-4l2.8,-4l2.9,-2.1l2.9,-2l2.8,-2l2.9,-2"/>
<path class="l0" d="M155.0,1215.5l2.9,-2l2.8,-2l2.9,-2l2.9,-2l2.8,0l2.9,-2l2.9,0l2.8,0l2.9,-2l2.9,0l2.8,0l2.9,2l2.9,0l2.8,2l2.9,2l2.9,2l2.8,4l2.9,4l2.9,4.1l2.8,8l2.9,4l2.9,4l2.8,4.1l2.9,6l2.9,4l2.8,6l2.9,2.1l2.9,2l2.8,0l2.9,0l2.9,0l2.8,0l2.9,0l2.9,-2l2.8,-2.1l2.9,-2l2.9,-2l2.8,-2l2.9,-2l2.9,-2l2.8,-2l2.9,-2l2.9,-2l2.8,-2.1l2.9,0l2.9,0l2.8,2.1l2.9,2l2.9,2l2.8,2l2.9,2l2.9,2l2.8,4l2.9,4.1l2.9,2l2.8,6l2.9,4l2.9,2l2.8,2l2.9,0l2.9,0l2.8,0l2.9,-2l2.9,-2l2.8,0l2.9,-2l2.9,-2l2.8,-2l2.9,-2l2.9,-4l2.8,-4.1l2.9,-4l2.9,-4l2.8,-2l2.9,-4l2.9,-4.1l2.8,-2l2.9,-4l2.9,-2l2.8,-2l2.9,-2l2.9,-2l2.8,-2l2.9,-2l2.9,-2.1l2.8,-2l2.9,-2l2.9,0l2.8,0l2.9,0"/>
<path class="l0" d="M155.0,1215.5l2.9,0l2.8,2l2.9,0l2.9,2l2.8,0l2.9,2.1l2.9,2l2.8,2l2.9,2l2.9,2l2.8,2l2.9,2l2.9,4l2.8,2l2.9,2l2.9,2.1l2.8,2l2.9,4l2.9,2l2.8,2l2.9,2l2.9,2l2.8,2l2.9,2.1l2.9,0l2.8,2l2.9,0l2.9,0l2.8,0l2.9,0l2.9,0l2.8,0l2.9,0l2.9,-2l2.8,-2.1l2.9,-2l2.9,-2l2.8,-2l2.9,-2l2.9,-4l2.8,-2l2.9,-2l2.9,-2.1l2.8,-2l2.9,-2l2.9,-4l2.8,-4l2.9,-2l2.9,-2l2.8,-4l2.9,-2.1l2.9,-2l2.8,-2l2.9,-2l2.9,0l2.8,-2l2.9,0l2.9,-2l2.8,0l2.9,0l2.9,0l2.8,0l2.9,-2l2.9,0l2.8,0l2.9,-2l2.9,-2l2.8,0l2.9,-2.1l2.9,0l2.8,0l2.9,-2l2.9,0l2.8,-2l2.9,0l2.9,0l2.8,2l2.9,2l2.9,0l2.8,2.1l2.9,0l2.9,2l2.8,2l2.9,0l2.9,2l2.8,2l2.9,2l2.9,0l2.8,2l2.9,0"/>
</g>
<g class="l1" clip-path="url(#cpb)">
<path class="l1" d="M413.0,916.0l4.3,0l4.3,0l4.3,2l4.3,2l4.4,2.1l4.3,0l4.3,0l4.3,0l4.3,0l4.3,-2.1l4.3,0l4.3,-2l4.3,0l4.3,-2l4.3,-2l4.4,-2l4.3,0l4.3,-2l4.3,0l4.3,0l4.3,0l4.3,0l4.3,0l4.3,2l4.4,0l4.3,2l4.3,2l4.3,0l4.3,2l4.3,2l4.3,0l4.3,0l4.3,0l4.3,0l4.3,2.1l4.4,0l4.3,-2.1l4.3,0l4.3,0l4.3,0l4.3,0l4.3,2.1l4.3,0l4.3,0l4.4,0l4.3,2l4.3,2l4.3,0l4.3,0l4.3,0l4.3,-2l4.3,-2l4.3,-2.1l4.3,-2l4.4,0l4.3,-2l4.3,0l4.3,0l4.3,0l4.3,0"/>
<path class="l1" d="M413.0,930.1l4.3,0l4.3,0l4.3,0l4.3,-2l4.4,0l4.3,0l4.3,0l4.3,0l4.3,0l4.3,0l4.3,0l4.3,0l4.3,2l4.3,0l4.3,0l4.4,0l4.3,0l4.3,0l4.3,0l4.3,0l4.3,0l4.3,0l4.3,0l4.3,0l4.4,0l4.3,0l4.3,0l4.3,0l4.3,0l4.3,0l4.3,0l4.3,0l4.3,0l4.3,0l4.3,0l4.4,0l4.3,0l4.3,0l4.3,2l4.3,0l4.3,0l4.3,-2l4.3,0l4.3,0l4.4,0l4.3,-4l4.3,0l4.3,0l4.3,0l4.3,0l4.3,0l4.3,2l4.3,2l4.3,0l4.4,0l4.3,0l4.3,0l4.3,0l4.3,0l4.3,0"/>
<path class="l1" d="M413.0,946.2l4.3,0l4.3,0l4.3,0l4.3,0l4.4,0l4.3,0l4.3,0l4.3,0l4.3,0l4.3,0l4.3,0l4.3,0l4.3,0l4.3,0l4.3,0l4.4,0l4.3,0l4.3,0l4.3,0l4.3,0l4.3,0l4.3,0l4.3,0l4.3,0l4.4,0l4.3,0l4.3,0l4.3,0l4.3,0l4.3,0l4.3,0l4.3,0l4.3,0l4.3,0l4.3,0l4.4,0l4.3,0l4.3,0l4.3,0l4.3,0l4.3,0l4.3,0l4.3,0l4.3,0l4.4,0l4.3,0l4.3,0l4.3,0l4.3,0l4.3,0l4.3,0l4.3,0l4.3,0l4.3,0l4.4,0l4.3,0l4.3,0l4.3,0l4.3,0l4.3,0"/>
<path class="l1" d="M413.0,1020.5l4.3,0l4.3,0l4.3,0l4.3,0l4.4,0l4.3,0l4.3,-2.1l4.3,0l4.3,0l4.3,0l4.3,0l4.3,0l4.3,0l4.3,0l4.3,0l4.4,0l4.3,0l4.3,0l4.3,0l4.3,0l4.3,0l4.3,0l4.3,0l4.3,0l4.4,0l4.3,0l4.3,0l4.3,0l4.3,0l4.3,0l4.3,0l4.3,0l4.3,0l4.3,0l4.3,-2l4.4,0l4.3,0l4.3,0l4.3,0l4.3,0l4.3,0l4.3,0l4.3,0l4.3,0l4.4,0l4.3,0l4.3,2l4.3,0l4.3,0l4.3,0l4.3,0l4.3,2.1l4.3,0l4.3,0l4.4,0l4.3,0l4.3,0l4.3,0l4.3,0l4.3,0"/>
<path class="l1" d="M413.0,1044.7l4.3,0l4.3,0l4.3,-2l4.3,-2.1l4.4,-2l4.3,-2l4.3,-2l4.3,-2l4.3,-2l4.3,-2l4.3,-2l4.3,-2l4.3,-2l4.3,-2l4.3,0l4.4,-2.1l4.3,0l4.3,0l4.3,0l4.3,0l4.3,0l4.3,0l4.3,0l4.3,0l4.4,2.1l4.3,0l4.3,2l4.3,0l4.3,0l4.3,2l4.3,2l4.3,0l4.3,0l4.3,0l4.3,0l4.4,0l4.3,0l4.3,0l4.3,0l4.3,0l4.3,0l4.3,0l4.3,0l4.3,0l4.4,2l4.3,0l4.3,2l4.3,0l4.3,2l4.3,2l4.3,2l4.3,2l4.3,0l4.3,2l4.4,0l4.3,2.1l4.3,0l4.3,2l4.3,0l4.3,0"/>
<path class="l1" d="M413.0,1165.3l4.3,2l4.3,0l4.3,2l4.3,2l4.4,4l4.3,4l4.3,2.1l4.3,0l4.3,0l4.3,-2.1l4.3,-4l4.3,-4l4.3,-2l4.3,-4l4.3,-4.1l4.4,-2l4.3,-2l4.3,-2l4.3,0l4.3,-2l4.3,0l4.3,0l4.3,2l4.3,2l4.4,2l4.3,2l4.3,2.1l4.3,4l4.3,4l4.3,4l4.3,6.1l4.3,4l4.3,6l4.3,4l4.3,0l4.4,-12l4.3,-8.1l4.3,-4l4.3,-4l4.3,-2l4.3,-2l4.3,0l4.3,-2.1l4.3,-4l4.4,-2l4.3,-4l4.3,-2l4.3,0l4.3,0l4.3,0l4.3,0l4.3,2l4.3,2l4.3,2l4.4,2l4.3,4l4.3,2.1l4.3,2l4.3,0l4.3,0"/>
<path class="l1" d="M413.0,1167.3l4.3,0l4.3,0l4.3,4l4.3,2l4.4,2l4.3,4l4.3,8.1l4.3,12l4.3,10.1l4.3,22.1l4.3,12.1l4.3,30.1l4.3,16.1l4.3,34.2l4.3,30.1l4.4,26.1l4.3,34.2l4.3,26.1l4.3,42.2l4.3,30.2l4.3,-24.1l4.3,-32.2l4.3,-16.1l4.3,-32.1l4.4,-24.1l4.3,-20.1l4.3,-26.2l4.3,-18.1l4.3,-22.1l4.3,-14l4.3,-32.2l4.3,-16.1l4.3,-10l4.3,-18.1l4.3,-6.1l4.4,6.1l4.3,4l4.3,4l4.3,2l4.3,2l4.3,2.1l4.3,2l4.3,2l4.3,6l4.4,4l4.3,6l4.3,6.1l4.3,2l4.3,6l4.3,4l4.3,2.1l4.3,4l4.3,0l4.3,2l4.4,2l4.3,0l4.3,0l4.3,0l4.3,-2l4.3,0"/>
<path class="l1" d="M413.0,1249.7l4.3,2l4.3,2l4.3,6l4.3,6.1l4.4,8l4.3,4l4.3,8.1l4.3,10l4.3,10.1l4.3,12l4.3,12.1l4.3,18.1l4.3,14l4.3,24.2l4.3,20.1l4.4,16.1l4.3,24.1l4.3,18.1l4.3,24.1l4.3,24.1l4.3,-12.1l4.3,-12l4.3,-10.1l4.3,-16l4.4,-14.1l4.3,-10.1l4.3,-14l4.3,-8.1l4.3,-16.1l4.3,-6l4.3,-16.1l4.3,-10l4.3,-10.1l4.3,-14l4.3,-8.1l4.4,-8l4.3,-8.1l4.3,-8l4.3,-4l4.3,0l4.3,-2l4.3,-2l4.3,-4.1l4.3,-8l4.4,-10.1l4.3,-8l4.3,-14.1l4.3,-10l4.3,-12.1l4.3,-6l4.3,-12.1l4.3,-10l4.3,-8.1l4.3,-12l4.4,-4l4.3,-6.1l4.3,-6l4.3,-4l4.3,-2l4.3,0"/>
<path class="l1" d="M413.0,1267.8l4.3,0l4.3,2l4.3,0l4.3,2l4.4,6l4.3,8.1l4.3,12l4.3,18.1l4.3,14.1l4.3,18.1l4.3,16.1l4.3,18.1l4.3,16l4.3,26.2l4.3,20.1l4.4,16l4.3,20.1l4.3,14.1l4.3,12.1l4.3,6l4.3,-4l4.3,-4l4.3,-10.1l4.3,-14.1l4.4,-12l4.3,-12.1l4.3,-16.1l4.3,-12l4.3,-16.1l4.3,-8l4.3,-20.1l4.3,-12.1l4.3,-10.1l4.3,-10l4.3,-10l4.4,-12.1l4.3,-8.1l4.3,-2l4.3,0l4.3,-2l4.3,0l4.3,0l4.3,-2l4.3,0l4.4,-2l4.3,-4l4.3,-4l4.3,-6.1l4.3,-4l4.3,-6l4.3,-6l4.3,-4.1l4.3,-6l4.3,-8l4.4,-4l4.3,-4.1l4.3,-4l4.3,-2l4.3,-2l4.3,-2"/>
<path class="l1" d="M413.0,1181.3l4.3,0l4.3,4l4.3,6l4.3,6l4.4,10.1l4.3,6l4.3,12.1l4.3,12l4.3,12.1l4.3,16.1l4.3,8l4.3,18.1l4.3,10.1l4.3,14l4.3,14.1l4.4,10l4.3,10.1l4.3,8l4.3,4l4.3,2.1l4.3,0l4.3,-2.1l4.3,-2l4.3,-8l4.4,-4l4.3,-6l4.3,-6.1l4.3,-6l4.3,-10.1l4.3,-6l4.3,-8l4.3,-8.1l4.3,-6l4.3,-6l4.3,-6.1l4.4,-4l4.3,-4l4.3,-2l4.3,-2l4.3,0l4.3,-2l4.3,-2l4.3,-4.1l4.3,-4l4.4,-6l4.3,-6l4.3,-12.1l4.3,-6l4.3,-4l4.3,-6.1l4.3,-6l4.3,-6l4.3,-6.1l4.3,-6l4.4,-4l4.3,-2l4.3,0l4.3,-2l4.3,-2l4.3,0"/>
<path class="l1" d="M413.0,1181.3l4.3,0l4.3,0l4.3,0l4.3,2l4.4,0l4.3,0l4.3,2l4.3,14l4.3,10.1l4.3,10l4.3,10.1l4.3,18.1l4.3,10l4.3,22.1l4.3,20.1l4.4,14.1l4.3,22.1l4.3,12.1l4.3,14l4.3,2.1l4.3,-2.1l4.3,-8l4.3,-6l4.3,-14.1l4.4,-12.1l4.3,-10l4.3,-14.1l4.3,-10l4.3,-14.1l4.3,-10l4.3,-14.1l4.3,-12.1l4.3,-8l4.3,-6l4.3,-4.1l4.4,-2l4.3,-4l4.3,-2l4.3,0l4.3,0l4.3,0l4.3,0l4.3,-2l4.3,0l4.4,-2l4.3,-2l4.3,-2l4.3,-2.1l4.3,-2l4.3,-2l4.3,-2l4.3,-2l4.3,-2l4.3,-2l4.4,-2l4.3,-2l4.3,0l4.3,-2l4.3,-2l4.3,0"/>
</g>
<g class="l2" clip-path="url(#cpb)">
<path class="l2" d="M671.6,922.1l2.2,0l2.1,0l2.2,0l2.2,0l2.1,0l2.2,0l2.1,0l2.2,2l2.2,0l2.1,0l2.2,0l2.2,0l2.1,0l2.2,0l2.2,-2l2.1,0l2.2,0l2.2,0l2.1,0l2.2,0l2.1,0l2.2,0l2.2,0l2.1,0l2.2,0l2.2,-2.1l2.1,0l2.2,0l2.2,0l2.1,0l2.2,0l2.2,0l2.1,0l2.2,0l2.1,0l2.2,0l2.2,0l2.1,0l2.2,0l2.2,0l2.1,0l2.2,0l2.2,0l2.1,0l2.2,0l2.2,0l2.1,0l2.2,0l2.1,0l2.2,0l2.2,0l2.1,0l2.2,0l2.2,0l2.1,0l2.2,0l2.2,0l2.1,0l2.2,0l2.1,0l2.2,0l2.2,2.1l2.1,0l2.2,0l2.2,0l2.1,0l2.2,0l2.2,0l2.1,0l2.2,0l2.2,0l2.1,0l2.2,0l2.1,0l2.2,0l2.2,0l2.1,0l2.2,0l2.2,0l2.1,0l2.2,0l2.2,0l2.1,0l2.2,0l2.2,0l2.1,0l2.2,0l2.1,0l2.2,0l2.2,0l2.1,0l2.2,0l2.2,0l2.1,0l2.2,0l2.2,0l2.1,0l2.2,2l2.2,0l2.1,0l2.2,0l2.1,0l2.2,0l2.2,0l2.1,0l2.2,0l2.2,0l2.1,0l2.2,0l2.2,0l2.1,0l2.2,-2l2.2,0l2.1,0l2.2,0l2.1,0l2.2,0l2.2,0l2.1,0l2.2,0"/>
<path class="l2" d="M671.6,922.1l2.2,2l2.1,0l2.2,0l2.2,0l2.1,0l2.2,2l2.1,0l2.2,0l2.2,0l2.1,0l2.2,0l2.2,0l2.1,0l2.2,0l2.2,0l2.1,0l2.2,0l2.2,0l2.1,0l2.2,0l2.1,0l2.2,0l2.2,0l2.1,0l2.2,0l2.2,-2l2.1,0l2.2,0l2.2,0l2.1,-2l2.2,0l2.2,0l2.1,-2.1l2.2,0l2.1,0l2.2,0l2.2,0l2.1,0l2.2,0l2.2,0l2.1,0l2.2,0l2.2,0l2.1,0l2.2,0l2.2,0l2.1,0l2.2,2.1l2.1,0l2.2,0l2.2,2l2.1,0l2.2,0l2.2,0l2.1,0l2.2,0l2.2,2l2.1,0l2.2,0l2.1,0l2.2,0l2.2,2l2.1,0l2.2,0l2.2,0l2.1,0l2.2,0l2.2,2l2.1,0l2.2,0l2.2,0l2.1,0l2.2,0l2.1,0l2.2,0l2.2,0l2.1,0l2.2,0l2.2,0l2.1,0l2.2,0l2.2,0l2.1,0l2.2,0l2.2,0l2.1,0l2.2,0l2.1,0l2.2,0l2.2,0l2.1,0l2.2,-2l2.2,0l2.1,0l2.2,-2l2.2,0l2.1,0l2.2,-2l2.2,0l2.1,0l2.2,0l2.1,0l2.2,0l2.2,0l2.1,0l2.2,0l2.2,0l2.1,0l2.2,0l2.2,0l2.1,0l2.2,0l2.2,0l2.1,0l2.2,0l2.1,-2l2.2,0l2.2,0l2.1,0l2.2,0"/>
<path class="l2" d="M671.6,956.2l2.2,0l2.1,0l2.2,0l2.2,0l2.1,0l2.2,0l2.1,0l2.2,0l2.2,0l2.1,0l2.2,0l2.2,0l2.1,0l2.2,0l2.2,0l2.1,0l2.2,0l2.2,0l2.1,0l2.2,0l2.1,0l2.2,0l2.2,0l2.1,0l2.2,0l2.2,0l2.1,0l2.2,0l2.2,0l2.1,0l2.2,0l2.2,0l2.1,0l2.2,0l2.1,0l2.2,0l2.2,0l2.1,0l2.2,0l2.2,0l2.1,0l2.2,0l2.2,0l2.1,0l2.2,0l2.2,0l2.1,0l2.2,0l2.1,0l2.2,0l2.2,0l2.1,0l2.2,0l2.2,0l2.1,0l2.2,0l2.2,0l2.1,0l2.2,0l2.1,0l2.2,0l2.2,0l2.1,0l2.2,0l2.2,0l2.1,0l2.2,0l2.2,0l2.1,0l2.2,0l2.2,0l2.1,0l2.2,0l2.1,0l2.2,0l2.2,0l2.1,0l2.2,0l2.2,0l2.1,0l2.2,0l2.2,0l2.1,0l2.2,0l2.2,0l2.1,0l2.2,0l2.1,0l2.2,0l2.2,0l2.1,0l2.2,0l2.2,0l2.1,0l2.2,0l2.2,0l2.1,0l2.2,0l2.2,0l2.1,0l2.2,0l2.1,0l2.2,0l2.2,0l2.1,0l2.2,0l2.2,0l2.1,0l2.2,0l2.2,0l2.1,0l2.2,0l2.2,0l2.1,0l2.2,0l2.1,0l2.2,0l2.2,0l2.1,0l2.2,0"/>
<path class="l2" d="M671.6,986.4l2.2,0l2.1,0l2.2,0l2.2,0l2.1,0l2.2,0l2.1,0l2.2,0l2.2,-2l2.1,0l2.2,0l2.2,0l2.1,0l2.2,0l2.2,-2l2.1,0l2.2,0l2.2,0l2.1,0l2.2,0l2.1,0l2.2,0l2.2,0l2.1,0l2.2,0l2.2,0l2.1,0l2.2,0l2.2,0l2.1,0l2.2,0l2.2,0l2.1,0l2.2,0l2.1,0l2.2,0l2.2,0l2.1,0l2.2,0l2.2,0l2.1,0l2.2,0l2.2,0l2.1,0l2.2,0l2.2,0l2.1,0l2.2,0l2.1,0l2.2,0l2.2,0l2.1,0l2.2,0l2.2,0l2.1,0l2.2,0l2.2,0l2.1,0l2.2,0l2.1,0l2.2,0l2.2,0l2.1,-2l2.2,0l2.2,0l2.1,0l2.2,0l2.2,0l2.1,0l2.2,0l2.2,0l2.1,-2.1l2.2,0l2.1,0l2.2,0l2.2,0l2.1,0l2.2,0l2.2,0l2.1,0l2.2,0l2.2,0l2.1,0l2.2,0l2.2,0l2.1,0l2.2,0l2.1,0l2.2,2.1l2.2,2l2.1,0l2.2,0l2.2,0l2.1,0l2.2,0l2.2,0l2.1,0l2.2,0l2.2,0l2.1,0l2.2,0l2.1,2l2.2,0l2.2,0l2.1,0l2.2,0l2.2,0l2.1,0l2.2,0l2.2,2l2.1,0l2.2,0l2.2,0l2.1,0l2.2,0l2.1,0l2.2,0l2.2,0l2.1,0l2.2,0"/>
<path class="l2" d="M671.6,1042.7l2.2,0l2.1,-2.1l2.2,0l2.2,0l2.1,0l2.2,0l2.1,0l2.2,-2l2.2,0l2.1,-2l2.2,0l2.2,0l2.1,-2l2.2,0l2.2,0l2.1,-2l2.2,-2l2.2,0l2.1,-2l2.2,0l2.1,-2l2.2,0l2.2,-2l2.1,0l2.2,-2l2.2,0l2.1,-2l2.2,0l2.2,0l2.1,-2.1l2.2,0l2.2,0l2.1,-2l2.2,0l2.1,0l2.2,0l2.2,0l2.1,0l2.2,0l2.2,0l2.1,0l2.2,0l2.2,0l2.1,0l2.2,0l2.2,0l2.1,0l2.2,0l2.1,0l2.2,2l2.2,0l2.1,2.1l2.2,0l2.2,0l2.1,0l2.2,2l2.2,0l2.1,0l2.2,2l2.1,0l2.2,0l2.2,2l2.1,0l2.2,2l2.2,0l2.1,0l2.2,2l2.2,0l2.1,0l2.2,0l2.2,2l2.1,0l2.2,0l2.1,0l2.2,0l2.2,0l2.1,0l2.2,0l2.2,0l2.1,0l2.2,0l2.2,0l2.1,0l2.2,0l2.2,0l2.1,0l2.2,0l2.1,0l2.2,0l2.2,0l2.1,2l2.2,2l2.2,0l2.1,0l2.2,0l2.2,0l2.1,0l2.2,0l2.2,0l2.1,0l2.2,0l2.1,0l2.2,0l2.2,0l2.1,2l2.2,2l2.2,0l2.1,0l2.2,0l2.2,0l2.1,0l2.2,0l2.2,0l2.1,0l2.2,0l2.1,0l2.2,0l2.2,0l2.1,0l2.2,0"/>
<path class="l2" d="M671.6,1032.6l2.2,0l2.1,0l2.2,0l2.2,0l2.1,0l2.2,0l2.1,0l2.2,0l2.2,-2l2.1,0l2.2,0l2.2,0l2.1,0l2.2,0l2.2,0l2.1,0l2.2,0l2.2,0l2.1,0l2.2,0l2.1,0l2.2,0l2.2,0l2.1,0l2.2,0l2.2,0l2.1,0l2.2,0l2.2,0l2.1,0l2.2,0l2.2,0l2.1,0l2.2,0l2.1,0l2.2,0l2.2,0l2.1,0l2.2,0l2.2,0l2.1,0l2.2,0l2.2,0l2.1,0l2.2,0l2.2,0l2.1,0l2.2,0l2.1,0l2.2,0l2.2,0l2.1,0l2.2,0l2.2,0l2.1,0l2.2,0l2.2,0l2.1,0l2.2,0l2.1,0l2.2,0l2.2,0l2.1,0l2.2,0l2.2,0l2.1,0l2.2,0l2.2,0l2.1,0l2.2,0l2.2,0l2.1,0l2.2,0l2.1,0l2.2,0l2.2,0l2.1,0l2.2,0l2.2,0l2.1,0l2.2,0l2.2,0l2.1,0l2.2,0l2.2,0l2.1,0l2.2,0l2.1,0l2.2,0l2.2,0l2.1,0l2.2,0l2.2,0l2.1,0l2.2,0l2.2,0l2.1,0l2.2,0l2.2,0l2.1,0l2.2,0l2.1,0l2.2,0l2.2,0l2.1,0l2.2,0l2.2,0l2.1,0l2.2,0l2.2,2l2.1,0l2.2,0l2.2,0l2.1,0l2.2,0l2.1,0l2.2,0l2.2,0l2.1,0l2.2,0"/>
<path class="l2" d="M671.6,1167.3l3.5,0l3.4,0l3.5,0l3.5,2l3.4,2l3.5,2l3.4,2l3.5,4l3.5,0l3.4,0l3.5,0l3.5,0l3.4,-2l3.5,-2l3.4,-4l3.5,-2l3.5,-4l3.4,-2l3.5,-2.1l3.5,-4l3.4,0l3.5,-2l3.4,0l3.5,-2l3.5,0l3.4,0l3.5,0l3.5,0l3.4,2l3.5,2l3.4,2l3.5,2l3.5,2.1l3.4,2l3.5,4l3.5,2l3.4,4l3.5,2l3.4,4.1l3.5,4l3.5,4l3.4,4l3.5,4l3.5,6.1l3.4,4l3.5,4l3.4,4l3.5,4l3.5,0l3.4,0l3.5,2.1l3.5,2l3.4,0l3.5,4l3.4,4l3.5,4l3.5,4l3.4,6.1l3.5,4l3.5,4l3.4,2l3.5,4l3.4,2.1l3.5,2l3.5,2l3.4,2l3.5,0l3.5,2l3.4,0l3.5,0l3.4,0l3.5,0l3.5,-2l3.4,0l3.5,0"/>
<path class="l2" d="M671.6,1165.3l3.5,2l3.4,0l3.5,0l3.5,2l3.4,0l3.5,4l3.4,4l3.5,6.1l3.5,6l3.4,8l3.5,8.1l3.5,10l3.4,10.1l3.5,12l3.4,12.1l3.5,38.2l3.5,20.1l3.4,26.1l3.5,20.1l3.5,20.1l3.4,30.2l3.5,24.1l3.4,32.1l3.5,40.2l3.5,12.1l3.4,-20.1l3.5,-22.1l3.5,-26.1l3.4,-14.1l3.5,-18.1l3.4,-24.1l3.5,-22.1l3.5,-14.1l3.4,-18.1l3.5,-16.1l3.5,-16l3.4,-16.1l3.5,-14.1l3.4,-22.1l3.5,-16.1l3.5,-10l3.4,-12.1l3.5,-12.1l3.5,-10l3.4,-8l3.5,-8.1l3.4,-6l3.5,-2l3.5,-2l3.4,-2.1l3.5,0l3.5,-2l3.4,0l3.5,-2l3.4,-2l3.5,-2l3.5,-2l3.4,-2l3.5,-2l3.5,-2l3.4,0l3.5,0l3.4,2l3.5,0l3.5,2l3.4,2l3.5,0l3.5,4l3.4,2l3.5,2l3.4,2l3.5,2.1l3.5,2l3.4,2l3.5,0"/>
<path class="l2" d="M671.6,1247.7l3.5,0l3.4,2l3.5,4l3.5,6l3.4,4.1l3.5,4l3.4,6l3.5,6l3.5,8.1l3.4,6l3.5,8.1l3.5,12l3.4,8l3.5,8.1l3.4,14.1l3.5,16l3.5,14.1l3.4,18.1l3.5,14.1l3.5,18.1l3.4,16l3.5,16.1l3.4,18.1l3.5,20.1l3.5,18.1l3.4,-12.1l3.5,-12l3.5,-10.1l3.4,-8l3.5,-4l3.4,-14.1l3.5,-6l3.5,-12.1l3.4,-12l3.5,-12.1l3.5,-6l3.4,-6.1l3.5,-12l3.4,-10.1l3.5,-10l3.5,-6.1l3.4,-8l3.5,-10l3.5,-10.1l3.4,-4l3.5,-6.1l3.4,-6l3.5,-4l3.5,-2l3.4,-2l3.5,-2l3.5,0l3.4,-2l3.5,-4.1l3.4,-10l3.5,-8.1l3.5,-6l3.4,-8l3.5,-10.1l3.5,-10l3.4,-10.1l3.5,-10l3.4,-8.1l3.5,-10l3.5,-6l3.4,-8.1l3.5,-4l3.5,-4l3.4,-6l3.5,-6.1l3.4,-4l3.5,-2l3.5,-2l3.4,0l3.5,-2"/>
<path class="l2" d="M671.6,1267.8l3.5,2l3.4,0l3.5,0l3.5,2l3.4,0l3.5,2l3.4,4l3.5,6.1l3.5,6l3.4,10l3.5,8.1l3.5,22.1l3.4,10l3.5,12.1l3.4,14.1l3.5,20.1l3.5,14l3.4,20.1l3.5,12.1l3.5,20.1l3.4,14.1l3.5,14l3.4,16.1l3.5,10.1l3.5,6l3.4,-2l3.5,-6l3.5,-8.1l3.4,-10l3.5,-8.1l3.4,-12l3.5,-12.1l3.5,-10l3.4,-18.1l3.5,-12.1l3.5,-10l3.4,-6.1l3.5,-14l3.4,-10.1l3.5,-8l3.5,-8.1l3.4,-8l3.5,-8l3.5,-10.1l3.4,-4l3.5,-4l3.4,-4.1l3.5,-2l3.5,0l3.4,0l3.5,0l3.5,0l3.4,-2l3.5,-4l3.4,0l3.5,0l3.5,-4l3.4,-4l3.5,-4.1l3.5,-4l3.4,-6l3.5,-4l3.4,-2l3.5,-4.1l3.5,-4l3.4,-4l3.5,-4l3.5,-4l3.4,-4.1l3.5,-4l3.4,-2l3.5,-2l3.5,-2l3.4,-2l3.5,-2"/>
<path class="l2" d="M671.6,1175.3l3.5,2l3.4,4.1l3.5,4l3.5,4l3.4,4l3.5,6l3.4,6.1l3.5,10l3.5,6.1l3.4,18l3.5,8.1l3.5,18.1l3.4,8l3.5,16.1l3.4,8l3.5,26.2l3.5,8l3.4,16.1l3.5,16.1l3.5,14l3.4,10.1l3.5,10l3.4,6.1l3.5,4l3.5,2l3.4,-2l3.5,-2l3.5,-4.1l3.4,-4l3.5,-4l3.4,-6l3.5,-8.1l3.5,-8l3.4,-6l3.5,-8.1l3.5,-6l3.4,-4l3.5,-8.1l3.4,-8l3.5,-8l3.5,-6.1l3.4,-8l3.5,-8l3.5,-2.1l3.4,-4l3.5,-4l3.4,-2l3.5,-2l3.5,0l3.4,0l3.5,-2l3.5,-2l3.4,-4.1l3.5,-4l3.4,-6l3.5,-6l3.5,-4.1l3.4,-4l3.5,-6l3.5,-8.1l3.4,-8l3.5,-10l3.4,-6.1l3.5,-6l3.5,-6l3.4,-8.1l3.5,-8l3.5,-4l3.4,-4l3.5,-2.1l3.4,-2l3.5,-2l3.5,0l3.4,0l3.5,0"/>
<path class="l2" d="M671.6,1175.3l3.5,0l3.4,0l3.5,2l3.5,2l3.4,0l3.5,2.1l3.4,2l3.5,4l3.5,8l3.4,8.1l3.5,10l3.5,12.1l3.4,14l3.5,12.1l3.4,16.1l3.5,10l3.5,10.1l3.4,20.1l3.5,14l3.5,22.2l3.4,16l3.5,16.1l3.4,20.1l3.5,12.1l3.5,2l3.4,-4l3.5,-4.1l3.5,-14l3.4,-8.1l3.5,-10l3.4,-16.1l3.5,-10l3.5,-14.1l3.4,-12.1l3.5,-20.1l3.5,-8l3.4,-12.1l3.5,-14l3.4,-14.1l3.5,-16.1l3.5,-10l3.4,-12.1l3.5,-8l3.5,0l3.4,-4.1l3.5,-4l3.4,-2l3.5,-2l3.5,0l3.4,-2l3.5,0l3.5,0l3.4,-2l3.5,0l3.4,-2l3.5,0l3.5,0l3.4,0l3.5,0l3.5,-2l3.4,0l3.5,0l3.4,-2l3.5,0l3.5,0l3.4,-2.1l3.5,0l3.5,-2l3.4,0l3.5,0l3.4,-2l3.5,0l3.5,0l3.4,0l3.5,0"/>
</g>
<rect class="box" x="155.0" y="910.0" width="776.3" height="603.0"/>
<path d="M155.0,1446.0h6M931.3,1446.0h-6" stroke="#777" stroke-width="1" fill="none"/>
<path d="M155.0,1379.0h6M931.3,1379.0h-6" stroke="#777" stroke-width="1" fill="none"/>
<path d="M155.0,1312.0h6M931.3,1312.0h-6" stroke="#777" stroke-width="1" fill="none"/>
<path d="M155.0,1245.0h6M931.3,1245.0h-6" stroke="#777" stroke-width="1" fill="none"/>
<path d="M155.0,1178.0h6M931.3,1178.0h-6" stroke="#777" stroke-width="1" fill="none"/>
<path d="M155.0,1111.0h6M931.3,1111.0h-6" stroke="#777" stroke-width="1" fill="none"/>
<path d="M155.0,1044.0h6M931.3,1044.0h-6" stroke="#777" stroke-width="1" fill="none"/>
<path d="M155.0,977.0h6M931.3,977.0h-6" stroke="#777" stroke-width="1" fill="none"/>
<text class="tkb" text-anchor="end" x="146.6" y="1522.9">0</text>
<text class="tkb" text-anchor="end" x="146.6" y="1455.9">1</text>
<text class="tkb" text-anchor="end" x="146.6" y="1388.9">2</text>
<text class="tkb" text-anchor="end" x="146.6" y="1321.9">3</text>
<text class="tkb" text-anchor="end" x="146.6" y="1254.9">4</text>
<text class="tkb" text-anchor="end" x="146.6" y="1187.9">5</text>
<text class="tkb" text-anchor="end" x="146.6" y="1120.9">6</text>
<text class="tkb" text-anchor="end" x="146.6" y="1053.9">7</text>
<text class="tkb" text-anchor="end" x="146.6" y="986.9">8</text>
<text class="tkb" text-anchor="end" x="146.6" y="919.9">9</text>
<text class="tkb" text-anchor="middle" transform="translate(156.5,1550.0) scale(1.11,1)">M</text>
<text class="tkb" text-anchor="middle" transform="translate(241.9,1550.0) scale(0.83,1)">Γ</text>
<text class="tkb" text-anchor="middle" transform="translate(324.6,1550.0) scale(0.85,1)">X</text>
<text class="tkb" text-anchor="middle" transform="translate(412.3,1550.0) scale(1.11,1)">M</text>
<text class="tkb" text-anchor="middle" transform="translate(498.2,1550.0) scale(0.83,1)">Γ</text>
<text class="tkb" text-anchor="middle" transform="translate(579.1,1550.0) scale(0.85,1)">X</text>
<text class="tkb" text-anchor="middle" transform="translate(666.3,1550.0) scale(1.11,1)">M</text>
<text class="tkb" text-anchor="middle" transform="translate(760.0,1550.0) scale(0.83,1)">Γ</text>
<text class="tkb" text-anchor="middle" transform="translate(841.1,1550.0) scale(0.85,1)">X</text>
<text class="tkb" text-anchor="middle" transform="translate(936.2,1550.0) scale(1.11,1)">M</text>
<text class="ttb" text-anchor="middle" x="285.0" y="890.5">H/a = 1</text>
<text class="ttb" text-anchor="middle" x="558.0" y="890.5">H/a = 2</text>
<text class="ttb" text-anchor="middle" x="820.0" y="890.5">H/a = 3</text>
<text class="tkb" style="font-size:28.8px" text-anchor="middle" x="561.4" y="1583.2">Reduced wavevector k*</text>
<text class="tkb" text-anchor="middle" transform="translate(113.2,1205.8) rotate(-90)">Frequency [Hz]</text>
<text class="nm" text-anchor="middle" transform="translate(42.3,1192.5) rotate(-90)">Hollow cylinder</text>
<text class="tg" text-anchor="middle" transform="translate(565.0,1628.0) scale(1.1,1)">(b)</text>
<path class="arr" style="stroke-width:3" d="M245.4,1087.9L245.4,1142.6M231.8,1119.8L245.4,1143.5L259.0,1119.8"/>
<text class="an" style="font-size:29.8px" x="254.4" y="1102.7" textLength="64.5" lengthAdjust="spacingAndGlyphs">MS1</text>
<path class="arr" style="stroke-width:3" d="M506.8,1010.1L506.8,955.2M493.3,978.5L506.8,954.3L520.3,978.5"/>
<text class="an" style="font-size:29.8px" x="519.9" y="1007.1" textLength="67.4" lengthAdjust="spacingAndGlyphs">MS2</text>
</g>
<g id="panel-c">
<line class="grid" x1="141.2" x2="928.2" y1="2250.0" y2="2250.0"/>
<line class="grid" x1="141.2" x2="928.2" y1="2146.7" y2="2146.7"/>
<line class="grid" x1="141.2" x2="928.2" y1="2043.4" y2="2043.4"/>
<line class="grid" x1="141.2" x2="928.2" y1="1940.1" y2="1940.1"/>
<line class="grid" x1="141.2" x2="928.2" y1="1836.8" y2="1836.8"/>
<line class="grid" x1="401.3" x2="401.3" y1="1733.5" y2="2353.3"/>
<line class="grid" x1="664.6" x2="664.6" y1="1733.5" y2="2353.3"/>
<rect x="144.4" y="1945.6" width="252.5" height="21.4" fill="#92d050"/>
<rect x="404.0" y="1940.6" width="258.0" height="11.0" fill="#ffc000"/>
<rect x="664.4" y="1937.5" width="257.9" height="5.8" fill="#7f7f7f"/>
<g class="l0" clip-path="url(#cpc)">
<path class="l0" d="M168.3,1722.8l5.4,37.2l5.4,35.7l5.4,32.7l5.5,28l5.4,18.3l5.4,16.6l5.4,17.4l5.4,13.7l5.5,9.5l5.4,6.5l5.4,3.3l5.4,-1.7l5.4,-5.7l5.5,-7l5.4,-6.7l5.4,-9.5l5.4,-13.1l5.4,-15.6l5.4,-19.2l5.5,-16.3l5.4,-16l5.4,-20.9l5.4,-21.4l5.4,-18l5.5,-11.4l5.4,-11.2l5.4,-3.6l5.4,0l5.4,0l5.5,-1.1l5.4,-2.6l5.4,-4.8l5.4,-6.9"/>
<path class="l0" d="M141.2,2210.2l5.4,0l5.4,0.1l5.5,2.2l5.4,1.5l5.4,1.5l5.4,4.1l5.4,6.4l5.4,10l5.5,15.2l5.4,15l5.4,17.4l5.4,21.9l5.4,20.7l5.5,14.3l5.4,7.5l5.4,5.4l5.4,-4.1l5.4,-5.3l5.5,-11.1l5.4,-9l5.4,-12.6l5.4,-15.8l5.4,-15.1l5.4,-14.9l5.5,-11.1l5.4,-9.9l5.4,-9.8l5.4,-7.2l5.4,-6l5.5,-2.1l5.4,-2l5.4,0l5.4,0l5.4,0l5.5,-1l5.4,-0.4l5.4,-0.2l5.4,-1.3l5.4,-0.4l5.5,0l5.4,-0.4l5.4,-1.5l5.4,0l5.4,-0.1l5.4,-1.9l5.5,0l5.4,0l5.4,0"/>
<path class="l0" d="M141.2,2132.5l5.4,0l5.4,0.1l5.5,1.6l5.4,0.5l5.4,1l5.4,1.5l5.4,3l5.4,6.5l5.5,12.6l5.4,16.1l5.4,22.2l5.4,29.5l5.4,31.6l5.5,31.7l5.4,26.9l5.4,36l5.4,-27.9l5.4,-25.4l5.5,-24.2l5.4,-19.1l5.4,-22.8l5.4,-22.4l5.4,-20.4l5.4,-19l5.5,-12.2l5.4,-8.7l5.4,-6.3l5.4,-2.8l5.4,-1.4l5.5,-0.8l5.4,0l5.4,0l5.4,0l5.4,0l5.5,0l5.4,-2.1l5.4,-0.8l5.4,-0.9l5.4,-0.3l5.5,0l5.4,-0.3l5.4,-1.4l5.4,0l5.4,0l5.4,0l5.5,-1.6l5.4,0l5.4,0"/>
<path class="l0" d="M141.2,2027.0l5.4,-1.7l5.4,-4l5.5,-4.6l5.4,-4.8l5.4,-2.7l5.4,-1.7l5.4,1.6l5.4,9l5.5,17.8l5.4,21.4l5.4,28.9l5.4,43.5l5.4,54.4l5.5,54.6l5.4,50.7l5.4,63.9l5.4,-49.2l5.4,-46.2l5.5,-42.1l5.4,-31.1l5.4,-35.6l5.4,-33.4l5.4,-30.5l5.4,-27l5.5,-17.8l5.4,-15.5l5.4,-16.5l5.4,-12.2l5.4,-9.5l5.5,-6.4l5.4,-4.3l5.4,-1.4l5.4,1.5l5.4,3.7l5.5,2.8l5.4,5.8l5.4,6.2l5.4,5.3l5.4,5.5l5.5,4.6l5.4,3.7l5.4,3.5l5.4,3.2l5.4,1.8l5.4,1.1l5.5,1.9l5.4,1.6l5.4,0.6"/>
<path class="l0" d="M141.2,2027.0l5.4,0.5l5.4,6.1l5.5,9.9l5.4,11.8l5.4,10.3l5.4,17.6l5.4,13.2l5.4,16.4l5.5,10.2l5.4,5.4l5.4,3.1l5.4,1.2l5.4,0.3l5.5,0.5l5.4,0.5l5.4,0.1l5.4,0l5.4,0l5.5,0l5.4,-1.4l5.4,-0.2l5.4,-0.2l5.4,-1.2l5.4,-2.6l5.5,-3.6l5.4,-5.9l5.4,-9.7l5.4,-8.9l5.4,-8l5.5,-5.1l5.4,-5.6l5.4,-0.6l5.4,0l5.4,-3.1l5.5,-3.2l5.4,-2.8l5.4,-4.3l5.4,-5.8l5.4,-5.5l5.5,-4.3l5.4,-4.3l5.4,-6l5.4,-4.7l5.4,-3.6l5.4,-2.6l5.5,-2.9l5.4,-0.7l5.4,-0.3"/>
<path class="l0" d="M141.2,2070.8l5.4,0.9l5.4,1.5l5.5,1.7l5.4,0.1l5.4,1.8l5.4,5l5.4,6.9l5.4,5.6l5.5,6.1l5.4,3.6l5.4,3.8l5.4,4.5l5.4,2.5l5.5,1.8l5.4,1.1l5.4,0l5.4,-0.1l5.4,-0.2l5.5,-0.3l5.4,-1.6l5.4,-1.2l5.4,-1.7l5.4,-1.3l5.4,-2.4l5.5,-2.5l5.4,-1.3l5.4,-0.7l5.4,-1.8l5.4,-2.1l5.5,-0.9l5.4,0l5.4,0l5.4,0l5.4,-1.5l5.5,-1.7l5.4,-1.4l5.4,-1.7l5.4,-3.3l5.4,-2.1l5.5,-2.3l5.4,-3.3l5.4,-2.9l5.4,-2.2l5.4,-3.1l5.4,-1.5l5.5,-1.8l5.4,0l5.4,0"/>
<path class="l0" d="M141.2,2070.8l5.4,0.1l5.4,0.5l5.5,3.2l5.4,4.2l5.4,3l5.4,4.1l5.4,4.2l5.4,6.7l5.5,8.1l5.4,6.6l5.4,4.5l5.4,2.4l5.4,0.7l5.5,-0.1l5.4,-0.8l5.4,-0.5l5.4,0l5.4,0l5.5,0l5.4,-0.8l5.4,-1.3l5.4,-3.4l5.4,-2.8l5.4,-1.8l5.5,-3.2l5.4,-3.9l5.4,-4.1l5.4,-5.2l5.4,-3.2l5.5,-2.8l5.4,-3.5l5.4,-1.6l5.4,0l5.4,-2.1l5.5,0l5.4,0l5.4,-0.7l5.4,-2.5l5.4,-1.8l5.5,-1.5l5.4,-0.7l5.4,0l5.4,0l5.4,0l5.4,0l5.5,0l5.4,0l5.4,0"/>
</g>
<g class="l1" clip-path="url(#cpc)">
<path class="l1" d="M445.2,1732.3l5.5,43.2l5.5,40.7l5.4,33l5.5,23.9l5.5,27.8l5.5,21.5l5.5,12.7l5.5,4.4l5.5,-2.1l5.4,-4.9l5.5,-11.1l5.5,-13.9l5.5,-17.7l5.5,-15.4l5.5,-17.7l5.5,-22.9l5.4,-23.8l5.5,-20.6l5.5,-16.2l5.5,-20.1l5.5,-16.5l5.5,-17.1"/>
<path class="l1" d="M401.3,2209.4l5.5,1l5.5,0.1l5.5,0l5.4,0l5.5,0.9l5.5,1.6l5.5,2.1l5.5,4.3l5.5,8.1l5.5,10.1l5.4,12.9l5.5,14.1l5.5,25.4l5.5,28l5.5,25.2l5.5,10.1l5.5,-5.1l5.4,-11.2l5.5,-18.8l5.5,-19.7l5.5,-19l5.5,-13.5l5.5,-12.5l5.5,-11.4l5.4,-9.2l5.5,-6.8l5.5,-3.6l5.5,-3.8l5.5,-3.4l5.5,-1.9l5.4,-1.3l5.5,0l5.5,0l5.5,0l5.5,0l5.5,0l5.5,0l5.4,-0.9l5.5,-0.7l5.5,0l5.5,0l5.5,0l5.5,0l5.5,0l5.4,0l5.5,-0.3l5.5,-1.8l5.5,0"/>
<path class="l1" d="M401.3,2132.1l5.5,0l5.5,0.2l5.5,1.2l5.4,0.5l5.5,1.2l5.5,1.6l5.5,1.4l5.5,2.7l5.5,7.7l5.5,17.6l5.4,24l5.5,22l5.5,32.6l5.5,35.5l5.5,36.9l5.5,36.1l5.5,-19.8l5.4,-27.6l5.5,-27.9l5.5,-25.3l5.5,-24.5l5.5,-18.7l5.5,-18.7l5.5,-20.1l5.4,-14.9l5.5,-7.5l5.5,-3.8l5.5,-3.3l5.5,-1.4l5.5,0l5.4,0l5.5,0l5.5,0l5.5,0l5.5,-2.4l5.5,-0.1l5.5,0l5.4,-0.7l5.5,-0.6l5.5,0l5.5,-0.8l5.5,-1.2l5.5,0l5.5,-0.3l5.4,-1.6l5.5,0l5.5,0l5.5,0"/>
<path class="l1" d="M401.3,2013.8l5.5,-0.6l5.5,-2.9l5.5,-4.6l5.4,-7.1l5.5,-5.1l5.5,-2.8l5.5,0.6l5.5,5.2l5.5,13.8l5.5,24.1l5.4,33.4l5.5,32.6l5.5,54.6l5.5,62.8l5.5,67.7l5.5,67.7l5.5,-37.2l5.4,-48.6l5.5,-48.2l5.5,-44.6l5.5,-43l5.5,-26.6l5.5,-26l5.5,-29.1l5.4,-24.9l5.5,-18.9l5.5,-13.4l5.5,-16.5l5.5,-10.4l5.5,-6.9l5.4,-4.6l5.5,-0.8l5.5,0.8l5.5,3.4l5.5,5.5l5.5,7l5.5,5.6l5.4,6.6l5.5,6.3l5.5,5.3l5.5,4.5l5.5,3.8l5.5,4.1l5.5,3.3l5.4,1.9l5.5,1.9l5.5,0.9l5.5,-0.6"/>
<path class="l1" d="M401.3,2031.0l5.5,-0.5l5.5,-6.7l5.5,-1.1l5.4,-2.1l5.5,-2.5l5.5,0l5.5,1.6l5.5,5.9l5.5,15l5.5,21.6l5.4,24.5l5.5,21.6l5.5,29.5l5.5,28.4l5.5,21.6l5.5,9.6l5.5,-3.1l5.4,-11.1l5.5,-15.5l5.5,-19.5l5.5,-19.5l5.5,-17.4l5.5,-18.5l5.5,-20l5.4,-18.5l5.5,-14.7l5.5,-11.7l5.5,-12.8l5.5,-8.7l5.5,-6.8l5.4,-3.9l5.5,-1.3l5.5,0.5l5.5,1l5.5,2l5.5,2.9l5.5,3l5.4,4.7l5.5,4.8l5.5,3.3l5.5,3.1l5.5,3.2l5.5,2.9l5.5,2.3l5.4,1.7l5.5,1.2l5.5,0.4l5.5,-0.4"/>
<path class="l1" d="M401.3,2013.8l5.5,1.2l5.5,8.8l5.5,5.5l5.4,7l5.5,20.2l5.5,17.4l5.5,10.5l5.5,12.4l5.5,18.2l5.5,14.6l5.4,16.2l5.5,12.1l5.5,16.5l5.5,13.1l5.5,6.5l5.5,3.4l5.5,-1l5.4,-4.9l5.5,-6.8l5.5,-8.2l5.5,-10.8l5.5,-9.7l5.5,-10l5.5,-11.7l5.4,-11.5l5.5,-9.3l5.5,-8.3l5.5,-8l5.5,-7.1l5.5,-4.9l5.4,-4l5.5,-1.3l5.5,0l5.5,-1.7l5.5,-3.5l5.5,-3.5l5.5,-2.7l5.4,-4.1l5.5,-5.6l5.5,-4.4l5.5,-4l5.5,-4.1l5.5,-3.9l5.5,-4.6l5.4,-2.9l5.5,-1.9l5.5,-1.5l5.5,-0.5"/>
<path class="l1" d="M401.3,2031.0l5.5,0.4l5.5,4l5.5,5.1l5.4,5.2l5.5,9.3l5.5,14.5l5.5,13.5l5.5,13.2l5.5,16.5l5.5,13.1l5.4,4.5l5.5,1.8l5.5,0.4l5.5,1.5l5.5,0l5.5,0l5.5,0l5.4,0l5.5,0l5.5,-1.5l5.5,-0.9l5.5,-0.7l5.5,-1l5.5,-2.2l5.4,-5.6l5.5,-8.5l5.5,-8.2l5.5,-11.7l5.5,-10.1l5.5,-6.5l5.4,-5.2l5.5,-1.1l5.5,0l5.5,-3.4l5.5,-1.8l5.5,-4.7l5.5,-4.3l5.4,-5l5.5,-5.7l5.5,-5.9l5.5,-4.7l5.5,-4.1l5.5,-5.5l5.5,-4.7l5.4,-3.6l5.5,-2.7l5.5,-0.9l5.5,0"/>
</g>
<g class="l2" clip-path="url(#cpc)">
<path class="l2" d="M708.5,1732.1l5.5,25.9l5.5,46.2l5.5,40.2l5.5,35.1l5.5,25.9l5.5,16.7l5.5,13l5.5,2.9l5.5,-2.3l5.4,-8.1l5.5,-7.9l5.5,-15l5.5,-19.6l5.5,-22l5.5,-17.7l5.5,-21.8l5.5,-25.5l5.5,-22.7l5.5,-21.1l5.5,-17.1l5.5,-12.6"/>
<path class="l2" d="M664.6,2208.2l5.5,0l5.5,0l5.5,1.9l5.5,0l5.5,1.5l5.5,1.8l5.4,3.4l5.5,2.6l5.5,4.6l5.5,10.1l5.5,12l5.5,17.5l5.5,22l5.5,21.8l5.5,30.3l5.5,15.5l5.5,-13l5.4,-22.7l5.5,-14.3l5.5,-19.6l5.5,-17.1l5.5,-13l5.5,-8.7l5.5,-8.9l5.5,-7.1l5.5,-5.5l5.5,-4.3l5.5,-3.4l5.5,-2.6l5.5,-0.8l5.4,0l5.5,0l5.5,0l5.5,0l5.5,-2.1l5.5,0l5.5,0l5.5,0l5.5,0l5.5,0l5.5,0l5.4,0l5.5,0l5.5,-0.6l5.5,-1.3l5.5,0l5.5,0l5.5,0"/>
<path class="l2" d="M664.6,2132.2l5.5,0l5.5,0l5.5,2.1l5.5,0l5.5,1.5l5.5,1.8l5.4,1.8l5.5,3l5.5,7.2l5.5,17.3l5.5,25.1l5.5,31.2l5.5,31l5.5,28.4l5.5,39.3l5.5,30.9l5.5,-32.5l5.4,-25.3l5.5,-19.8l5.5,-25.2l5.5,-25.5l5.5,-24.9l5.5,-15.3l5.5,-17l5.5,-14.7l5.5,-7.7l5.5,-3.1l5.5,-1.4l5.5,-0.5l5.5,0l5.4,0l5.5,0l5.5,-0.3l5.5,-2.2l5.5,0l5.5,0l5.5,0l5.5,-1.2l5.5,-0.3l5.5,0l5.5,-1.3l5.4,-0.3l5.5,0l5.5,-0.7l5.5,-1.4l5.5,0l5.5,0l5.5,0"/>
<path class="l2" d="M664.6,2010.7l5.5,-1.2l5.5,-6.2l5.5,-5.5l5.5,-3.7l5.5,-5.7l5.5,-4.3l5.4,2.1l5.5,6l5.5,12.9l5.5,26.1l5.5,37.2l5.5,48.7l5.5,51.7l5.5,50.3l5.5,74.1l5.5,59.2l5.5,-56.9l5.4,-49.2l5.5,-34.1l5.5,-42.6l5.5,-41.1l5.5,-30.9l5.5,-20.1l5.5,-30.6l5.5,-31.7l5.5,-20.4l5.5,-17.7l5.5,-11.4l5.5,-7.9l5.5,-8.5l5.4,-4.3l5.5,-0.8l5.5,2.4l5.5,4.2l5.5,5.5l5.5,7.2l5.5,7.4l5.5,5.3l5.5,7l5.5,5.9l5.5,5.3l5.4,4.7l5.5,3.1l5.5,3.1l5.5,3.4l5.5,0.9l5.5,0.1l5.5,1"/>
<path class="l2" d="M664.6,2018.6l5.5,0l5.5,-4.8l5.5,-4.9l5.5,-4.3l5.5,-5.9l5.5,-0.6l5.4,2.7l5.5,6.2l5.5,12.1l5.5,24.4l5.5,34.6l5.5,42.9l5.5,44.4l5.5,36.7l5.5,45.9l5.5,18l5.5,-15.4l5.4,-30.4l5.5,-23.8l5.5,-33.1l5.5,-34.7l5.5,-37.6l5.5,-25.7l5.5,-16.7l5.5,-17.9l5.5,-19.9l5.5,-16.6l5.5,-10.4l5.5,-7.9l5.5,-8.2l5.4,-3l5.5,-1.6l5.5,0.4l5.5,3.7l5.5,5.9l5.5,5l5.5,7.4l5.5,3.9l5.5,5.1l5.5,5.6l5.5,5.5l5.4,4.1l5.5,2.7l5.5,2.2l5.5,2.3l5.5,1.5l5.5,0.2l5.5,0"/>
<path class="l2" d="M664.6,2010.7l5.5,1.1l5.5,8.4l5.5,7.2l5.5,8l5.5,15.1l5.5,16.6l5.4,19.6l5.5,15.2l5.5,19.6l5.5,28l5.5,25.5l5.5,26.8l5.5,23.9l5.5,17.6l5.5,17.5l5.5,5.4l5.5,-4l5.4,-10.7l5.5,-13.4l5.5,-17.8l5.5,-18.2l5.5,-20.5l5.5,-15.3l5.5,-16.5l5.5,-17.7l5.5,-15.6l5.5,-15l5.5,-9.7l5.5,-6.4l5.5,-7.2l5.4,-4.5l5.5,-1.2l5.5,-0.1l5.5,-1.4l5.5,-3.8l5.5,-3.5l5.5,-5.5l5.5,-4.2l5.5,-4.9l5.5,-5.3l5.5,-5.8l5.4,-5.1l5.5,-3.7l5.5,-4l5.5,-4.7l5.5,-1.7l5.5,-0.2l5.5,0"/>
<path class="l2" d="M664.6,2018.6l5.5,0.5l5.5,6.3l5.5,9.4l5.5,7.7l5.5,14l5.5,15.9l5.4,19.7l5.5,18l5.5,10.1l5.5,5.5l5.5,4.8l5.5,2.5l5.5,0.6l5.5,0l5.5,0l5.5,0l5.5,0l5.4,0l5.5,0l5.5,-1.4l5.5,0l5.5,-1.9l5.5,-1.2l5.5,-2.3l5.5,-6l5.5,-10.5l5.5,-12.9l5.5,-9.9l5.5,-7.4l5.5,-7.3l5.4,-4.6l5.5,-1l5.5,-0.1l5.5,-1.5l5.5,-3.7l5.5,-5.5l5.5,-5.5l5.5,-2.5l5.5,-6.1l5.5,-7.6l5.5,-6.1l5.4,-4.3l5.5,-3.8l5.5,-4.1l5.5,-4.1l5.5,-2.3l5.5,-0.3l5.5,1"/>
</g>
<rect class="box" x="141.2" y="1733.5" width="787.0" height="619.8"/>
<path d="M141.2,2250.0h6M928.2,2250.0h-6" stroke="#777" stroke-width="1" fill="none"/>
<path d="M141.2,2146.7h6M928.2,2146.7h-6" stroke="#777" stroke-width="1" fill="none"/>
<path d="M141.2,2043.4h6M928.2,2043.4h-6" stroke="#777" stroke-width="1" fill="none"/>
<path d="M141.2,1940.1h6M928.2,1940.1h-6" stroke="#777" stroke-width="1" fill="none"/>
<path d="M141.2,1836.8h6M928.2,1836.8h-6" stroke="#777" stroke-width="1" fill="none"/>
<text class="tkc" text-anchor="end" x="133.1" y="2363.4">0</text>
<text class="tkc" text-anchor="end" x="133.1" y="2260.1">1</text>
<text class="tkc" text-anchor="end" x="133.1" y="2156.8">2</text>
<text class="tkc" text-anchor="end" x="133.1" y="2053.5">3</text>
<text class="tkc" text-anchor="end" x="133.1" y="1950.2">4</text>
<text class="tkc" text-anchor="end" x="133.1" y="1846.9">5</text>
<text class="tkc" text-anchor="end" x="133.1" y="1743.6">6</text>
<text class="tkc" text-anchor="middle" transform="translate(144.4,2386.6) scale(1.11,1)">M</text>
<text class="tkc" text-anchor="middle" transform="translate(231.4,2386.6) scale(0.83,1)">Γ</text>
<text class="tkc" text-anchor="middle" transform="translate(312.5,2386.6) scale(0.85,1)">X</text>
<text class="tkc" text-anchor="middle" transform="translate(400.2,2386.6) scale(1.11,1)">M</text>
<text class="tkc" text-anchor="middle" transform="translate(490.9,2386.6) scale(0.83,1)">Γ</text>
<text class="tkc" text-anchor="middle" transform="translate(573.4,2386.6) scale(0.85,1)">X</text>
<text class="tkc" text-anchor="middle" transform="translate(661.8,2386.6) scale(1.11,1)">M</text>
<text class="tkc" text-anchor="middle" transform="translate(754.9,2386.6) scale(0.83,1)">Γ</text>
<text class="tkc" text-anchor="middle" transform="translate(836.6,2386.6) scale(0.85,1)">X</text>
<text class="tkc" text-anchor="middle" transform="translate(931.6,2386.6) scale(1.11,1)">M</text>
<text class="ttc" text-anchor="middle" x="272.0" y="1721.0">H/a = 1</text>
<text class="ttc" text-anchor="middle" x="540.0" y="1721.0">H/a = 2.5</text>
<text class="ttc" text-anchor="middle" x="807.0" y="1721.0">H/a = 5</text>
<text class="tkc" style="font-size:28.7px" text-anchor="middle" x="542.0" y="2418.0">Reduced wavevector k*</text>
<text class="tkc" text-anchor="middle" transform="translate(98.6,2040.8) rotate(-90)">Frequency [Hz]</text>
<text class="nm" text-anchor="middle" transform="translate(32.0,2052.0) rotate(-90)">Coated cylinder</text>
<text class="tg" text-anchor="middle" transform="translate(553.0,2457.0) scale(1.1,1)">(c)</text>
<path class="arr" style="stroke-width:3" d="M313.2,1904.3L313.2,1959.0M299.5,1935.5L313.2,1959.9L326.9,1935.5"/>
<text class="an" style="font-size:29.8px" x="315.9" y="1900.6" textLength="63.9" lengthAdjust="spacingAndGlyphs">MS1</text>
<path class="arr" style="stroke-width:3" d="M582.2,1888.0L582.2,2054.4M569.0,2030.4L582.2,2055.3L595.4,2030.4"/>
<text class="an" style="font-size:29.8px" x="553.7" y="1880.1" textLength="67.0" lengthAdjust="spacingAndGlyphs">MS2</text>
</g>
<g transform="translate(990,30) scale(0.22047)">
<path d="M100,295 L590,620 L595,1350 C480,1300 400,1250 370,1180 C350,1140 340,1125 330,1120 L130,985 Z" fill="url(#dgl)"/>
<g clip-path="url(#dcl)">
<path d="M95,330 L595,662" stroke="#30d8f8" stroke-width="55" fill="none" filter="url(#f25)" opacity="0.85"/>
<ellipse cx="210" cy="405" rx="110" ry="30" fill="#40f0ff" filter="url(#f25)" transform="rotate(33 210 405)"/>
<ellipse cx="345" cy="1150" rx="45" ry="110" fill="#40f0ff" filter="url(#f25)" transform="rotate(-25 345 1150)"/>
<ellipse cx="470" cy="1290" rx="70" ry="45" fill="#30d0f8" filter="url(#f25)" transform="rotate(30 470 1290)"/>
<ellipse cx="215" cy="950" rx="35" ry="100" fill="#2060f8" filter="url(#f25)"/>
<ellipse cx="330" cy="760" rx="30" ry="200" fill="#000070" filter="url(#f25)" opacity="0.7"/>
</g>
<path d="M590,620 L1260,370 L1235,1075 C1100,1150 900,1250 595,1350 Z" fill="url(#dgr)"/>
<g clip-path="url(#dcr)">
<ellipse cx="1130" cy="1050" rx="90" ry="60" fill="#1040d8" filter="url(#f45)"/>
<ellipse cx="960" cy="1245" rx="230" ry="28" fill="#30d8e8" filter="url(#f25)" transform="rotate(-22 960 1245)"/>
<ellipse cx="760" cy="660" rx="200" ry="40" fill="#0c2cc8" filter="url(#f25)" transform="rotate(-20 760 660)"/>
</g>
<path d="M100,295 C250,250 400,200 520,160 C620,110 700,80 755,70 C900,120 960,200 1010,250 C1100,300 1180,340 1260,370 L590,620 Z" fill="#34d0f0"/>
<g clip-path="url(#dct)">
<ellipse cx="120" cy="300" rx="80" ry="40" fill="#1828c8" filter="url(#f25)"/>
<ellipse cx="760" cy="65" rx="100" ry="40" fill="#3030c0" filter="url(#f25)"/>
<ellipse cx="1245" cy="385" rx="90" ry="45" fill="#2030c0" filter="url(#f25)"/>
<ellipse cx="600" cy="625" rx="110" ry="35" fill="#1838d0" filter="url(#f25)"/>
<ellipse cx="440" cy="350" rx="340" ry="210" fill="url(#dh1)"/>
<ellipse cx="720" cy="170" rx="310" ry="192" fill="url(#dh2)"/>
<ellipse cx="860" cy="420" rx="330" ry="204" fill="url(#dh3)"/>
<ellipse cx="640" cy="470" rx="250" ry="155" fill="url(#dh4)"/>
</g>
<path d="M365,210 L540,165 L545,450 L515,460 L480,270 Z" fill="#0a28c8"/>
<path d="M420,200 L540,168 L543,300 Z" fill="#28b0f0"/>
<path d="M545,165 L700,260 L700,445 L655,445 L655,405 L545,445 Z" fill="url(#dgw)"/>
<path d="M590,150 C650,130 700,122 760,120 L880,195 L700,260 Z" fill="url(#dgw3)"/>
<path d="M700,260 L905,195 L905,335 L820,355 L770,400 L700,445 Z" fill="url(#dgw2)"/>
<path d="M905,195 L1010,250 L960,295 L905,335 Z" fill="#1038d8"/>
<path d="M390,290 L478,265 L515,460 L445,480 L315,400 Z" fill="url(#dgw4)"/>
<path d="M770,400 L880,365 L990,440 L830,500 Z" fill="url(#dgw5)"/>
<path d="M540,470 L655,440 L700,445 L760,480 C700,520 600,520 540,470 Z" fill="url(#dgw6)"/>
<path d="M100,295 L755,70 L1260,370 M1015,230 L1255,365 M130,985 L345,1150 M590,620 L595,1350 M100,295 L590,620 L1260,370 M100,295 L130,985" stroke="#111" stroke-width="3" fill="none"/>
<path d="M380,210 L540,165 L700,260 L905,195 L1030,270 L825,345 L990,440 L830,505 L655,405 L445,480 L310,400 L520,325 M540,165 L540,450 M700,260 L700,445 M905,195 L905,330 M655,405 L655,445 M825,345 L825,395" stroke="#111" stroke-width="2.4" fill="none"/>
</g>
<g transform="translate(1030,440) scale(0.17323)">
<path d="M130,250 C250,330 420,420 570,520 C555,700 555,900 565,1100 C580,1300 578,1500 580,1690 L400,1580 L165,1420 C185,1340 200,1250 192,1180 C180,1060 150,950 150,830 C152,740 180,650 172,560 C165,450 140,350 130,250 Z" fill="#1068e8"/>
<g clip-path="url(#ecl)">
<ellipse cx="330" cy="1000" rx="260" ry="70" fill="#28e0f8" filter="url(#f45)" transform="rotate(25 330 1000)"/>
<ellipse cx="400" cy="560" rx="200" ry="55" fill="#28c8f8" filter="url(#f45)" transform="rotate(25 400 560)"/>
<ellipse cx="380" cy="1420" rx="230" ry="70" fill="#28c8f8" filter="url(#f45)" transform="rotate(25 380 1420)"/>
<path d="M100,540 L600,850 L600,990 L100,690 Z" fill="#000078" filter="url(#f25)"/>
<path d="M100,1030 L600,1250 L600,1390 L100,1170 Z" fill="#000078" filter="url(#f25)"/>
<ellipse cx="250" cy="400" rx="40" ry="90" fill="#0818a8" filter="url(#f25)" transform="rotate(-20 250 400)"/>
<ellipse cx="375" cy="1500" rx="22" ry="70" fill="#000080" filter="url(#f12)"/>
<ellipse cx="540" cy="1560" rx="22" ry="90" fill="#000080" filter="url(#f12)"/>
</g>
<path d="M570,520 C750,470 950,400 1120,330 C1150,420 1160,520 1145,640 C1125,760 1100,850 1108,980 C1115,1100 1140,1200 1130,1320 C1125,1400 1115,1440 1110,1480 L900,1585 L720,1680 L580,1690 C578,1500 580,1300 565,1100 C555,900 555,700 570,520 Z" fill="#0c40dc"/>
<g clip-path="url(#ecr)">
<ellipse cx="850" cy="1000" rx="330" ry="70" fill="#20b0f0" filter="url(#f45)" transform="rotate(-12 850 1000)"/>
<path d="M540,850 L1160,690 L1160,830 L540,980 Z" fill="#000070" filter="url(#f25)"/>
<path d="M540,1230 L1160,1030 L1160,1170 L540,1370 Z" fill="#000070" filter="url(#f25)"/>
<ellipse cx="650" cy="600" rx="60" ry="60" fill="#000078" filter="url(#f25)"/>
<ellipse cx="1090" cy="560" rx="50" ry="110" fill="#000078" filter="url(#f25)"/>
<ellipse cx="700" cy="1500" rx="70" ry="60" fill="#000078" filter="url(#f25)"/>
<ellipse cx="1080" cy="1300" rx="40" ry="90" fill="#000078" filter="url(#f25)"/>
<ellipse cx="860" cy="470" rx="60" ry="40" fill="#000070" filter="url(#f25)"/>
<ellipse cx="880" cy="680" rx="75" ry="120" fill="#38e0c0" filter="url(#f25)" transform="rotate(15 880 680)"/>
<ellipse cx="885" cy="680" rx="30" ry="60" fill="#70d890" filter="url(#f12)" transform="rotate(15 885 680)"/>
<ellipse cx="840" cy="1010" rx="80" ry="80" fill="#30d8d0" filter="url(#f25)"/>
<ellipse cx="1050" cy="900" rx="60" ry="90" fill="#28b8e8" filter="url(#f25)"/>
<ellipse cx="880" cy="1400" rx="75" ry="120" fill="#38e0c0" filter="url(#f25)" transform="rotate(15 880 1400)"/>
<ellipse cx="885" cy="1400" rx="30" ry="60" fill="#78d888" filter="url(#f12)" transform="rotate(15 885 1400)"/>
<ellipse cx="640" cy="1150" rx="60" ry="60" fill="#1868e8" filter="url(#f25)"/>
</g>
<path d="M130,250 C220,190 320,170 400,150 C500,130 600,90 690,65 C780,90 850,150 900,180 C980,230 1050,290 1120,330 C950,400 750,470 570,520 C420,420 250,330 130,250 Z" fill="#38b0f0"/>
<g clip-path="url(#ect)">
<ellipse cx="150" cy="260" rx="60" ry="40" fill="#1840d8" filter="url(#f12)"/>
<ellipse cx="600" cy="180" rx="100" ry="50" fill="#6068e8" filter="url(#f25)"/>
<ellipse cx="640" cy="420" rx="100" ry="50" fill="#6070f0" filter="url(#f25)"/>
<ellipse cx="1080" cy="340" rx="70" ry="40" fill="#1838d0" filter="url(#f25)"/>
<ellipse cx="330" cy="260" rx="90" ry="80" fill="#f0e828" filter="url(#f25)"/>
<ellipse cx="930" cy="320" rx="90" ry="50" fill="#f0e828" filter="url(#f25)" transform="rotate(-25 930 320)"/>
</g>
<path d="M390,170 L525,150 L530,385 L470,400 L440,300 Z" fill="#0a28d0"/>
<path d="M525,150 L660,215 L660,335 L620,345 L530,385 Z" fill="#1030d0"/>
<path d="M660,215 L840,170 L850,250 L770,290 L770,345 L665,335 Z" fill="#28a8e8"/>
<path d="M840,170 L950,240 L850,270 Z" fill="#0a30d8"/>
<path d="M345,300 C390,230 440,200 490,190 L522,385 L440,430 Z" fill="url(#egw1)"/>
<path d="M740,365 C800,330 880,290 960,270 L1010,300 L915,395 L790,412 Z" fill="url(#egw2)"/>
<path d="M130,250 L165,1420 L400,1580 M1120,330 L1145,335 L1110,1500 L720,1680 M570,520 L580,1690 M130,250 L570,520 L1120,330 M500,135 L715,65 L1145,335" stroke="#111" stroke-width="2.6" fill="none"/>
<path d="M345,330 L525,150 M525,150 L530,385 M345,330 L440,430 L625,345 L770,415 L915,390 L915,345 M660,215 L845,170 L950,240 L770,290 L770,415 M660,215 L660,335 M845,170 L850,250 M525,150 L660,215" stroke="#111" stroke-width="2.2" fill="none"/>
</g>
<g transform="translate(990,890) scale(0.22047)">
<path d="M80,300 L560,625 L565,1340 C480,1290 400,1230 330,1130 C280,1060 200,1020 105,975 Z" fill="url(#fgl)"/>
<path d="M560,625 L1230,375 L1200,1070 C1100,1150 950,1180 800,1230 L565,1340 Z" fill="url(#fgr)"/>
<path d="M80,300 C300,240 500,140 725,80 C850,200 1050,320 1230,375 C1000,440 780,540 560,625 C400,540 240,400 80,300 Z" fill="url(#fgt)"/>
<g clip-path="url(#fct)">
<ellipse cx="100" cy="305" rx="60" ry="30" fill="#3050f0" filter="url(#f12)"/>
<ellipse cx="1220" cy="378" rx="60" ry="30" fill="#3040e0" filter="url(#f12)"/>
<ellipse cx="725" cy="90" rx="50" ry="30" fill="#4060f0" filter="url(#f12)"/>
<ellipse cx="565" cy="615" rx="70" ry="30" fill="#3060f0" filter="url(#f12)"/>
</g>
<ellipse cx="648" cy="345" rx="328" ry="150" stroke="#111" stroke-width="2.2" fill="none"/>
<ellipse cx="648" cy="338" rx="246" ry="113" stroke="#111" stroke-width="2" fill="none"/>
<path d="M80,300 L725,80 L1230,375 L560,625 Z M560,625 L565,1340 M105,975 L330,1150 M565,1340 L1195,1075 M1230,375 L1200,1070 M80,300 L105,975" stroke="#111" stroke-width="2.6" fill="none"/>
</g>
<g transform="translate(1020,1280) scale(0.17323)">
<path d="M140,320 L558,600 L568,1765 L178,1490 Z" fill="#00008c"/>
<path d="M558,600 L1130,390 L1095,1565 L568,1765 Z" fill="#000066"/>
<path d="M140,320 L695,140 L1130,390 L558,600 Z" fill="#5656b4"/>
<ellipse cx="632" cy="362" rx="285" ry="132" stroke="#111" stroke-width="2" fill="none"/>
<ellipse cx="640" cy="392" rx="225" ry="72" fill="#3a3a98" filter="url(#f6)"/>
<path d="M425,385 C425,300 520,245 640,245 C760,245 855,300 855,385 C855,425 760,458 640,458 C520,458 425,425 425,385 Z" fill="#0a1cc0"/>
<g clip-path="url(#gcd)"><g filter="url(#f6)">
<ellipse cx="640" cy="372" rx="206" ry="84" fill="#1070f0"/>
<ellipse cx="640" cy="360" rx="194" ry="80" fill="#18c0f0"/>
<ellipse cx="640" cy="348" rx="180" ry="75" fill="#40e8c0"/>
<ellipse cx="638" cy="336" rx="164" ry="69" fill="#b0ec50"/>
<ellipse cx="636" cy="324" rx="148" ry="62" fill="#f4e020"/>
<ellipse cx="634" cy="312" rx="130" ry="54" fill="#f08018"/>
<ellipse cx="632" cy="300" rx="110" ry="45" fill="#de2410"/>
<ellipse cx="630" cy="290" rx="82" ry="31" fill="#a80c08"/>
<ellipse cx="608" cy="270" rx="30" ry="9" fill="#ffa898"/>
</g></g>
<path d="M140,320 L695,140 L1130,390 L558,600 Z M558,600 L568,1765 M140,320 L178,1490 L568,1765 L1095,1565 L1130,390" stroke="#111" stroke-width="2.2" fill="none"/>
</g>
<g transform="translate(990,1740) scale(0.22047)">
<path d="M42,285 L555,640 L560,1250 L70,860 Z" fill="url(#hgl)"/>
<path d="M555,640 L1268,370 L1245,945 L560,1250 Z" fill="url(#hgr)"/>
<path d="M42,285 L730,48 L1268,370 L555,640 Z" fill="#4444cc"/>
<ellipse cx="650" cy="335" rx="440" ry="222" fill="#1010a8" filter="url(#f12)"/>
<g clip-path="url(#hcr)">
<rect x="200" y="80" width="900" height="480" fill="#f0a818"/>
<ellipse cx="310" cy="430" rx="110" ry="80" fill="#d81010" filter="url(#f25)"/>
<ellipse cx="980" cy="175" rx="130" ry="70" fill="#d81010" filter="url(#f25)"/>
<ellipse cx="265" cy="235" rx="60" ry="95" fill="#1060f0" filter="url(#f25)" transform="rotate(35 265 235)"/>
<ellipse cx="320" cy="215" rx="30" ry="80" fill="#30e0e0" filter="url(#f12)" transform="rotate(40 320 215)"/>
<ellipse cx="960" cy="475" rx="120" ry="40" fill="#1060f0" filter="url(#f25)" transform="rotate(-30 960 475)"/>
<ellipse cx="900" cy="470" rx="70" ry="25" fill="#40e0e0" filter="url(#f12)" transform="rotate(-28 900 470)"/>
<ellipse cx="600" cy="120" rx="120" ry="30" fill="#f0e020" filter="url(#f12)"/>
<ellipse cx="700" cy="525" rx="120" ry="25" fill="#f0d020" filter="url(#f12)"/>
</g>
<path d="M930,115 L960,135 L975,150 L1000,160 L1020,190 L1045,215 L1055,240 L1075,320 L1000,200 Z" fill="#d01808"/>
<ellipse cx="668" cy="338" rx="358" ry="184" fill="#dca030"/>
<ellipse cx="683" cy="318" rx="347" ry="180" fill="#ffd84e"/>
<ellipse cx="650" cy="335" rx="352" ry="178" stroke="#111" stroke-width="2.4" fill="none"/>
<path d="M560,105 C350,120 228,220 228,330 C228,440 400,540 650,540" stroke="#111" stroke-width="2.2" fill="none"/>
<path d="M42,285 L730,48 M42,285 L555,640 L1268,370 M555,640 L560,1250 M42,285 L70,860 L560,1250 L1245,945 L1268,370" stroke="#111" stroke-width="2.6" fill="none"/>
</g>
<g transform="translate(1020,2120) scale(0.17323)">
<path d="M140,300 L538,555 L540,1690 C470,1640 400,1580 330,1500 L170,1395 Z" fill="url(#igl)"/>
<path d="M538,555 L1075,360 L1040,1460 C980,1480 900,1500 860,1510 C800,1530 700,1560 640,1640 L540,1690 Z" fill="url(#igr)"/>
<path d="M140,300 C300,250 500,180 665,125 C800,200 950,290 1075,360 L538,555 Z" fill="#4a60e8"/>
<g clip-path="url(#ict)">
<ellipse cx="260" cy="300" rx="60" ry="60" fill="#40d8f0" filter="url(#f25)"/>
<ellipse cx="560" cy="530" rx="120" ry="40" fill="#40c8f8" filter="url(#f25)"/>
<ellipse cx="980" cy="330" rx="70" ry="50" fill="#60b0f8" filter="url(#f25)"/>
<ellipse cx="170" cy="310" rx="40" ry="40" fill="#1020c0" filter="url(#f12)"/>
</g>
<ellipse cx="600" cy="315" rx="318" ry="172" fill="#d81010"/>
<path d="M770,160 C830,200 900,270 915,350 C880,330 840,260 760,200 Z" fill="#30d0e0"/>
<path d="M745,170 C800,200 860,260 880,330 C850,300 800,240 740,205 Z" fill="#f0d020"/>
<path d="M300,250 C320,220 340,210 360,205 L330,260 Z" fill="#f0e040"/>
<path d="M400,430 C480,470 600,490 720,470 L700,450 C600,470 500,460 420,420 Z" fill="#f0d040"/>
<ellipse cx="592" cy="345" rx="262" ry="138" fill="#c81010"/>
<ellipse cx="580" cy="325" rx="245" ry="125" fill="#ff5a55"/>
<ellipse cx="585" cy="335" rx="250" ry="130" stroke="#111" stroke-width="2.2" fill="none"/>
<ellipse cx="600" cy="335" rx="318" ry="165" stroke="#111" stroke-width="2" fill="none"/>
<path d="M140,300 L665,125 L1075,360 L538,555 Z M538,555 L540,1690 M140,300 L170,1395 L540,1690 L1040,1460 L1075,360 M770,440 L760,1560 M805,450 L790,1560" stroke="#111" stroke-width="2.4" fill="none"/>
<path d="M640,1640 C680,1570 800,1520 870,1530" stroke="#111" stroke-width="1.6" fill="none"/>
</g>
<text class="an" style="font-size:29.8px" x="1119.2" y="27.3" textLength="65.2" lengthAdjust="spacingAndGlyphs">MS1</text>
<text class="tg" text-anchor="middle" transform="translate(1137.9,374.0) scale(1.08,1)">(d)</text>
<text class="an" style="font-size:29.8px" x="1121.0" y="432.9" textLength="67.3" lengthAdjust="spacingAndGlyphs">MS2</text>
<text class="tg" text-anchor="middle" transform="translate(1146.3,777.2) scale(1.08,1)">(e)</text>
<text class="an" style="font-size:29.8px" x="1113.8" y="888.5" textLength="65.3" lengthAdjust="spacingAndGlyphs">MS1</text>
<text class="tg" text-anchor="middle" transform="translate(1122.3,1241.0) scale(1.08,1)">(f)</text>
<text class="an" style="font-size:29.8px" x="1097.9" y="1285.8" textLength="66.9" lengthAdjust="spacingAndGlyphs">MS2</text>
<text class="tg" text-anchor="middle" transform="translate(1138.2,1635.0) scale(1.08,1)">(g)</text>
<text class="an" style="font-size:29.8px" x="1101.6" y="1714.3" textLength="66.9" lengthAdjust="spacingAndGlyphs">MS1</text>
<text class="tg" text-anchor="middle" transform="translate(1114.9,2068.9) scale(1.08,1)">(h)</text>
<text class="an" style="font-size:29.8px" x="1086.8" y="2112.7" textLength="68.5" lengthAdjust="spacingAndGlyphs">MS2</text>
<text class="tg" text-anchor="middle" transform="translate(1122.0,2459.3) scale(1.08,1)">(i)</text>
<path d="M973.90,356.90L967.91,352.76" stroke="#00ee00" stroke-width="1.29" fill="none"/>
<path d="M964.45,350.37L968.89,351.33L966.92,354.18Z" fill="#00ee00"/>
<path d="M973.90,356.90L982.16,353.60" stroke="#ff0000" stroke-width="1.29" fill="none"/>
<path d="M986.52,351.85L982.82,355.25L981.49,351.94Z" fill="#ff0000"/>
<path d="M973.90,356.90L973.90,347.99" stroke="#0000ff" stroke-width="1.29" fill="none"/>
<path d="M973.90,343.53L975.68,347.99L972.12,347.99Z" fill="#0000ff"/>
<text class="ax" text-anchor="middle" x="973.9" y="342.5">z</text>
<text class="ax" text-anchor="middle" x="989.4" y="352.9">x</text>
<text class="ax" text-anchor="middle" x="962.3" y="350.6">y</text>
<path d="M976.50,763.50L970.57,759.40" stroke="#00ee00" stroke-width="1.27" fill="none"/>
<path d="M967.14,757.03L971.54,757.99L969.59,760.81Z" fill="#00ee00"/>
<path d="M976.50,763.50L984.67,760.23" stroke="#ff0000" stroke-width="1.27" fill="none"/>
<path d="M989.00,758.50L985.33,761.87L984.02,758.59Z" fill="#ff0000"/>
<path d="M976.50,763.50L976.50,754.68" stroke="#0000ff" stroke-width="1.27" fill="none"/>
<path d="M976.50,750.27L978.26,754.68L974.74,754.68Z" fill="#0000ff"/>
<text class="ax" text-anchor="middle" x="976.5" y="749.2">z</text>
<text class="ax" text-anchor="middle" x="991.8" y="759.5">x</text>
<text class="ax" text-anchor="middle" x="965.0" y="757.2">y</text>
<path d="M972.40,1212.70L966.47,1208.60" stroke="#00ee00" stroke-width="1.27" fill="none"/>
<path d="M963.04,1206.23L967.44,1207.19L965.49,1210.01Z" fill="#00ee00"/>
<path d="M972.40,1212.70L980.57,1209.43" stroke="#ff0000" stroke-width="1.27" fill="none"/>
<path d="M984.89,1207.70L981.23,1211.07L979.92,1207.79Z" fill="#ff0000"/>
<path d="M972.40,1212.70L972.40,1203.88" stroke="#0000ff" stroke-width="1.27" fill="none"/>
<path d="M972.40,1199.47L974.16,1203.88L970.64,1203.88Z" fill="#0000ff"/>
<text class="ax" text-anchor="middle" x="972.4" y="1198.4">z</text>
<text class="ax" text-anchor="middle" x="987.7" y="1208.7">x</text>
<text class="ax" text-anchor="middle" x="960.9" y="1206.4">y</text>
<path d="M967.60,1610.30L961.73,1606.24" stroke="#00ee00" stroke-width="1.26" fill="none"/>
<path d="M958.34,1603.90L962.69,1604.85L960.76,1607.64Z" fill="#00ee00"/>
<path d="M967.60,1610.30L975.69,1607.06" stroke="#ff0000" stroke-width="1.26" fill="none"/>
<path d="M979.97,1605.35L976.34,1608.69L975.04,1605.44Z" fill="#ff0000"/>
<path d="M967.60,1610.30L967.60,1601.57" stroke="#0000ff" stroke-width="1.26" fill="none"/>
<path d="M967.60,1597.20L969.35,1601.57L965.85,1601.57Z" fill="#0000ff"/>
<text class="ax" text-anchor="middle" x="967.6" y="1596.2">z</text>
<text class="ax" text-anchor="middle" x="982.8" y="1606.4">x</text>
<text class="ax" text-anchor="middle" x="956.3" y="1604.1">y</text>
<path d="M979.70,2042.20L967.59,2033.83" stroke="#00ee00" stroke-width="2.50" fill="none"/>
<path d="M960.60,2029.00L969.58,2030.95L965.60,2036.71Z" fill="#00ee00"/>
<path d="M979.70,2042.20L996.38,2035.53" stroke="#ff0000" stroke-width="2.50" fill="none"/>
<path d="M1005.20,2032.00L997.72,2038.87L995.04,2032.19Z" fill="#ff0000"/>
<path d="M979.70,2042.20L979.70,2024.20" stroke="#0000ff" stroke-width="2.50" fill="none"/>
<path d="M979.70,2015.20L983.30,2024.20L976.10,2024.20Z" fill="#0000ff"/>
<text class="ax2" text-anchor="middle" x="979.7" y="2013.1">z</text>
<text class="ax2" text-anchor="middle" x="1011.0" y="2034.1">x</text>
<text class="ax2" text-anchor="middle" x="956.3" y="2029.4">y</text>
<path d="M967.30,2429.70L955.19,2421.33" stroke="#00ee00" stroke-width="2.50" fill="none"/>
<path d="M948.20,2416.50L957.18,2418.45L953.20,2424.21Z" fill="#00ee00"/>
<path d="M967.30,2429.70L983.98,2423.03" stroke="#ff0000" stroke-width="2.50" fill="none"/>
<path d="M992.80,2419.50L985.32,2426.37L982.64,2419.69Z" fill="#ff0000"/>
<path d="M967.30,2429.70L967.30,2411.70" stroke="#0000ff" stroke-width="2.50" fill="none"/>
<path d="M967.30,2402.70L970.90,2411.70L963.70,2411.70Z" fill="#0000ff"/>
<text class="ax2" text-anchor="middle" x="967.3" y="2400.6">z</text>
<text class="ax2" text-anchor="middle" x="998.6" y="2421.6">x</text>
<text class="ax2" text-anchor="middle" x="943.9" y="2416.9">y</text>
</svg></body></html>
